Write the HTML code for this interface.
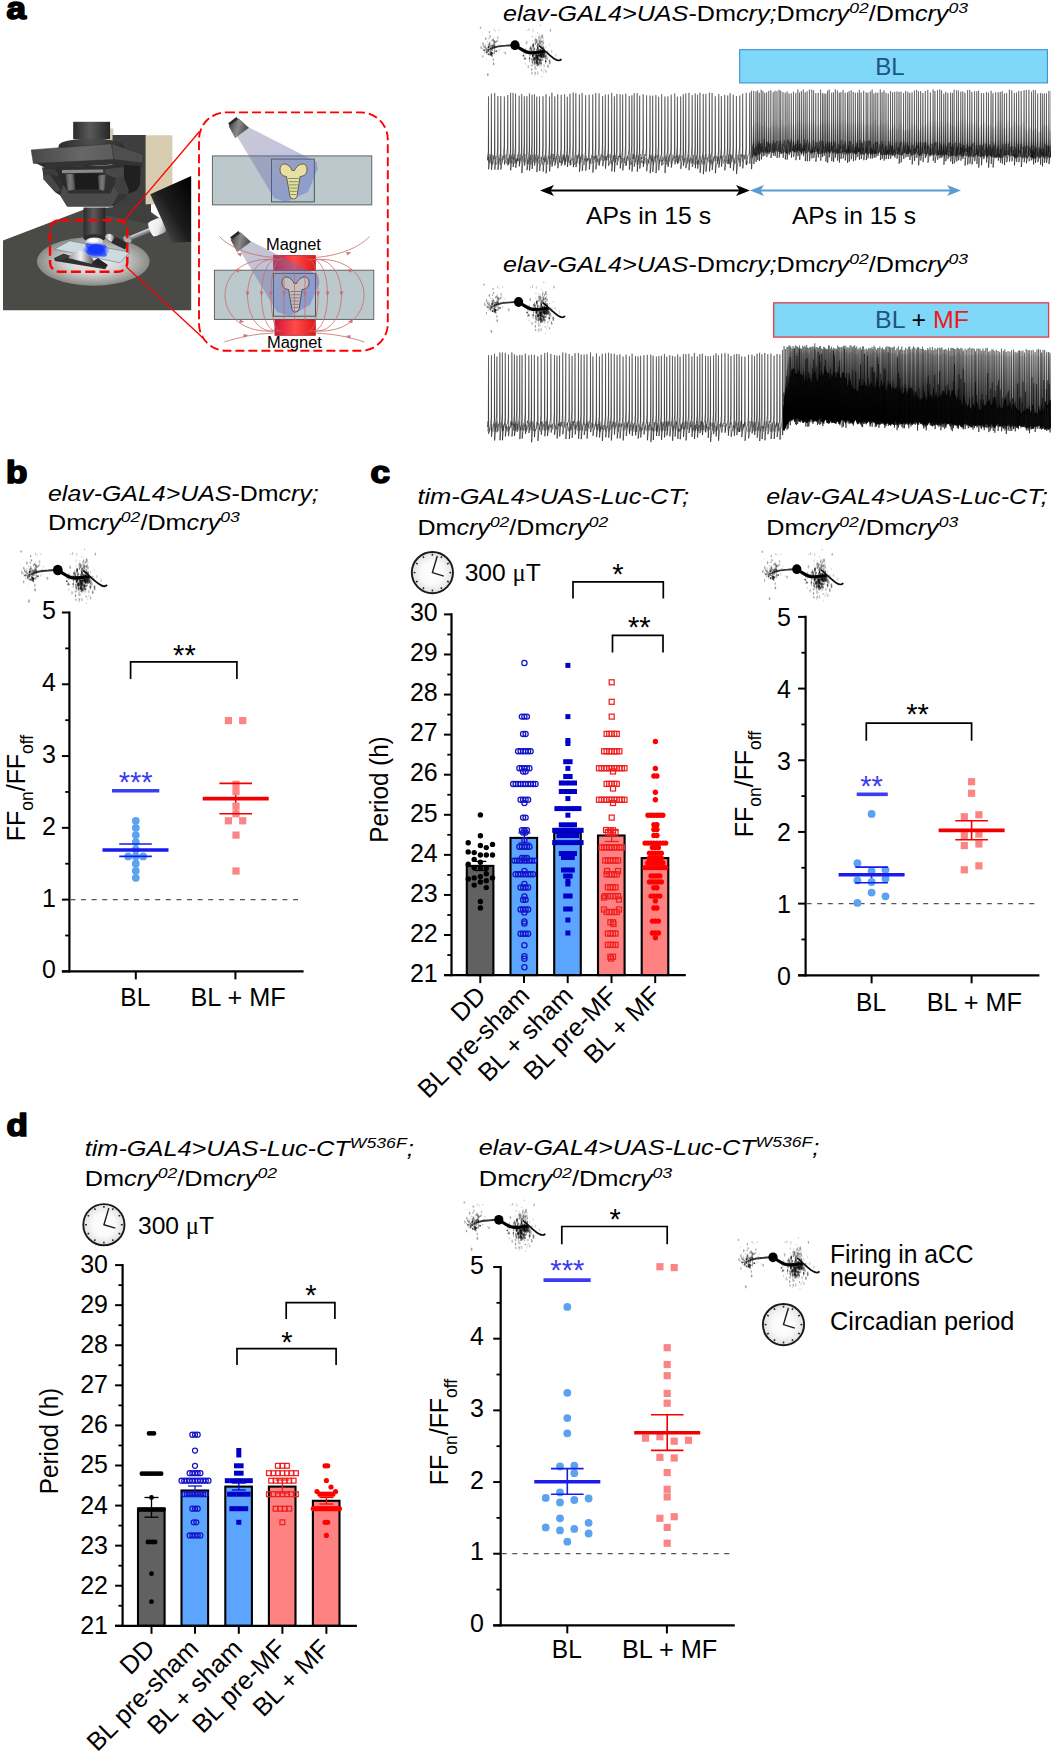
<!DOCTYPE html>
<html><head><meta charset="utf-8"><title>Figure</title>
<style>html,body{margin:0;padding:0;background:#fff}svg{display:block}text{font-family:"Liberation Sans",sans-serif}.i{font-style:italic}</style>
</head><body>
<svg width="1051" height="1752" viewBox="0 0 1051 1752">
<defs><filter id="nblur" x="-10%" y="-20%" width="120%" height="140%"><feGaussianBlur stdDeviation="0.45"/></filter><g id="neuron" filter="url(#nblur)"><ellipse cx="-30.4" cy="5.0" rx="0.81" ry="1.38" fill="#000" opacity="0.23"/><ellipse cx="-26.8" cy="-0.7" rx="0.58" ry="1.23" fill="#000" opacity="0.28"/><ellipse cx="-20.3" cy="5.8" rx="0.35" ry="0.69" fill="#000" opacity="0.34"/><ellipse cx="-9.7" cy="7.9" rx="0.83" ry="1.55" fill="#000" opacity="0.29"/><ellipse cx="-23.5" cy="3.2" rx="0.59" ry="0.75" fill="#000" opacity="0.10"/><ellipse cx="-23.9" cy="4.0" rx="0.56" ry="1.21" fill="#000" opacity="0.22"/><ellipse cx="-31.4" cy="0.6" rx="0.57" ry="0.94" fill="#000" opacity="0.29"/><ellipse cx="-27.2" cy="29.4" rx="0.85" ry="1.69" fill="#000" opacity="0.35"/><ellipse cx="-25.5" cy="7.3" rx="0.46" ry="0.95" fill="#000" opacity="0.10"/><ellipse cx="-32.2" cy="11.1" rx="0.51" ry="1.12" fill="#000" opacity="0.39"/><ellipse cx="-20.4" cy="2.0" rx="0.80" ry="1.90" fill="#000" opacity="0.23"/><ellipse cx="-25.6" cy="3.9" rx="0.65" ry="0.89" fill="#000" opacity="0.33"/><ellipse cx="-20.0" cy="5.7" rx="0.83" ry="0.97" fill="#000" opacity="0.32"/><ellipse cx="-23.9" cy="5.7" rx="0.33" ry="0.42" fill="#000" opacity="0.34"/><ellipse cx="-29.3" cy="-1.2" rx="0.40" ry="0.48" fill="#000" opacity="0.31"/><ellipse cx="-25.6" cy="-1.1" rx="0.53" ry="0.73" fill="#000" opacity="0.15"/><ellipse cx="-14.8" cy="-0.6" rx="0.47" ry="0.61" fill="#000" opacity="0.36"/><ellipse cx="-32.0" cy="11.7" rx="0.65" ry="1.56" fill="#000" opacity="0.11"/><ellipse cx="-23.1" cy="8.0" rx="0.72" ry="1.03" fill="#000" opacity="0.19"/><ellipse cx="-22.0" cy="3.5" rx="0.62" ry="1.14" fill="#000" opacity="0.16"/><ellipse cx="-28.0" cy="8.3" rx="0.83" ry="1.49" fill="#000" opacity="0.23"/><ellipse cx="-21.8" cy="-1.8" rx="0.38" ry="0.83" fill="#000" opacity="0.37"/><ellipse cx="-24.0" cy="7.2" rx="0.71" ry="0.90" fill="#000" opacity="0.38"/><ellipse cx="-13.8" cy="-3.1" rx="0.63" ry="0.72" fill="#000" opacity="0.21"/><ellipse cx="-11.1" cy="6.9" rx="0.43" ry="0.59" fill="#000" opacity="0.31"/><ellipse cx="-20.9" cy="-7.6" rx="0.46" ry="0.93" fill="#000" opacity="0.14"/><ellipse cx="-20.6" cy="4.4" rx="0.61" ry="1.13" fill="#000" opacity="0.35"/><ellipse cx="-26.2" cy="19.5" rx="0.41" ry="0.57" fill="#000" opacity="0.09"/><ellipse cx="-25.7" cy="2.9" rx="0.40" ry="0.71" fill="#000" opacity="0.20"/><ellipse cx="-20.7" cy="7.6" rx="0.79" ry="1.52" fill="#000" opacity="0.39"/><ellipse cx="-26.5" cy="-7.9" rx="0.38" ry="0.39" fill="#000" opacity="0.09"/><ellipse cx="-17.2" cy="-4.6" rx="0.83" ry="1.57" fill="#000" opacity="0.09"/><ellipse cx="-32.4" cy="3.4" rx="0.48" ry="0.53" fill="#000" opacity="0.40"/><ellipse cx="-32.1" cy="-1.7" rx="0.80" ry="1.58" fill="#000" opacity="0.32"/><ellipse cx="-20.9" cy="-15.1" rx="0.49" ry="1.12" fill="#000" opacity="0.30"/><ellipse cx="-20.3" cy="-4.0" rx="0.73" ry="1.32" fill="#000" opacity="0.36"/><ellipse cx="-27.6" cy="-3.6" rx="0.62" ry="0.69" fill="#000" opacity="0.27"/><ellipse cx="-34.5" cy="-17.4" rx="0.78" ry="1.21" fill="#000" opacity="0.31"/><ellipse cx="-24.6" cy="-8.5" rx="0.54" ry="0.61" fill="#000" opacity="0.35"/><ellipse cx="-24.0" cy="0.0" rx="0.63" ry="0.83" fill="#000" opacity="0.23"/><ellipse cx="-25.9" cy="-6.9" rx="0.64" ry="0.87" fill="#000" opacity="0.37"/><ellipse cx="-19.6" cy="2.5" rx="0.67" ry="0.83" fill="#000" opacity="0.14"/><ellipse cx="-17.7" cy="-4.6" rx="0.54" ry="0.79" fill="#000" opacity="0.37"/><ellipse cx="-25.7" cy="-2.6" rx="0.54" ry="1.22" fill="#000" opacity="0.34"/><ellipse cx="-20.3" cy="-3.4" rx="0.62" ry="0.74" fill="#000" opacity="0.18"/><ellipse cx="-33.9" cy="2.3" rx="0.77" ry="1.79" fill="#000" opacity="0.31"/><ellipse cx="-24.5" cy="6.8" rx="0.55" ry="0.71" fill="#000" opacity="0.17"/><ellipse cx="-30.3" cy="7.8" rx="0.57" ry="1.24" fill="#000" opacity="0.18"/><ellipse cx="-18.3" cy="1.0" rx="0.34" ry="0.76" fill="#000" opacity="0.09"/><ellipse cx="-16.1" cy="5.2" rx="0.61" ry="1.29" fill="#000" opacity="0.18"/><ellipse cx="-21.2" cy="2.5" rx="0.55" ry="1.19" fill="#000" opacity="0.09"/><ellipse cx="-23.8" cy="6.4" rx="0.33" ry="0.53" fill="#000" opacity="0.28"/><ellipse cx="-29.2" cy="-6.5" rx="0.74" ry="1.46" fill="#000" opacity="0.39"/><ellipse cx="-22.2" cy="10.6" rx="0.40" ry="0.66" fill="#000" opacity="0.08"/><ellipse cx="-24.7" cy="-2.9" rx="0.45" ry="0.89" fill="#000" opacity="0.19"/><ellipse cx="-31.1" cy="0.6" rx="0.72" ry="1.51" fill="#000" opacity="0.21"/><ellipse cx="-22.2" cy="0.1" rx="0.81" ry="0.96" fill="#000" opacity="0.31"/><ellipse cx="-31.0" cy="5.2" rx="0.80" ry="1.44" fill="#000" opacity="0.20"/><ellipse cx="-17.3" cy="-7.8" rx="0.82" ry="1.57" fill="#000" opacity="0.23"/><ellipse cx="-21.7" cy="14.3" rx="0.75" ry="1.50" fill="#000" opacity="0.29"/><ellipse cx="-21.4" cy="18.7" rx="0.84" ry="1.47" fill="#000" opacity="0.39"/><ellipse cx="-22.8" cy="-4.8" rx="0.80" ry="1.19" fill="#000" opacity="0.35"/><ellipse cx="-19.1" cy="6.3" rx="0.60" ry="1.01" fill="#000" opacity="0.33"/><ellipse cx="-14.7" cy="4.6" rx="0.34" ry="0.42" fill="#000" opacity="0.34"/><ellipse cx="-28.7" cy="14.1" rx="0.38" ry="0.65" fill="#000" opacity="0.13"/><ellipse cx="-25.6" cy="-13.1" rx="0.68" ry="1.15" fill="#000" opacity="0.38"/><ellipse cx="-21.9" cy="0.9" rx="0.42" ry="0.59" fill="#000" opacity="0.25"/><ellipse cx="-25.0" cy="-9.3" rx="0.59" ry="1.05" fill="#000" opacity="0.35"/><ellipse cx="-25.9" cy="9.3" rx="0.76" ry="0.99" fill="#000" opacity="0.37"/><ellipse cx="-15.9" cy="-15.0" rx="0.59" ry="0.75" fill="#000" opacity="0.26"/><ellipse cx="-30.0" cy="-0.1" rx="0.63" ry="1.49" fill="#000" opacity="0.09"/><ellipse cx="-29.2" cy="1.2" rx="0.74" ry="1.25" fill="#000" opacity="0.26"/><ellipse cx="-24.7" cy="-0.8" rx="0.60" ry="1.40" fill="#000" opacity="0.21"/><ellipse cx="-20.3" cy="-0.9" rx="0.56" ry="0.90" fill="#000" opacity="0.12"/><ellipse cx="-19.5" cy="-13.7" rx="0.56" ry="0.71" fill="#000" opacity="0.18"/><ellipse cx="-32.7" cy="-10.3" rx="0.37" ry="0.38" fill="#000" opacity="0.33"/><ellipse cx="-22.7" cy="7.4" rx="0.68" ry="1.02" fill="#000" opacity="0.18"/><ellipse cx="-25.8" cy="-0.6" rx="0.70" ry="1.20" fill="#000" opacity="0.12"/><ellipse cx="-24.0" cy="7.3" rx="0.59" ry="0.90" fill="#000" opacity="0.22"/><ellipse cx="-29.5" cy="7.1" rx="0.39" ry="0.73" fill="#000" opacity="0.15"/><ellipse cx="-25.9" cy="1.1" rx="0.93" ry="1.56" fill="#000" opacity="0.59"/><ellipse cx="-23.6" cy="7.7" rx="0.91" ry="1.13" fill="#000" opacity="0.71"/><ellipse cx="-26.2" cy="8.9" rx="0.61" ry="1.04" fill="#000" opacity="0.75"/><ellipse cx="-22.8" cy="4.9" rx="0.86" ry="0.93" fill="#000" opacity="0.45"/><ellipse cx="-22.8" cy="1.1" rx="0.89" ry="1.18" fill="#000" opacity="0.40"/><ellipse cx="-24.2" cy="3.0" rx="0.60" ry="1.04" fill="#000" opacity="0.62"/><ellipse cx="-22.8" cy="3.2" rx="0.75" ry="1.06" fill="#000" opacity="0.65"/><ellipse cx="-24.6" cy="2.0" rx="0.54" ry="0.55" fill="#000" opacity="0.39"/><ellipse cx="-26.7" cy="2.5" rx="0.78" ry="0.90" fill="#000" opacity="0.41"/><ellipse cx="-22.7" cy="8.3" rx="1.00" ry="1.07" fill="#000" opacity="0.72"/><ellipse cx="-18.5" cy="5.9" rx="0.73" ry="0.92" fill="#000" opacity="0.66"/><ellipse cx="-26.8" cy="4.1" rx="0.72" ry="0.72" fill="#000" opacity="0.59"/><ellipse cx="-25.4" cy="-1.3" rx="0.59" ry="0.94" fill="#000" opacity="0.53"/><ellipse cx="-25.3" cy="4.5" rx="0.58" ry="0.59" fill="#000" opacity="0.56"/><ellipse cx="-20.6" cy="0.6" rx="0.85" ry="1.28" fill="#000" opacity="0.69"/><ellipse cx="-26.7" cy="5.5" rx="0.75" ry="1.24" fill="#000" opacity="0.74"/><ellipse cx="-24.3" cy="9.2" rx="0.87" ry="1.44" fill="#000" opacity="0.66"/><ellipse cx="-28.2" cy="6.6" rx="0.94" ry="1.52" fill="#000" opacity="0.63"/><ellipse cx="-23.8" cy="0.9" rx="0.86" ry="1.10" fill="#000" opacity="0.38"/><ellipse cx="-24.3" cy="3.6" rx="0.68" ry="1.02" fill="#000" opacity="0.61"/><ellipse cx="-23.4" cy="9.7" rx="0.83" ry="1.27" fill="#000" opacity="0.49"/><ellipse cx="-26.7" cy="2.1" rx="0.69" ry="1.05" fill="#000" opacity="0.75"/><ellipse cx="20.6" cy="-7.3" rx="0.94" ry="2.16" fill="#000" opacity="0.09"/><ellipse cx="23.2" cy="0.7" rx="0.59" ry="0.92" fill="#000" opacity="0.10"/><ellipse cx="21.7" cy="11.0" rx="0.50" ry="1.10" fill="#000" opacity="0.39"/><ellipse cx="8.9" cy="6.8" rx="0.69" ry="1.62" fill="#000" opacity="0.42"/><ellipse cx="24.3" cy="4.5" rx="0.71" ry="0.91" fill="#000" opacity="0.34"/><ellipse cx="26.5" cy="5.6" rx="0.63" ry="1.32" fill="#000" opacity="0.14"/><ellipse cx="22.0" cy="5.9" rx="0.92" ry="1.97" fill="#000" opacity="0.22"/><ellipse cx="19.1" cy="2.8" rx="0.52" ry="1.15" fill="#000" opacity="0.30"/><ellipse cx="21.6" cy="22.8" rx="0.53" ry="0.87" fill="#000" opacity="0.08"/><ellipse cx="26.7" cy="9.5" rx="0.80" ry="2.26" fill="#000" opacity="0.21"/><ellipse cx="23.5" cy="5.0" rx="0.94" ry="1.26" fill="#000" opacity="0.40"/><ellipse cx="28.4" cy="2.4" rx="0.64" ry="1.04" fill="#000" opacity="0.41"/><ellipse cx="10.5" cy="4.7" rx="0.78" ry="2.32" fill="#000" opacity="0.24"/><ellipse cx="26.6" cy="-3.8" rx="0.42" ry="0.85" fill="#000" opacity="0.29"/><ellipse cx="24.0" cy="11.0" rx="0.67" ry="1.33" fill="#000" opacity="0.12"/><ellipse cx="20.5" cy="-1.1" rx="0.51" ry="0.99" fill="#000" opacity="0.28"/><ellipse cx="24.7" cy="-3.5" rx="0.95" ry="2.39" fill="#000" opacity="0.40"/><ellipse cx="23.7" cy="12.7" rx="0.89" ry="2.06" fill="#000" opacity="0.35"/><ellipse cx="20.7" cy="13.9" rx="0.76" ry="1.72" fill="#000" opacity="0.27"/><ellipse cx="17.2" cy="-3.8" rx="0.46" ry="1.37" fill="#000" opacity="0.16"/><ellipse cx="33.4" cy="-1.9" rx="0.37" ry="0.63" fill="#000" opacity="0.10"/><ellipse cx="16.5" cy="14.0" rx="0.41" ry="0.55" fill="#000" opacity="0.26"/><ellipse cx="30.7" cy="15.4" rx="0.68" ry="1.27" fill="#000" opacity="0.29"/><ellipse cx="19.7" cy="8.9" rx="0.56" ry="1.51" fill="#000" opacity="0.33"/><ellipse cx="26.0" cy="10.2" rx="0.84" ry="2.16" fill="#000" opacity="0.29"/><ellipse cx="24.9" cy="17.7" rx="0.50" ry="0.94" fill="#000" opacity="0.36"/><ellipse cx="13.9" cy="-15.5" rx="0.55" ry="1.39" fill="#000" opacity="0.27"/><ellipse cx="28.7" cy="3.2" rx="0.57" ry="1.59" fill="#000" opacity="0.11"/><ellipse cx="25.6" cy="9.9" rx="0.69" ry="1.68" fill="#000" opacity="0.24"/><ellipse cx="20.6" cy="23.7" rx="0.40" ry="0.95" fill="#000" opacity="0.15"/><ellipse cx="27.7" cy="12.0" rx="0.78" ry="1.34" fill="#000" opacity="0.32"/><ellipse cx="26.8" cy="15.0" rx="0.79" ry="1.11" fill="#000" opacity="0.20"/><ellipse cx="21.7" cy="-3.9" rx="0.90" ry="2.56" fill="#000" opacity="0.40"/><ellipse cx="14.2" cy="14.5" rx="0.53" ry="1.02" fill="#000" opacity="0.19"/><ellipse cx="34.4" cy="-0.0" rx="0.50" ry="0.93" fill="#000" opacity="0.20"/><ellipse cx="19.8" cy="15.2" rx="0.58" ry="1.29" fill="#000" opacity="0.15"/><ellipse cx="25.5" cy="-3.3" rx="0.85" ry="1.29" fill="#000" opacity="0.27"/><ellipse cx="24.1" cy="-11.6" rx="0.52" ry="1.10" fill="#000" opacity="0.09"/><ellipse cx="16.5" cy="4.6" rx="0.93" ry="2.46" fill="#000" opacity="0.30"/><ellipse cx="30.0" cy="12.7" rx="0.82" ry="1.11" fill="#000" opacity="0.11"/><ellipse cx="22.5" cy="-12.3" rx="0.40" ry="0.58" fill="#000" opacity="0.30"/><ellipse cx="23.3" cy="-5.7" rx="0.50" ry="1.28" fill="#000" opacity="0.15"/><ellipse cx="14.1" cy="5.8" rx="0.59" ry="1.73" fill="#000" opacity="0.19"/><ellipse cx="20.4" cy="-1.8" rx="0.67" ry="1.66" fill="#000" opacity="0.33"/><ellipse cx="28.5" cy="3.0" rx="0.85" ry="2.31" fill="#000" opacity="0.31"/><ellipse cx="27.2" cy="-8.9" rx="0.88" ry="2.08" fill="#000" opacity="0.41"/><ellipse cx="14.8" cy="5.8" rx="0.83" ry="1.63" fill="#000" opacity="0.22"/><ellipse cx="29.1" cy="20.4" rx="0.94" ry="1.42" fill="#000" opacity="0.21"/><ellipse cx="25.2" cy="17.6" rx="0.53" ry="0.69" fill="#000" opacity="0.41"/><ellipse cx="22.5" cy="12.4" rx="0.74" ry="1.13" fill="#000" opacity="0.34"/><ellipse cx="29.2" cy="12.0" rx="0.70" ry="0.89" fill="#000" opacity="0.39"/><ellipse cx="26.3" cy="11.8" rx="0.48" ry="1.20" fill="#000" opacity="0.16"/><ellipse cx="20.2" cy="4.2" rx="0.46" ry="0.70" fill="#000" opacity="0.18"/><ellipse cx="23.7" cy="-0.2" rx="0.68" ry="1.40" fill="#000" opacity="0.36"/><ellipse cx="22.7" cy="27.8" rx="0.90" ry="1.96" fill="#000" opacity="0.20"/><ellipse cx="29.7" cy="5.1" rx="0.48" ry="1.40" fill="#000" opacity="0.10"/><ellipse cx="25.3" cy="-0.9" rx="0.67" ry="1.13" fill="#000" opacity="0.26"/><ellipse cx="31.7" cy="7.1" rx="0.49" ry="1.01" fill="#000" opacity="0.08"/><ellipse cx="16.6" cy="20.2" rx="0.78" ry="1.15" fill="#000" opacity="0.29"/><ellipse cx="26.2" cy="15.0" rx="0.51" ry="1.08" fill="#000" opacity="0.38"/><ellipse cx="12.0" cy="-14.7" rx="0.51" ry="0.75" fill="#000" opacity="0.26"/><ellipse cx="23.5" cy="7.5" rx="0.84" ry="2.26" fill="#000" opacity="0.37"/><ellipse cx="27.4" cy="11.7" rx="0.78" ry="1.61" fill="#000" opacity="0.11"/><ellipse cx="9.8" cy="12.6" rx="0.70" ry="1.23" fill="#000" opacity="0.37"/><ellipse cx="24.9" cy="-1.6" rx="0.90" ry="2.42" fill="#000" opacity="0.11"/><ellipse cx="25.3" cy="19.5" rx="0.67" ry="1.80" fill="#000" opacity="0.13"/><ellipse cx="21.7" cy="15.6" rx="0.40" ry="0.81" fill="#000" opacity="0.18"/><ellipse cx="22.4" cy="-0.8" rx="0.76" ry="1.46" fill="#000" opacity="0.12"/><ellipse cx="9.3" cy="13.9" rx="0.85" ry="1.04" fill="#000" opacity="0.30"/><ellipse cx="17.2" cy="18.4" rx="0.49" ry="1.00" fill="#000" opacity="0.27"/><ellipse cx="40.8" cy="9.9" rx="0.83" ry="1.92" fill="#000" opacity="0.15"/><ellipse cx="22.1" cy="16.9" rx="0.67" ry="1.22" fill="#000" opacity="0.18"/><ellipse cx="17.0" cy="16.8" rx="0.50" ry="1.27" fill="#000" opacity="0.15"/><ellipse cx="17.0" cy="28.1" rx="0.69" ry="1.24" fill="#000" opacity="0.33"/><ellipse cx="24.6" cy="4.3" rx="0.43" ry="1.05" fill="#000" opacity="0.11"/><ellipse cx="22.6" cy="2.2" rx="0.59" ry="1.34" fill="#000" opacity="0.36"/><ellipse cx="26.9" cy="11.7" rx="0.44" ry="0.86" fill="#000" opacity="0.12"/><ellipse cx="34.8" cy="17.4" rx="0.61" ry="1.43" fill="#000" opacity="0.25"/><ellipse cx="24.6" cy="-9.5" rx="0.58" ry="1.13" fill="#000" opacity="0.19"/><ellipse cx="29.1" cy="8.9" rx="0.77" ry="2.02" fill="#000" opacity="0.41"/><ellipse cx="19.4" cy="-3.0" rx="0.36" ry="0.66" fill="#000" opacity="0.19"/><ellipse cx="21.9" cy="4.3" rx="0.58" ry="1.51" fill="#000" opacity="0.25"/><ellipse cx="27.0" cy="-3.6" rx="0.45" ry="1.26" fill="#000" opacity="0.34"/><ellipse cx="18.5" cy="5.4" rx="0.65" ry="1.62" fill="#000" opacity="0.13"/><ellipse cx="30.2" cy="7.1" rx="0.78" ry="1.21" fill="#000" opacity="0.36"/><ellipse cx="30.9" cy="3.5" rx="0.47" ry="0.77" fill="#000" opacity="0.11"/><ellipse cx="15.8" cy="1.2" rx="0.55" ry="1.01" fill="#000" opacity="0.40"/><ellipse cx="20.7" cy="9.1" rx="0.93" ry="2.64" fill="#000" opacity="0.13"/><ellipse cx="16.6" cy="4.7" rx="0.69" ry="1.95" fill="#000" opacity="0.17"/><ellipse cx="33.8" cy="7.1" rx="0.71" ry="1.91" fill="#000" opacity="0.12"/><ellipse cx="20.6" cy="27.7" rx="0.49" ry="1.33" fill="#000" opacity="0.28"/><ellipse cx="26.3" cy="19.0" rx="0.40" ry="0.60" fill="#000" opacity="0.09"/><ellipse cx="36.7" cy="6.2" rx="0.75" ry="1.79" fill="#000" opacity="0.18"/><ellipse cx="23.1" cy="-1.3" rx="0.71" ry="0.87" fill="#000" opacity="0.35"/><ellipse cx="25.5" cy="18.1" rx="0.44" ry="0.97" fill="#000" opacity="0.21"/><ellipse cx="26.6" cy="18.2" rx="0.51" ry="0.91" fill="#000" opacity="0.27"/><ellipse cx="22.5" cy="5.9" rx="0.75" ry="2.20" fill="#000" opacity="0.13"/><ellipse cx="18.4" cy="1.7" rx="0.60" ry="1.46" fill="#000" opacity="0.29"/><ellipse cx="24.0" cy="-7.8" rx="0.64" ry="1.74" fill="#000" opacity="0.42"/><ellipse cx="27.0" cy="0.3" rx="0.61" ry="1.73" fill="#000" opacity="0.27"/><ellipse cx="16.8" cy="6.1" rx="0.61" ry="1.08" fill="#000" opacity="0.39"/><ellipse cx="32.0" cy="13.1" rx="0.89" ry="2.03" fill="#000" opacity="0.33"/><ellipse cx="23.6" cy="-0.1" rx="0.71" ry="1.01" fill="#000" opacity="0.10"/><ellipse cx="17.2" cy="11.7" rx="0.59" ry="1.44" fill="#000" opacity="0.10"/><ellipse cx="19.4" cy="6.8" rx="0.53" ry="0.87" fill="#000" opacity="0.21"/><ellipse cx="34.7" cy="16.7" rx="0.93" ry="2.57" fill="#000" opacity="0.31"/><ellipse cx="14.6" cy="16.1" rx="0.48" ry="1.07" fill="#000" opacity="0.33"/><ellipse cx="25.6" cy="5.5" rx="0.83" ry="1.79" fill="#000" opacity="0.12"/><ellipse cx="23.7" cy="7.9" rx="0.50" ry="0.89" fill="#000" opacity="0.18"/><ellipse cx="34.5" cy="15.7" rx="0.84" ry="1.55" fill="#000" opacity="0.22"/><ellipse cx="22.0" cy="6.5" rx="0.37" ry="0.65" fill="#000" opacity="0.39"/><ellipse cx="10.4" cy="8.2" rx="0.94" ry="1.47" fill="#000" opacity="0.24"/><ellipse cx="19.9" cy="28.6" rx="0.89" ry="2.41" fill="#000" opacity="0.15"/><ellipse cx="19.6" cy="16.5" rx="0.45" ry="1.36" fill="#000" opacity="0.38"/><ellipse cx="25.9" cy="20.8" rx="0.46" ry="0.60" fill="#000" opacity="0.38"/><ellipse cx="30.6" cy="17.4" rx="0.54" ry="1.49" fill="#000" opacity="0.39"/><ellipse cx="22.8" cy="3.0" rx="0.77" ry="1.54" fill="#000" opacity="0.40"/><ellipse cx="27.0" cy="11.2" rx="0.53" ry="0.83" fill="#000" opacity="0.32"/><ellipse cx="25.2" cy="14.3" rx="0.75" ry="1.40" fill="#000" opacity="0.35"/><ellipse cx="17.4" cy="-8.8" rx="0.70" ry="1.23" fill="#000" opacity="0.16"/><ellipse cx="30.9" cy="1.7" rx="0.52" ry="0.70" fill="#000" opacity="0.30"/><ellipse cx="29.5" cy="6.9" rx="0.67" ry="0.85" fill="#000" opacity="0.26"/><ellipse cx="19.8" cy="3.4" rx="0.50" ry="0.68" fill="#000" opacity="0.35"/><ellipse cx="21.4" cy="23.6" rx="0.50" ry="1.09" fill="#000" opacity="0.17"/><ellipse cx="28.1" cy="26.7" rx="0.94" ry="1.91" fill="#000" opacity="0.09"/><ellipse cx="23.5" cy="-1.4" rx="0.91" ry="1.38" fill="#000" opacity="0.25"/><ellipse cx="15.9" cy="3.3" rx="0.57" ry="1.48" fill="#000" opacity="0.30"/><ellipse cx="16.9" cy="6.8" rx="0.86" ry="1.83" fill="#000" opacity="0.31"/><ellipse cx="26.8" cy="6.2" rx="0.82" ry="1.88" fill="#000" opacity="0.14"/><ellipse cx="24.1" cy="18.2" rx="0.81" ry="2.14" fill="#000" opacity="0.35"/><ellipse cx="24.1" cy="19.0" rx="0.48" ry="1.01" fill="#000" opacity="0.28"/><ellipse cx="30.9" cy="10.8" rx="0.78" ry="2.16" fill="#000" opacity="0.27"/><ellipse cx="24.9" cy="12.9" rx="0.36" ry="0.71" fill="#000" opacity="0.25"/><ellipse cx="19.4" cy="10.7" rx="0.83" ry="2.35" fill="#000" opacity="0.10"/><ellipse cx="17.1" cy="3.0" rx="0.82" ry="1.21" fill="#000" opacity="0.16"/><ellipse cx="22.9" cy="10.6" rx="0.54" ry="1.16" fill="#000" opacity="0.29"/><ellipse cx="22.8" cy="20.6" rx="0.40" ry="0.61" fill="#000" opacity="0.36"/><ellipse cx="23.4" cy="13.6" rx="0.76" ry="2.00" fill="#000" opacity="0.36"/><ellipse cx="28.8" cy="11.7" rx="0.57" ry="1.68" fill="#000" opacity="0.15"/><ellipse cx="29.8" cy="10.9" rx="0.81" ry="1.18" fill="#000" opacity="0.42"/><ellipse cx="14.6" cy="12.4" rx="0.37" ry="1.05" fill="#000" opacity="0.16"/><ellipse cx="27.0" cy="15.4" rx="0.53" ry="0.71" fill="#000" opacity="0.22"/><ellipse cx="41.7" cy="14.8" rx="0.81" ry="1.30" fill="#000" opacity="0.33"/><ellipse cx="23.4" cy="20.0" rx="0.50" ry="1.42" fill="#000" opacity="0.24"/><ellipse cx="20.2" cy="14.5" rx="0.94" ry="1.19" fill="#000" opacity="0.29"/><ellipse cx="16.8" cy="15.9" rx="0.39" ry="0.94" fill="#000" opacity="0.20"/><ellipse cx="28.4" cy="-1.6" rx="0.88" ry="1.68" fill="#000" opacity="0.24"/><ellipse cx="26.5" cy="0.2" rx="0.82" ry="1.49" fill="#000" opacity="0.15"/><ellipse cx="26.4" cy="19.0" rx="0.45" ry="0.71" fill="#000" opacity="0.15"/><ellipse cx="18.8" cy="9.6" rx="0.62" ry="1.50" fill="#000" opacity="0.42"/><ellipse cx="26.0" cy="3.1" rx="0.58" ry="1.42" fill="#000" opacity="0.10"/><ellipse cx="20.6" cy="13.8" rx="0.36" ry="0.60" fill="#000" opacity="0.14"/><ellipse cx="13.6" cy="21.4" rx="0.78" ry="1.44" fill="#000" opacity="0.17"/><ellipse cx="31.0" cy="26.3" rx="0.57" ry="1.42" fill="#000" opacity="0.34"/><ellipse cx="24.4" cy="6.9" rx="0.54" ry="0.73" fill="#000" opacity="0.21"/><ellipse cx="27.2" cy="2.3" rx="0.81" ry="1.06" fill="#000" opacity="0.26"/><ellipse cx="20.3" cy="12.3" rx="0.37" ry="0.85" fill="#000" opacity="0.13"/><ellipse cx="28.2" cy="9.6" rx="0.60" ry="0.87" fill="#000" opacity="0.26"/><ellipse cx="22.3" cy="0.9" rx="0.79" ry="1.15" fill="#000" opacity="0.31"/><ellipse cx="24.8" cy="15.4" rx="0.78" ry="1.47" fill="#000" opacity="0.22"/><ellipse cx="26.2" cy="2.9" rx="0.53" ry="0.83" fill="#000" opacity="0.20"/><ellipse cx="24.7" cy="8.5" rx="0.73" ry="1.93" fill="#000" opacity="0.27"/><ellipse cx="28.2" cy="6.8" rx="0.75" ry="1.20" fill="#000" opacity="0.39"/><ellipse cx="20.4" cy="-5.1" rx="0.92" ry="1.50" fill="#000" opacity="0.38"/><ellipse cx="21.9" cy="4.9" rx="0.61" ry="0.79" fill="#000" opacity="0.21"/><ellipse cx="19.8" cy="13.7" rx="0.65" ry="0.96" fill="#000" opacity="0.18"/><ellipse cx="18.3" cy="14.2" rx="0.45" ry="0.73" fill="#000" opacity="0.31"/><ellipse cx="27.8" cy="12.8" rx="0.60" ry="1.36" fill="#000" opacity="0.13"/><ellipse cx="21.4" cy="-3.5" rx="0.77" ry="1.47" fill="#000" opacity="0.09"/><ellipse cx="22.2" cy="10.6" rx="0.59" ry="1.24" fill="#000" opacity="0.10"/><ellipse cx="18.1" cy="2.5" rx="0.55" ry="0.68" fill="#000" opacity="0.17"/><ellipse cx="16.7" cy="24.4" rx="0.69" ry="1.66" fill="#000" opacity="0.17"/><ellipse cx="26.0" cy="17.8" rx="0.72" ry="1.33" fill="#000" opacity="0.40"/><ellipse cx="11.6" cy="-2.5" rx="0.81" ry="1.88" fill="#000" opacity="0.29"/><ellipse cx="18.6" cy="13.2" rx="0.52" ry="1.44" fill="#000" opacity="0.36"/><ellipse cx="14.5" cy="22.1" rx="0.37" ry="0.79" fill="#000" opacity="0.13"/><ellipse cx="21.6" cy="16.4" rx="0.94" ry="1.45" fill="#000" opacity="0.13"/><ellipse cx="24.6" cy="22.2" rx="0.49" ry="1.07" fill="#000" opacity="0.08"/><ellipse cx="20.2" cy="12.3" rx="0.65" ry="1.41" fill="#000" opacity="0.30"/><ellipse cx="18.4" cy="-0.6" rx="0.85" ry="1.53" fill="#000" opacity="0.41"/><ellipse cx="16.8" cy="24.3" rx="0.54" ry="1.32" fill="#000" opacity="0.32"/><ellipse cx="17.9" cy="-14.6" rx="0.84" ry="1.96" fill="#000" opacity="0.13"/><ellipse cx="16.3" cy="8.7" rx="0.57" ry="1.46" fill="#000" opacity="0.18"/><ellipse cx="19.5" cy="6.5" rx="0.50" ry="0.76" fill="#000" opacity="0.19"/><ellipse cx="20.6" cy="7.6" rx="0.39" ry="0.54" fill="#000" opacity="0.10"/><ellipse cx="22.7" cy="3.5" rx="0.62" ry="1.28" fill="#000" opacity="0.34"/><ellipse cx="29.4" cy="24.3" rx="0.87" ry="1.44" fill="#000" opacity="0.10"/><ellipse cx="13.5" cy="7.2" rx="0.59" ry="0.97" fill="#000" opacity="0.32"/><ellipse cx="22.4" cy="-0.3" rx="0.55" ry="1.50" fill="#000" opacity="0.34"/><ellipse cx="26.9" cy="-2.8" rx="0.60" ry="1.40" fill="#000" opacity="0.32"/><ellipse cx="28.4" cy="-6.9" rx="0.43" ry="1.02" fill="#000" opacity="0.21"/><ellipse cx="23.9" cy="14.0" rx="0.36" ry="1.04" fill="#000" opacity="0.28"/><ellipse cx="26.4" cy="7.1" rx="0.76" ry="1.78" fill="#000" opacity="0.22"/><ellipse cx="13.1" cy="21.4" rx="0.94" ry="2.34" fill="#000" opacity="0.10"/><ellipse cx="24.7" cy="9.9" rx="0.52" ry="1.56" fill="#000" opacity="0.33"/><ellipse cx="27.2" cy="13.8" rx="0.37" ry="0.76" fill="#000" opacity="0.26"/><ellipse cx="20.1" cy="13.8" rx="0.83" ry="1.42" fill="#000" opacity="0.37"/><ellipse cx="17.5" cy="16.3" rx="0.81" ry="1.54" fill="#000" opacity="0.41"/><ellipse cx="21.1" cy="-3.2" rx="0.83" ry="1.26" fill="#000" opacity="0.13"/><ellipse cx="33.7" cy="21.8" rx="0.50" ry="0.71" fill="#000" opacity="0.25"/><ellipse cx="23.0" cy="9.7" rx="0.69" ry="1.60" fill="#000" opacity="0.13"/><ellipse cx="22.9" cy="14.7" rx="0.64" ry="1.07" fill="#000" opacity="0.20"/><ellipse cx="25.4" cy="9.1" rx="0.89" ry="1.19" fill="#000" opacity="0.19"/><ellipse cx="26.1" cy="18.0" rx="0.95" ry="2.62" fill="#000" opacity="0.15"/><ellipse cx="17.7" cy="9.0" rx="0.83" ry="1.09" fill="#000" opacity="0.21"/><ellipse cx="15.7" cy="3.7" rx="0.72" ry="2.09" fill="#000" opacity="0.17"/><ellipse cx="35.4" cy="-15.0" rx="0.62" ry="1.54" fill="#000" opacity="0.36"/><ellipse cx="24.1" cy="10.0" rx="0.45" ry="0.60" fill="#000" opacity="0.12"/><ellipse cx="17.6" cy="20.3" rx="0.54" ry="0.65" fill="#000" opacity="0.25"/><ellipse cx="27.0" cy="31.3" rx="0.36" ry="0.95" fill="#000" opacity="0.26"/><ellipse cx="25.9" cy="-6.9" rx="0.59" ry="1.59" fill="#000" opacity="0.35"/><ellipse cx="25.3" cy="-19.6" rx="0.41" ry="0.79" fill="#000" opacity="0.40"/><ellipse cx="22.3" cy="1.1" rx="0.90" ry="2.00" fill="#000" opacity="0.09"/><ellipse cx="24.3" cy="17.3" rx="0.57" ry="1.52" fill="#000" opacity="0.30"/><ellipse cx="18.2" cy="18.2" rx="0.56" ry="1.59" fill="#000" opacity="0.17"/><ellipse cx="22.4" cy="11.8" rx="0.55" ry="0.87" fill="#000" opacity="0.33"/><ellipse cx="23.2" cy="-3.9" rx="0.76" ry="1.05" fill="#000" opacity="0.14"/><ellipse cx="26.7" cy="14.9" rx="0.61" ry="1.28" fill="#000" opacity="0.08"/><ellipse cx="19.4" cy="12.8" rx="0.67" ry="1.05" fill="#000" opacity="0.40"/><ellipse cx="27.1" cy="2.3" rx="0.80" ry="2.39" fill="#000" opacity="0.12"/><ellipse cx="10.5" cy="18.4" rx="0.48" ry="1.19" fill="#000" opacity="0.22"/><ellipse cx="25.5" cy="14.8" rx="0.76" ry="1.35" fill="#000" opacity="0.40"/><ellipse cx="25.6" cy="16.2" rx="0.94" ry="2.21" fill="#000" opacity="0.13"/><ellipse cx="17.7" cy="17.5" rx="0.48" ry="1.34" fill="#000" opacity="0.29"/><ellipse cx="28.4" cy="-2.5" rx="0.65" ry="0.92" fill="#000" opacity="0.27"/><ellipse cx="28.0" cy="-4.4" rx="0.62" ry="1.22" fill="#000" opacity="0.31"/><ellipse cx="20.5" cy="12.6" rx="0.71" ry="1.51" fill="#000" opacity="0.27"/><ellipse cx="31.2" cy="10.7" rx="0.62" ry="1.40" fill="#000" opacity="0.28"/><ellipse cx="26.4" cy="5.7" rx="0.63" ry="1.60" fill="#000" opacity="0.42"/><ellipse cx="20.0" cy="22.3" rx="0.94" ry="2.61" fill="#000" opacity="0.22"/><ellipse cx="32.9" cy="20.9" rx="0.72" ry="1.83" fill="#000" opacity="0.41"/><ellipse cx="18.1" cy="0.5" rx="0.91" ry="1.83" fill="#000" opacity="0.66"/><ellipse cx="25.5" cy="9.9" rx="0.93" ry="1.49" fill="#000" opacity="0.62"/><ellipse cx="25.6" cy="4.8" rx="0.74" ry="1.13" fill="#000" opacity="0.69"/><ellipse cx="22.9" cy="17.1" rx="0.49" ry="1.21" fill="#000" opacity="0.55"/><ellipse cx="20.9" cy="10.2" rx="0.89" ry="2.17" fill="#000" opacity="0.68"/><ellipse cx="15.3" cy="6.7" rx="0.89" ry="1.59" fill="#000" opacity="0.37"/><ellipse cx="24.9" cy="10.8" rx="0.64" ry="1.62" fill="#000" opacity="0.69"/><ellipse cx="26.0" cy="12.1" rx="0.66" ry="1.45" fill="#000" opacity="0.68"/><ellipse cx="25.3" cy="8.9" rx="0.99" ry="2.19" fill="#000" opacity="0.39"/><ellipse cx="28.8" cy="4.4" rx="0.56" ry="1.05" fill="#000" opacity="0.60"/><ellipse cx="27.8" cy="10.4" rx="0.62" ry="1.03" fill="#000" opacity="0.58"/><ellipse cx="18.8" cy="5.4" rx="0.55" ry="1.27" fill="#000" opacity="0.36"/><ellipse cx="21.8" cy="10.5" rx="0.51" ry="1.12" fill="#000" opacity="0.72"/><ellipse cx="22.3" cy="12.6" rx="1.00" ry="2.37" fill="#000" opacity="0.61"/><ellipse cx="21.7" cy="13.3" rx="0.67" ry="1.49" fill="#000" opacity="0.37"/><ellipse cx="17.1" cy="14.2" rx="0.67" ry="1.36" fill="#000" opacity="0.51"/><ellipse cx="27.6" cy="8.3" rx="0.84" ry="1.78" fill="#000" opacity="0.41"/><ellipse cx="22.1" cy="19.9" rx="0.61" ry="1.39" fill="#000" opacity="0.68"/><ellipse cx="14.6" cy="13.3" rx="0.66" ry="1.43" fill="#000" opacity="0.63"/><ellipse cx="22.5" cy="10.6" rx="0.68" ry="1.30" fill="#000" opacity="0.43"/><ellipse cx="27.4" cy="8.8" rx="0.83" ry="1.32" fill="#000" opacity="0.60"/><ellipse cx="22.1" cy="11.4" rx="0.94" ry="1.77" fill="#000" opacity="0.41"/><ellipse cx="19.8" cy="17.8" rx="0.92" ry="1.90" fill="#000" opacity="0.57"/><ellipse cx="31.3" cy="16.2" rx="0.50" ry="0.90" fill="#000" opacity="0.46"/><ellipse cx="22.9" cy="2.7" rx="0.64" ry="1.74" fill="#000" opacity="0.70"/><ellipse cx="29.9" cy="11.0" rx="0.71" ry="1.38" fill="#000" opacity="0.46"/><ellipse cx="21.5" cy="16.8" rx="0.78" ry="2.16" fill="#000" opacity="0.74"/><ellipse cx="28.2" cy="9.8" rx="0.91" ry="2.10" fill="#000" opacity="0.59"/><ellipse cx="25.6" cy="10.0" rx="0.70" ry="1.58" fill="#000" opacity="0.48"/><ellipse cx="26.5" cy="24.8" rx="0.57" ry="0.81" fill="#000" opacity="0.47"/><ellipse cx="18.5" cy="15.1" rx="0.50" ry="1.11" fill="#000" opacity="0.38"/><ellipse cx="19.1" cy="4.3" rx="0.59" ry="1.40" fill="#000" opacity="0.67"/><ellipse cx="24.3" cy="7.5" rx="0.71" ry="1.82" fill="#000" opacity="0.31"/><ellipse cx="32.4" cy="6.4" rx="0.46" ry="0.95" fill="#000" opacity="0.46"/><ellipse cx="22.0" cy="9.5" rx="0.88" ry="1.78" fill="#000" opacity="0.44"/><ellipse cx="27.9" cy="14.6" rx="0.52" ry="1.05" fill="#000" opacity="0.34"/><ellipse cx="22.0" cy="18.3" rx="0.59" ry="0.75" fill="#000" opacity="0.49"/><ellipse cx="24.9" cy="15.4" rx="0.76" ry="1.94" fill="#000" opacity="0.51"/><ellipse cx="30.5" cy="15.9" rx="0.54" ry="1.09" fill="#000" opacity="0.74"/><ellipse cx="19.2" cy="13.8" rx="0.93" ry="1.72" fill="#000" opacity="0.73"/><ellipse cx="26.4" cy="10.2" rx="0.90" ry="2.11" fill="#000" opacity="0.63"/><ellipse cx="26.9" cy="15.1" rx="0.47" ry="0.78" fill="#000" opacity="0.35"/><ellipse cx="29.9" cy="8.5" rx="0.92" ry="1.71" fill="#000" opacity="0.32"/><ellipse cx="26.9" cy="11.8" rx="0.51" ry="0.88" fill="#000" opacity="0.71"/><ellipse cx="17.9" cy="10.5" rx="0.94" ry="1.98" fill="#000" opacity="0.73"/><ellipse cx="14.9" cy="9.9" rx="0.67" ry="1.59" fill="#000" opacity="0.43"/><ellipse cx="23.8" cy="14.8" rx="0.69" ry="1.22" fill="#000" opacity="0.51"/><ellipse cx="19.8" cy="12.3" rx="0.48" ry="0.62" fill="#000" opacity="0.68"/><ellipse cx="18.8" cy="8.9" rx="0.67" ry="0.91" fill="#000" opacity="0.40"/><ellipse cx="21.5" cy="13.1" rx="0.72" ry="1.72" fill="#000" opacity="0.40"/><ellipse cx="23.4" cy="10.1" rx="0.67" ry="0.82" fill="#000" opacity="0.73"/><ellipse cx="15.1" cy="3.0" rx="0.65" ry="1.17" fill="#000" opacity="0.57"/><ellipse cx="22.2" cy="16.5" rx="0.77" ry="1.55" fill="#000" opacity="0.44"/><ellipse cx="17.0" cy="9.1" rx="0.48" ry="0.77" fill="#000" opacity="0.34"/><ellipse cx="23.1" cy="18.8" rx="0.68" ry="1.26" fill="#000" opacity="0.69"/><ellipse cx="22.6" cy="17.4" rx="0.50" ry="1.26" fill="#000" opacity="0.74"/><ellipse cx="22.3" cy="13.9" rx="0.90" ry="2.01" fill="#000" opacity="0.65"/><ellipse cx="30.7" cy="13.0" rx="0.48" ry="0.99" fill="#000" opacity="0.58"/><ellipse cx="29.4" cy="6.9" rx="0.46" ry="1.11" fill="#000" opacity="0.72"/><ellipse cx="23.6" cy="9.7" rx="0.86" ry="1.96" fill="#000" opacity="0.49"/><ellipse cx="33.3" cy="8.9" rx="0.49" ry="0.94" fill="#000" opacity="0.65"/><ellipse cx="24.0" cy="5.1" rx="0.70" ry="0.97" fill="#000" opacity="0.50"/><ellipse cx="21.1" cy="17.4" rx="0.49" ry="1.24" fill="#000" opacity="0.35"/><ellipse cx="21.3" cy="4.6" rx="0.51" ry="0.87" fill="#000" opacity="0.35"/><ellipse cx="29.2" cy="8.2" rx="0.96" ry="1.78" fill="#000" opacity="0.40"/><ellipse cx="16.2" cy="7.8" rx="0.52" ry="1.01" fill="#000" opacity="0.69"/><ellipse cx="28.4" cy="11.0" rx="0.66" ry="1.77" fill="#000" opacity="0.60"/><ellipse cx="17.6" cy="10.3" rx="0.66" ry="0.91" fill="#000" opacity="0.65"/><ellipse cx="23.9" cy="7.0" rx="0.77" ry="1.35" fill="#000" opacity="0.39"/><path d="M-23,2.8 C-19,1.4 -14,0.6 -9,0.4 L-3,0" stroke="#111" stroke-width="1.9" fill="none" opacity="0.85"/><path d="M-32,5 L-27,4.8 L-23,2.8 L-20.5,-2 L-22,-6.5 M-23,2.8 L-25,6.5 L-22.5,11.5 M-27,4.8 L-31,1.5 M-20.5,-2 L-18,-4" stroke="#222" stroke-width="1.2" fill="none" opacity="0.55"/><ellipse cx="0" cy="0" rx="4.6" ry="4.9" fill="#000"/><path d="M3,2 C7,4.5 10,6.8 14,7.4 C19,8 24,7 29.5,6.2" stroke="#000" stroke-width="3.1" fill="none"/><path d="M24,0.5 C30,5.5 35,11 40,14 C42.5,15.6 45,15.6 46.5,14" stroke="#111" stroke-width="1.7" fill="none"/><circle cx="8.5" cy="10.5" r="0.9" fill="#000" opacity="0.7"/><circle cx="10.5" cy="13.5" r="0.8" fill="#000" opacity="0.6"/></g><radialGradient id="clkg"><stop offset="0" stop-color="#fff"/><stop offset="0.55" stop-color="#fafafa"/><stop offset="1" stop-color="#e0e0e0"/></radialGradient><g id="clock"><circle cx="0" cy="0" r="20.6" fill="url(#clkg)" stroke="#1a1a1a" stroke-width="1.9"/><line x1="0.00" y1="-17.00" x2="0.00" y2="-18.80" stroke="#222" stroke-width="1.5"/><line x1="8.50" y1="-14.72" x2="9.40" y2="-16.28" stroke="#222" stroke-width="1.5"/><line x1="14.72" y1="-8.50" x2="16.28" y2="-9.40" stroke="#222" stroke-width="1.5"/><line x1="17.00" y1="-0.00" x2="18.80" y2="-0.00" stroke="#222" stroke-width="1.5"/><line x1="14.72" y1="8.50" x2="16.28" y2="9.40" stroke="#222" stroke-width="1.5"/><line x1="8.50" y1="14.72" x2="9.40" y2="16.28" stroke="#222" stroke-width="1.5"/><line x1="0.00" y1="17.00" x2="0.00" y2="18.80" stroke="#222" stroke-width="1.5"/><line x1="-8.50" y1="14.72" x2="-9.40" y2="16.28" stroke="#222" stroke-width="1.5"/><line x1="-14.72" y1="8.50" x2="-16.28" y2="9.40" stroke="#222" stroke-width="1.5"/><line x1="-17.00" y1="0.00" x2="-18.80" y2="0.00" stroke="#222" stroke-width="1.5"/><line x1="-14.72" y1="-8.50" x2="-16.28" y2="-9.40" stroke="#222" stroke-width="1.5"/><line x1="-8.50" y1="-14.72" x2="-9.40" y2="-16.28" stroke="#222" stroke-width="1.5"/><path d="M4.9,-16.6 L0,0 L11.4,3.5" stroke="#1a1a1a" stroke-width="1.4" fill="none"/></g><linearGradient id="cyl" x1="0" x2="1" y1="0" y2="0"><stop offset="0" stop-color="#2b2b2b"/><stop offset="0.45" stop-color="#5a5a5a"/><stop offset="1" stop-color="#262626"/></linearGradient><radialGradient id="spot"><stop offset="0" stop-color="#f4f4f4"/><stop offset="0.5" stop-color="#d4d4d4"/><stop offset="1" stop-color="#8a8a87"/></radialGradient><linearGradient id="illum" x1="1" y1="0" x2="0" y2="1"><stop offset="0" stop-color="#000"/><stop offset="0.5" stop-color="#1c1c1c"/><stop offset="1" stop-color="#6a6a6a"/></linearGradient><radialGradient id="blueglow"><stop offset="0" stop-color="#1030ff"/><stop offset="0.6" stop-color="#2040ff" stop-opacity="0.9"/><stop offset="1" stop-color="#4060ff" stop-opacity="0"/></radialGradient><linearGradient id="rod" x1="0" y1="0" x2="0" y2="1"><stop offset="0" stop-color="#dfe6ea"/><stop offset="0.5" stop-color="#8f9aa0"/><stop offset="1" stop-color="#5a6368"/></linearGradient><linearGradient id="whitecyl" x1="0" y1="0" x2="1" y2="1"><stop offset="0" stop-color="#fff"/><stop offset="0.6" stop-color="#e8e8e8"/><stop offset="1" stop-color="#888"/></linearGradient><linearGradient id="plateL" x1="0" x2="1" y1="0" y2="0"><stop offset="0" stop-color="#474747"/><stop offset="0.6" stop-color="#676767"/><stop offset="1" stop-color="#5c5c5c"/></linearGradient><linearGradient id="collar" x1="0" x2="1" y1="0" y2="0"><stop offset="0" stop-color="#2c2c2c"/><stop offset="0.5" stop-color="#4e4e4e"/><stop offset="1" stop-color="#2e2e2e"/></linearGradient><linearGradient id="arm" x1="0" x2="1" y1="0" y2="0"><stop offset="0" stop-color="#4a4a4a"/><stop offset="0.5" stop-color="#7c7c7c"/><stop offset="1" stop-color="#505050"/></linearGradient><linearGradient id="hump" x1="0" x2="1" y1="0" y2="0"><stop offset="0" stop-color="#9a9a9a"/><stop offset="0.5" stop-color="#f0f0f0"/><stop offset="1" stop-color="#555"/></linearGradient><linearGradient id="lamp" x1="0" y1="0" x2="1" y2="1"><stop offset="0" stop-color="#3a3a3a"/><stop offset="0.5" stop-color="#8a8a8a"/><stop offset="1" stop-color="#444"/></linearGradient><linearGradient id="mag" x1="0" x2="1" y1="0" y2="0"><stop offset="0" stop-color="#d01838"/><stop offset="0.5" stop-color="#ff4a4a"/><stop offset="1" stop-color="#e01818"/></linearGradient><linearGradient id="coneg" x1="0" y1="0" x2="0.9" y2="1"><stop offset="0" stop-color="#77778f"/><stop offset="0.45" stop-color="#6c6ca8"/><stop offset="1" stop-color="#4e60e0"/></linearGradient><linearGradient id="tg1" gradientUnits="userSpaceOnUse" x1="0" y1="90" x2="0" y2="150"><stop offset="0" stop-color="#fff" stop-opacity="0.72"/><stop offset="1" stop-color="#fff" stop-opacity="1"/></linearGradient><mask id="tm1" maskUnits="userSpaceOnUse" x="480" y="80" width="580" height="100"><rect x="480" y="80" width="580" height="100" fill="url(#tg1)"/></mask><linearGradient id="tg2" gradientUnits="userSpaceOnUse" x1="0" y1="346" x2="0" y2="415"><stop offset="0" stop-color="#fff" stop-opacity="0.72"/><stop offset="1" stop-color="#fff" stop-opacity="1"/></linearGradient><mask id="tm2" maskUnits="userSpaceOnUse" x="480" y="335" width="580" height="115"><rect x="480" y="335" width="580" height="115" fill="url(#tg2)"/></mask><linearGradient id="massg" gradientUnits="userSpaceOnUse" x1="0" y1="350" x2="0" y2="412"><stop offset="0" stop-color="#000" stop-opacity="0.12"/><stop offset="0.5" stop-color="#000" stop-opacity="0.55"/><stop offset="1" stop-color="#000" stop-opacity="1"/></linearGradient><linearGradient id="massx" gradientUnits="userSpaceOnUse" x1="781" y1="0" x2="1051" y2="0"><stop offset="0" stop-color="#fff" stop-opacity="1"/><stop offset="0.25" stop-color="#fff" stop-opacity="0.9"/><stop offset="1" stop-color="#fff" stop-opacity="0.45"/></linearGradient><mask id="massm" maskUnits="userSpaceOnUse" x="780" y="340" width="275" height="100"><rect x="780" y="340" width="275" height="100" fill="url(#massx)"/></mask><linearGradient id="bandg" gradientUnits="userSpaceOnUse" x1="0" y1="118" x2="0" y2="158"><stop offset="0" stop-color="#000" stop-opacity="0"/><stop offset="0.55" stop-color="#000" stop-opacity="0.22"/><stop offset="0.8" stop-color="#000" stop-opacity="0.5"/><stop offset="1" stop-color="#000" stop-opacity="0.6"/></linearGradient></defs>
<rect width="1051" height="1752" fill="#fff"/>
<text transform="translate(6.5,18.5) scale(1.13,1)" x="0" y="0" font-size="31" font-weight="bold" fill="#000" stroke="#000" stroke-width="1.7" stroke-linejoin="round">a</text>
<text transform="translate(6,482.5) scale(1.13,1)" x="0" y="0" font-size="31" font-weight="bold" fill="#000" stroke="#000" stroke-width="1.7" stroke-linejoin="round">b</text>
<text transform="translate(370.5,482.5) scale(1.13,1)" x="0" y="0" font-size="31" font-weight="bold" fill="#000" stroke="#000" stroke-width="1.7" stroke-linejoin="round">c</text>
<text transform="translate(6.5,1135.5) scale(1.13,1)" x="0" y="0" font-size="31" font-weight="bold" fill="#000" stroke="#000" stroke-width="1.7" stroke-linejoin="round">d</text>
<polygon points="110.0,128.5 113.5,128.5 113.5,140.0 110.0,140.0" fill="#d9cdb0" />
<polygon points="112.5,135.0 146.0,135.0 146.0,213.0 112.5,213.0" fill="#3e3e3e" />
<polygon points="145.6,135.2 172.4,135.2 172.4,203.0 145.6,205.0" fill="#d8ccb0" />
<polygon points="3.0,240.4 84.0,209.5 151.0,205.0 151.0,212.0 191.2,241.0 191.2,310.3 3.0,310.3" fill="#4a4a46" />
<polygon points="84.0,209.5 151.0,204.0 151.0,214.0 170.0,228.0 100.0,214.0" fill="#3f3f3d" />
<ellipse cx="93.3" cy="261.3" rx="56.3" ry="24.4" fill="url(#spot)"/>
<polygon points="150.3,194.2 191.2,176.1 191.2,241.8 172.2,242.7" fill="url(#illum)" />
<g transform="translate(125.5,240.3) rotate(-22.6)"><rect x="0" y="-2.3" width="29" height="4.6" fill="url(#rod)"/><rect x="-1.5" y="-4" width="7" height="8" rx="1.5" fill="#9fb0b8" stroke="#5a666c" stroke-width="0.5"/><rect x="27.5" y="-8" width="14" height="16" rx="3.5" fill="url(#whitecyl)"/><ellipse cx="28.2" cy="0" rx="2" ry="7.6" fill="#f4f4f4"/></g>
<polygon points="42.3,167.6 140.6,163.9 140.0,184.3 136.3,190.4 127.7,194.2 111.6,206.5 67.1,206.5 60.3,195.4 55.3,192.3 43.6,179.3" fill="#303030" />
<polygon points="123.9,164.5 140.6,163.9 140.0,184.3 136.3,190.4 128.9,193.2 123.9,177.5" fill="#202020" />
<polygon points="43.6,174.4 49.7,174.4 60.9,190.4 55.3,192.3 43.6,179.3" fill="#474747" />
<polygon points="42.3,167.6 55.9,169.4 60.9,176.8 49.7,174.4 43.6,174.4" fill="#3c3c3c" />
<polygon points="115.9,178.1 123.9,177.5 128.9,190.7 127.7,194.2 119.0,194.2 114.1,186.1" fill="#404040" />
<polygon points="104.2,169.4 123.9,166.9 123.9,177.5 115.9,178.1 106.0,174.4" fill="#484848" />
<polygon points="75.1,173.4 99.2,173.4 99.2,189.5 75.1,189.5" fill="#1c1c1c" />
<polygon points="65.2,174.1 73.0,174.1 75.1,189.5 67.7,190.7" fill="url(#arm)" />
<polygon points="98.0,175.4 106.0,174.4 104.2,190.7 99.0,189.5" fill="url(#arm)" />
<polygon points="61.9,170.0 103.2,169.4 103.2,172.6 61.9,173.3" fill="#8a8a8a" />
<polygon points="55.9,169.4 61.9,170.0 61.9,173.3 65.2,174.1 67.7,190.7 63.3,184.9" fill="#2a2a2a" />
<polygon points="63.3,184.9 67.7,190.7 67.7,193.4 110.3,193.4 114.1,186.1 118.6,194.2 111.6,206.5 67.1,206.5 60.3,195.4" fill="#4b4b4b" />
<polygon points="118.6,194.2 127.7,194.2 125.4,198.1 114.1,205.3 111.6,206.5" fill="#353535" />
<polygon points="33.4,162.0 113.8,158.3 142.5,162.0 141.9,166.0 113.8,164.5 46.6,168.4" fill="#2e2e2e" />
<polygon points="45.4,163.2 113.8,159.5 142.5,163.0 141.9,166.0 123.9,164.7 113.8,163.5 46.6,168.4" fill="#333" />
<path d="M58.6,145.9 C58.6,141.6 72.0,138.7 91.8,138.7 C111.6,138.7 123.9,142.2 123.9,145.9 L123.9,148.4 L58.6,148.4 Z" fill="url(#collar)"/>
<rect x="73.2" y="121.8" width="36.9" height="17.4" fill="url(#cyl)"/>
<polygon points="31.2,149.9 111.6,143.7 113.8,159.5 33.4,163.5" fill="url(#plateL)" stroke="#2e2e2e" stroke-width="0.5"/>
<polygon points="111.6,143.7 143.5,154.6 142.5,163.0 113.8,159.5" fill="#4e4e4e" stroke="#2e2e2e" stroke-width="0.5"/>
<rect x="83.5" y="207.5" width="22" height="30.5" fill="url(#cyl)"/>
<polygon points="104.7,237.7 108.5,233.2 114.6,236.2 127.5,243.1 125.2,249.5 111.5,243.1" fill="#2b2b2b" />
<path d="M104.7,237.7 C105.5,232.4 111.5,232.4 114.9,237.3 L111.5,242.3 Z" fill="url(#hump)"/>
<polygon points="54.5,249.1 69.7,240.8 129.8,252.2 119.9,262.8" fill="#cddbe1" stroke="#56646a" stroke-width="0.5"/>
<ellipse cx="94.5" cy="238" rx="11" ry="3.8" fill="#2c2c2c"/>
<ellipse cx="94.5" cy="241" rx="8.6" ry="3.6" fill="#d8d8d8"/>
<ellipse cx="93.5" cy="240.3" rx="5" ry="2" fill="#fff"/>
<ellipse cx="96" cy="250.5" rx="14" ry="8" fill="url(#blueglow)"/>
<ellipse cx="96" cy="250" rx="12" ry="4" fill="#2444ff" opacity="0.7" transform="rotate(28 96 250)"/>
<ellipse cx="96" cy="250" rx="11" ry="3.6" fill="#2444ff" opacity="0.7" transform="rotate(-22 96 250)"/>
<ellipse cx="96" cy="249" rx="8" ry="5" fill="#1636ff" opacity="0.85"/>
<polygon points="54.0,258.3 63.6,253.7 70.4,256.0 92.5,261.6 97.8,258.3 107.7,265.1 105.2,269.2 55.2,260.9" fill="#303030" />
<polygon points="54.0,258.3 63.6,253.7 70.4,256.0 61.3,260.4" fill="#3c3c3c" />
<polygon points="92.5,263.6 97.8,258.3 107.7,265.1 103.9,267.7" fill="#262626" />
<path d="M69.7,256.0 C74.3,248.4 85.7,248.4 93.6,260.1 L91.8,264.1 L68.2,258.0 Z" fill="url(#hump)"/>
<rect x="50" y="220.3" width="77.3" height="51.5" rx="9.5" fill="none" stroke="#f00" stroke-width="2.4" stroke-dasharray="10 4.3"/>
<line x1="123.70" y1="220.80" x2="199.50" y2="131.50" stroke="#f00" stroke-width="1.3" />
<line x1="126.50" y1="267.00" x2="203.00" y2="338.00" stroke="#f00" stroke-width="1.3" />
<rect x="199" y="112.4" width="188.8" height="238.3" rx="27" fill="none" stroke="#f00" stroke-width="1.9" stroke-dasharray="9 4"/>
<rect x="212.4" y="155.9" width="159.4" height="49" fill="#bcc9cc" stroke="#55595b" stroke-width="0.9"/>
<rect x="271.5" y="159.1" width="42.8" height="42.8" fill="#b4c4cc" stroke="#44484a" stroke-width="0.9"/>
<polygon points="234.5,132.0 248.0,127.0 316.8,162.0 317.8,169.0 308.0,192.0 286.0,202.0 274.0,198.0" fill="url(#coneg)" opacity="0.40"/>
<path d="M292,170.5 C289,162.5 280,161.5 280,169.5 C280,175.5 285,176.5 286.5,176.5 L289.8,195.5 C290,200.0 297,200.0 297.2,195.5 L300,176.5 C302,176.5 307,175.5 307,169.5 C307,161.5 298,162.5 294.5,170.5 Z" fill="#e8dea6" stroke="#5a5530" stroke-width="0.9"/>
<line x1="288.3" y1="178.5" x2="298.7" y2="178.5" stroke="#4c7a3c" stroke-width="0.7"/>
<line x1="288.8" y1="181.7" x2="298.2" y2="181.7" stroke="#4c7a3c" stroke-width="0.7"/>
<line x1="289.2" y1="184.9" x2="297.8" y2="184.9" stroke="#4c7a3c" stroke-width="0.7"/>
<line x1="289.6" y1="188.1" x2="297.4" y2="188.1" stroke="#4c7a3c" stroke-width="0.7"/>
<line x1="290.1" y1="191.3" x2="296.9" y2="191.3" stroke="#4c7a3c" stroke-width="0.7"/>
<line x1="290.6" y1="194.5" x2="296.4" y2="194.5" stroke="#4c7a3c" stroke-width="0.7"/>
<g transform="translate(239.2,129.3) rotate(-37) scale(1.15)"><path d="M-5.5,-8 L5.5,-8 L7.5,4 L-7.5,4 Z" fill="url(#lamp)"/><rect x="-4.5" y="-10" width="9" height="2.5" fill="#2a2a2a"/></g>
<rect x="214.4" y="270.2" width="159.4" height="49.2" fill="#bcc9cc" stroke="#55595b" stroke-width="0.9"/>
<rect x="273.5" y="255.4" width="42" height="14.8" fill="url(#mag)" stroke="#a01020" stroke-width="0.6"/>
<rect x="274.9" y="319.8" width="40.6" height="15.6" fill="url(#mag)" stroke="#a01020" stroke-width="0.6"/>
<rect x="273.5" y="273.4" width="42" height="42.8" fill="#b4c4cc" stroke="#44484a" stroke-width="0.9"/>
<polygon points="236.5,245.0 250.5,241.0 318.0,275.0 319.5,283.0 310.0,305.0 290.0,316.0 277.0,312.0" fill="url(#coneg)" opacity="0.42"/>
<path d="M294,283.5 C291,275.5 282,274.5 282,282.5 C282,288.5 287,289.5 288.5,289.5 L291.8,308.5 C292,313.0 299,313.0 299.2,308.5 L302,289.5 C304,289.5 309,288.5 309,282.5 C309,274.5 300,275.5 296.5,283.5 Z" fill="#c6bec2" stroke="#4a464e" stroke-width="0.9"/>
<line x1="290.3" y1="291.5" x2="300.7" y2="291.5" stroke="#666" stroke-width="0.7"/>
<line x1="290.8" y1="294.7" x2="300.2" y2="294.7" stroke="#666" stroke-width="0.7"/>
<line x1="291.2" y1="297.9" x2="299.8" y2="297.9" stroke="#666" stroke-width="0.7"/>
<line x1="291.6" y1="301.1" x2="299.4" y2="301.1" stroke="#666" stroke-width="0.7"/>
<line x1="292.1" y1="304.3" x2="298.9" y2="304.3" stroke="#666" stroke-width="0.7"/>
<line x1="292.6" y1="307.5" x2="298.4" y2="307.5" stroke="#666" stroke-width="0.7"/>
<g transform="translate(241.2,243.3) rotate(-37) scale(1.15)"><path d="M-5.5,-8 L5.5,-8 L7.5,4 L-7.5,4 Z" fill="url(#lamp)"/><rect x="-4.5" y="-10" width="9" height="2.5" fill="#2a2a2a"/></g>
<path d="M294.5,270.5 L294.5,320 M284.0,270.5 L284.0,320 M305.0,270.5 L305.0,320 M281.5,259.5 C267.5,255.5 267.5,335 281.5,331 M307.5,259.5 C321.5,255.5 321.5,335 307.5,331 M278.5,259.5 C255.8,255.5 255.8,335 278.5,331 M310.5,259.5 C333.2,255.5 333.2,335 310.5,331 M275.5,259.5 C238.2,255.5 238.2,335 275.5,331 M313.5,259.5 C350.8,255.5 350.8,335 313.5,331 M273.5,259.5 C208.8,255.5 208.8,335 273.5,331 M315.5,259.5 C380.2,255.5 380.2,335 315.5,331 M273.5,257.5 C249.5,255.5 229.5,247.5 219.5,236.5 M273.5,333 C254.5,334 239.5,337 224.5,342 M315.5,257.5 C339.5,255.5 359.5,247.5 369.5,236.5 M315.5,333 C334.5,334 349.5,337 364.5,342" fill="none" stroke="#c96a6a" stroke-width="1" opacity="0.8"/>
<polygon points="-2.4,-1.92 2.4,0 -2.4,1.92" fill="#c96a6a" opacity="0.9" transform="translate(284.0,294.0) rotate(90)"/>
<polygon points="-2.4,-1.92 2.4,0 -2.4,1.92" fill="#c96a6a" opacity="0.9" transform="translate(305.0,294.0) rotate(90)"/>
<polygon points="-2.4,-1.92 2.4,0 -2.4,1.92" fill="#c96a6a" opacity="0.9" transform="translate(271.0,294.0) rotate(90)"/>
<polygon points="-2.4,-1.92 2.4,0 -2.4,1.92" fill="#c96a6a" opacity="0.9" transform="translate(318.0,294.0) rotate(90)"/>
<polygon points="-2.4,-1.92 2.4,0 -2.4,1.92" fill="#c96a6a" opacity="0.9" transform="translate(261.5,294.0) rotate(90)"/>
<polygon points="-2.4,-1.92 2.4,0 -2.4,1.92" fill="#c96a6a" opacity="0.9" transform="translate(327.5,294.0) rotate(90)"/>
<polygon points="-2.4,-1.92 2.4,0 -2.4,1.92" fill="#c96a6a" opacity="0.9" transform="translate(247.5,294.0) rotate(90)"/>
<polygon points="-2.4,-1.92 2.4,0 -2.4,1.92" fill="#c96a6a" opacity="0.9" transform="translate(341.5,294.0) rotate(90)"/>
<polygon points="-2.4,-1.92 2.4,0 -2.4,1.92" fill="#c96a6a" opacity="0.9" transform="translate(349.0,253.0) rotate(-18)"/>
<polygon points="-2.4,-1.92 2.4,0 -2.4,1.92" fill="#c96a6a" opacity="0.9" transform="translate(349.0,270.5) rotate(-170)"/>
<polygon points="-2.4,-1.92 2.4,0 -2.4,1.92" fill="#c96a6a" opacity="0.9" transform="translate(239.0,270.5) rotate(-10)"/>
<polygon points="-2.4,-1.92 2.4,0 -2.4,1.92" fill="#c96a6a" opacity="0.9" transform="translate(350.0,321.5) rotate(170)"/>
<polygon points="-2.4,-1.92 2.4,0 -2.4,1.92" fill="#c96a6a" opacity="0.9" transform="translate(242.0,321.5) rotate(10)"/>
<polygon points="-2.4,-1.92 2.4,0 -2.4,1.92" fill="#c96a6a" opacity="0.9" transform="translate(246.0,335.5) rotate(-10)"/>
<polygon points="-2.4,-1.92 2.4,0 -2.4,1.92" fill="#c96a6a" opacity="0.9" transform="translate(348.0,336.5) rotate(190)"/>
<polygon points="-2.4,-1.92 2.4,0 -2.4,1.92" fill="#c96a6a" opacity="0.9" transform="translate(239.0,254.0) rotate(200)"/>
<text x="265.9" y="249.5" font-size="15.6" textLength="55" lengthAdjust="spacingAndGlyphs">Magnet</text>
<text x="266.9" y="347.8" font-size="15.6" textLength="55" lengthAdjust="spacingAndGlyphs">Magnet</text>
<text x="503.0" y="20.7" font-size="21.8" textLength="465.0" lengthAdjust="spacingAndGlyphs"><tspan class="i">elav-GAL4&gt;UAS</tspan><tspan>-Dm</tspan><tspan class="i">cry;</tspan><tspan>Dm</tspan><tspan class="i">cry</tspan><tspan class="i" font-size="15.2" dy="-7.9">02</tspan><tspan dy="7.9">/Dm</tspan><tspan class="i">cry</tspan><tspan class="i" font-size="15.2" dy="-7.9">03</tspan></text>
<text x="503.0" y="272.0" font-size="21.8" textLength="465.0" lengthAdjust="spacingAndGlyphs"><tspan class="i">elav-GAL4&gt;UAS</tspan><tspan>-Dm</tspan><tspan class="i">cry;</tspan><tspan>Dm</tspan><tspan class="i">cry</tspan><tspan class="i" font-size="15.2" dy="-7.9">02</tspan><tspan dy="7.9">/Dm</tspan><tspan class="i">cry</tspan><tspan class="i" font-size="15.2" dy="-7.9">03</tspan></text>
<use href="#neuron" x="515" y="45.2"/>
<use href="#neuron" x="518.6" y="302"/>
<rect x="739.7" y="49.7" width="307.7" height="33.2" fill="#80d8f8" stroke="#3a8fd4" stroke-width="1.1"/>
<text x="890.0" y="75.0" font-size="24.5" text-anchor="middle" fill="#1d5486" textLength="29.5" lengthAdjust="spacingAndGlyphs" >BL</text>
<rect x="773.7" y="302.8" width="274.9" height="34.3" fill="#80d8f8" stroke="#e63946" stroke-width="1.3"/>
<text x="875" y="328.4" font-size="24.5" textLength="94" lengthAdjust="spacingAndGlyphs"><tspan fill="#1d5486">BL</tspan><tspan fill="#000"> + </tspan><tspan fill="#f01818">MF</tspan></text>
<line x1="546.00" y1="190.50" x2="744.00" y2="190.50" stroke="#000" stroke-width="2" />
<polygon points="540,190.5 554,184.9 550.5,190.5 554,196.1" fill="#000"/>
<polygon points="750,190.5 736,184.9 739.5,190.5 736,196.1" fill="#000"/>
<line x1="756.00" y1="190.50" x2="955.00" y2="190.50" stroke="#5b9bd5" stroke-width="2" />
<polygon points="750,190.5 764,184.9 760.5,190.5 764,196.1" fill="#5b9bd5"/>
<polygon points="961,190.5 947,184.9 950.5,190.5 947,196.1" fill="#5b9bd5"/>
<text x="648.5" y="224.0" font-size="24.5" text-anchor="middle" fill="#000" textLength="125.0" lengthAdjust="spacingAndGlyphs" >APs in 15 s</text>
<text x="854.0" y="224.0" font-size="24.5" text-anchor="middle" fill="#000" textLength="124.0" lengthAdjust="spacingAndGlyphs" >APs in 15 s</text>
<path d="M487.50,160.00 L487.70,156.61 L488.35,151.54 L488.50,96.37 L488.63,169.30 L489.30,163.91 L489.94,159.81 L490.59,156.27 L491.24,152.79 L491.39,93.63 L491.52,169.85 L492.19,164.90 L493.05,160.64 L493.92,156.69 L494.57,154.62 L494.72,92.99 L494.85,169.69 L495.52,163.12 L496.29,157.41 L497.07,155.70 L497.72,148.33 L497.87,96.01 L498.00,169.88 L498.67,163.64 L499.32,157.37 L499.97,156.51 L500.62,151.21 L500.77,96.00 L500.90,169.50 L501.57,163.27 L502.24,163.09 L502.90,158.61 L503.57,153.56 L504.22,144.77 L504.37,96.52 L504.50,164.55 L505.17,161.43 L506.07,160.12 L506.98,152.16 L507.62,146.85 L507.77,95.07 L507.90,165.45 L508.56,163.01 L509.18,157.92 L509.90,155.43 L510.43,151.01 L510.58,92.74 L510.71,170.36 L511.27,163.33 L512.32,156.23 L512.89,150.94 L513.04,92.88 L513.17,166.86 L513.75,162.38 L514.79,155.66 L515.44,146.48 L515.59,93.64 L515.72,167.90 L516.39,164.46 L517.04,158.27 L517.69,160.73 L518.43,154.30 L519.00,151.68 L519.15,95.70 L519.28,166.40 L519.87,162.31 L520.99,156.51 L521.58,149.83 L521.73,93.94 L521.86,173.08 L522.46,166.94 L523.63,152.67 L524.19,144.89 L524.34,96.30 L524.47,165.61 L525.05,163.18 L526.16,156.28 L526.73,152.94 L526.88,96.18 L527.01,170.17 L527.60,167.00 L528.71,155.16 L529.29,149.87 L529.44,93.43 L529.57,170.59 L530.17,165.61 L531.38,153.13 L531.90,144.07 L532.05,94.76 L532.18,168.83 L532.72,161.70 L533.79,156.09 L534.29,151.03 L534.44,94.26 L534.57,165.49 L535.09,160.17 L535.98,157.31 L536.61,151.86 L536.76,96.61 L536.89,172.09 L537.54,163.92 L538.15,157.53 L538.73,158.28 L539.38,152.22 L539.53,96.54 L539.66,170.89 L540.33,164.12 L540.96,164.35 L541.59,157.17 L542.21,157.07 L542.86,146.86 L543.01,96.26 L543.14,171.58 L543.81,164.61 L544.52,160.54 L545.22,156.77 L545.87,148.50 L546.02,94.14 L546.15,173.39 L546.82,165.78 L547.45,162.16 L548.07,159.27 L548.82,155.01 L549.34,146.45 L549.49,96.67 L549.62,171.38 L550.17,165.21 L551.10,156.86 L551.75,149.35 L551.90,92.67 L552.03,166.59 L552.70,162.37 L553.34,160.52 L553.97,156.64 L554.62,150.63 L554.77,96.35 L554.90,165.55 L555.57,161.30 L556.24,157.44 L556.92,155.88 L557.57,149.14 L557.72,94.24 L557.85,168.26 L558.52,163.41 L559.14,161.79 L559.77,159.75 L560.39,156.11 L561.04,148.53 L561.19,94.87 L561.32,165.63 L561.99,163.37 L562.61,160.53 L563.22,160.02 L563.89,155.14 L564.49,148.99 L564.64,94.28 L564.77,165.39 L565.38,161.34 L566.54,156.10 L567.15,149.30 L567.30,96.62 L567.43,166.95 L568.06,161.76 L569.21,154.26 L569.86,148.14 L570.01,93.66 L570.14,165.44 L570.81,160.44 L571.62,160.11 L572.50,154.54 L573.08,146.46 L573.23,92.51 L573.36,167.14 L573.96,163.22 L575.04,155.35 L575.69,150.54 L575.84,93.18 L575.97,167.17 L576.64,164.17 L577.29,158.63 L577.94,157.10 L578.61,156.10 L579.23,148.10 L579.38,94.59 L579.51,171.84 L580.15,166.83 L580.76,157.26 L581.33,158.27 L581.98,151.30 L582.13,92.87 L582.26,170.89 L582.93,165.17 L583.57,163.29 L584.21,160.37 L584.85,157.75 L585.50,150.54 L585.65,95.17 L585.78,170.63 L586.45,165.04 L587.09,158.91 L587.73,160.48 L588.37,158.21 L589.02,147.77 L589.17,94.66 L589.30,169.47 L589.97,164.33 L590.63,159.11 L591.29,158.59 L591.95,157.27 L592.60,152.09 L592.75,94.44 L592.88,172.55 L593.55,164.35 L594.25,159.91 L594.96,155.53 L595.61,147.01 L595.76,92.95 L595.89,169.35 L596.56,164.66 L597.42,157.44 L598.28,154.95 L598.93,146.98 L599.08,93.27 L599.21,165.67 L599.88,161.36 L600.53,160.05 L601.17,156.24 L601.86,155.30 L602.47,144.12 L602.62,96.02 L602.75,166.19 L603.38,162.29 L604.52,153.38 L605.17,145.94 L605.32,94.66 L605.45,168.65 L606.12,162.80 L606.85,157.10 L607.57,155.76 L608.22,148.96 L608.37,94.46 L608.50,165.78 L609.17,164.29 L610.04,160.80 L610.97,157.31 L611.56,149.93 L611.71,92.86 L611.84,171.42 L612.45,163.77 L613.65,156.23 L614.21,153.87 L614.36,96.37 L614.49,171.71 L615.07,163.87 L616.11,155.60 L616.76,149.91 L616.91,93.86 L617.04,165.13 L617.71,161.67 L618.50,156.21 L619.39,156.61 L619.95,152.12 L620.10,94.22 L620.23,168.43 L620.82,162.26 L621.86,156.50 L622.51,149.14 L622.66,94.63 L622.79,170.45 L623.46,165.47 L624.22,160.60 L624.98,155.41 L625.63,144.12 L625.78,93.69 L625.91,166.01 L626.58,160.50 L627.20,157.07 L627.83,157.23 L628.51,153.52 L629.10,148.88 L629.25,95.96 L629.38,169.71 L629.99,163.66 L631.24,152.33 L631.74,145.64 L631.89,95.30 L632.02,171.55 L632.54,164.94 L633.41,156.73 L634.06,152.73 L634.21,93.13 L634.34,166.59 L635.01,163.14 L635.69,160.33 L636.47,154.93 L637.02,148.08 L637.17,93.20 L637.30,171.66 L637.87,162.15 L638.86,156.45 L639.51,150.81 L639.66,95.66 L639.79,168.58 L640.46,163.75 L641.10,157.33 L641.75,159.02 L642.39,153.04 L643.04,148.37 L643.19,94.30 L643.32,166.97 L643.99,162.07 L644.89,154.35 L645.79,155.77 L646.44,147.90 L646.59,95.40 L646.72,171.24 L647.39,165.24 L648.01,163.75 L648.63,159.87 L649.31,156.47 L649.90,147.38 L650.05,95.58 L650.18,173.16 L650.79,167.77 L651.89,156.08 L652.54,151.96 L652.69,95.67 L652.82,171.85 L653.49,165.26 L654.29,157.42 L655.12,157.91 L655.74,152.58 L655.89,95.05 L656.02,173.11 L656.66,166.22 L657.27,160.47 L657.85,155.89 L658.50,145.75 L658.65,96.70 L658.78,170.17 L659.45,161.89 L660.15,158.91 L660.85,156.09 L661.50,153.41 L661.65,94.07 L661.78,165.59 L662.45,160.66 L663.28,160.59 L664.11,156.23 L664.76,147.55 L664.91,96.56 L665.04,172.99 L665.71,163.52 L666.41,159.60 L667.12,154.28 L667.77,149.88 L667.92,96.39 L668.05,166.95 L668.72,162.13 L669.56,155.02 L670.41,154.73 L671.06,147.78 L671.21,94.62 L671.34,167.61 L672.01,163.10 L672.65,158.27 L673.29,158.33 L673.98,156.28 L674.59,151.03 L674.74,93.38 L674.87,164.31 L675.49,162.15 L676.62,154.00 L677.27,145.21 L677.42,96.65 L677.55,163.79 L678.22,160.35 L679.06,158.63 L679.96,156.82 L680.54,146.58 L680.69,96.42 L680.82,168.84 L681.43,164.01 L682.62,157.53 L683.16,153.77 L683.31,94.31 L683.44,165.91 L684.00,162.44 L684.96,156.39 L685.61,148.64 L685.76,93.45 L685.89,168.18 L686.56,165.16 L687.35,160.96 L688.13,154.07 L688.78,146.64 L688.93,92.80 L689.06,170.23 L689.73,162.55 L690.56,158.35 L691.38,154.80 L692.03,145.85 L692.18,95.09 L692.31,166.89 L692.98,164.64 L693.70,160.65 L694.56,153.29 L695.07,148.01 L695.22,93.49 L695.35,168.23 L695.88,160.53 L696.89,156.22 L697.42,150.81 L697.57,94.72 L697.70,168.69 L698.25,163.27 L699.18,158.94 L699.83,151.94 L699.98,92.63 L700.11,172.83 L700.78,164.80 L701.62,160.54 L702.51,156.22 L703.10,149.51 L703.25,93.92 L703.38,174.15 L703.99,167.39 L705.09,155.74 L705.74,153.87 L705.89,93.92 L706.02,171.71 L706.69,164.77 L707.32,160.59 L707.95,159.41 L708.63,156.76 L709.23,153.42 L709.38,92.63 L709.51,171.40 L710.14,166.12 L711.27,155.19 L711.92,151.45 L712.07,92.93 L712.20,169.94 L712.87,164.29 L713.67,158.69 L714.47,157.37 L715.12,152.57 L715.27,96.32 L715.40,173.18 L716.07,165.93 L716.70,164.70 L717.34,161.88 L718.03,155.55 L718.62,151.35 L718.77,93.91 L718.90,167.61 L719.50,162.97 L720.59,156.74 L721.24,147.36 L721.39,95.98 L721.52,166.57 L722.19,161.85 L723.06,155.95 L723.93,155.60 L724.58,148.87 L724.73,94.80 L724.86,170.39 L725.53,164.45 L726.21,159.94 L727.02,153.45 L727.55,147.05 L727.70,95.54 L727.83,164.00 L728.37,161.58 L729.31,154.93 L729.96,147.31 L730.11,93.27 L730.24,168.15 L730.91,162.00 L731.68,159.98 L732.45,156.51 L733.10,148.51 L733.25,94.66 L733.38,170.64 L734.05,165.55 L734.84,159.49 L735.62,156.40 L736.27,148.12 L736.42,95.97 L736.55,173.89 L737.22,167.13 L737.83,163.14 L738.43,157.78 L739.04,152.02 L739.68,146.42 L739.83,95.56 L739.96,166.59 L740.63,161.49 L741.26,155.33 L741.88,156.30 L742.53,151.80 L742.68,93.66 L742.81,168.42 L743.48,160.56 L744.13,158.67 L744.79,157.26 L745.44,154.36 L746.09,148.58 L746.24,92.78 L746.37,164.88 L747.04,161.22 L747.67,156.65 L748.29,154.65 L749.24,153.81 L749.57,147.49 L749.72,92.63 L749.85,163.72 L750.20,158.03 L750.82,154.25 L751.29,149.57 L751.44,90.81 L751.57,169.09 L752.06,160.60 L753.03,152.12 L753.52,144.26 L753.67,90.99 L753.80,164.00 L754.31,160.05 L755.48,149.57 L755.81,142.75 L755.96,91.38 L756.09,161.94 L756.43,154.64 L757.19,148.34 L757.50,138.43 L757.65,90.44 L757.78,160.09 L758.10,154.58 L758.73,149.90 L759.13,142.65 L759.28,92.69 L759.41,161.04 L759.82,153.32 L760.74,150.18 L761.07,142.43 L761.22,89.73 L761.35,159.50 L761.71,156.58 L762.46,148.47 L762.80,141.78 L762.95,91.13 L763.08,156.38 L763.44,154.02 L764.16,145.39 L764.56,142.16 L764.71,92.96 L764.84,155.62 L765.25,151.89 L766.07,147.93 L766.51,140.81 L766.66,92.32 L766.79,157.09 L767.25,154.42 L768.19,145.15 L768.62,138.58 L768.77,90.96 L768.90,154.45 L769.35,149.25 L770.18,148.00 L770.69,141.85 L770.84,90.21 L770.97,158.02 L771.50,153.72 L772.69,148.45 L773.05,143.29 L773.20,92.23 L773.33,155.67 L773.70,154.39 L774.44,146.40 L774.85,142.59 L775.00,90.76 L775.13,156.13 L775.56,154.30 L776.40,144.05 L776.85,139.70 L777.00,91.07 L777.13,157.96 L777.59,151.64 L778.67,145.98 L778.97,138.04 L779.12,89.62 L779.25,157.54 L779.58,154.46 L780.13,146.99 L780.60,140.54 L780.75,90.76 L780.88,154.17 L781.38,153.92 L782.37,149.02 L782.83,144.08 L782.98,91.98 L783.11,157.79 L783.60,152.53 L784.67,145.60 L785.04,138.38 L785.19,92.77 L785.32,159.43 L785.71,156.01 L786.49,149.37 L786.90,142.84 L787.05,91.50 L787.18,159.62 L787.61,154.95 L788.42,144.68 L788.91,140.85 L789.06,93.46 L789.19,154.87 L789.69,152.13 L790.71,146.08 L791.16,139.23 L791.31,93.39 L791.44,157.52 L791.91,151.74 L792.81,148.73 L793.31,138.88 L793.46,91.77 L793.59,156.79 L794.11,154.69 L795.21,145.81 L795.63,140.81 L795.78,92.93 L795.91,160.17 L796.36,155.08 L797.37,150.46 L797.70,142.11 L797.85,89.64 L797.98,156.13 L798.33,153.80 L799.05,149.43 L799.41,145.27 L799.56,92.55 L799.69,159.92 L800.07,153.78 L800.83,145.94 L801.23,140.86 L801.38,91.00 L801.51,154.46 L801.93,151.80 L802.82,148.97 L803.19,140.61 L803.34,89.47 L803.47,156.22 L803.86,153.31 L804.65,147.23 L805.04,138.08 L805.19,92.33 L805.32,161.01 L805.72,156.65 L806.46,147.03 L806.95,140.64 L807.10,91.21 L807.23,161.38 L807.75,154.66 L808.75,146.88 L809.26,139.07 L809.41,89.54 L809.54,161.02 L810.07,155.61 L811.26,149.03 L811.62,144.59 L811.77,89.61 L811.90,158.54 L812.29,152.51 L812.99,147.49 L813.46,144.99 L813.61,90.35 L813.74,157.91 L814.22,155.56 L815.11,147.74 L815.64,141.56 L815.79,93.11 L815.92,161.80 L816.47,156.10 L817.55,148.56 L818.06,144.75 L818.21,92.79 L818.34,157.45 L818.88,151.75 L820.07,145.70 L820.44,139.62 L820.59,89.58 L820.72,160.64 L821.10,154.97 L821.98,147.83 L822.28,138.67 L822.43,93.25 L822.56,156.97 L822.88,152.37 L823.56,146.99 L823.90,139.59 L824.05,93.36 L824.18,155.65 L824.54,152.50 L825.33,149.37 L825.67,143.23 L825.82,93.68 L825.95,161.52 L826.30,154.59 L827.08,148.41 L827.40,142.48 L827.55,90.68 L827.68,162.85 L828.02,157.36 L828.55,149.22 L829.08,144.88 L829.23,89.65 L829.36,157.27 L829.91,152.42 L831.16,150.26 L831.51,143.01 L831.66,92.78 L831.79,161.05 L832.16,154.68 L832.94,149.24 L833.31,142.68 L833.46,92.23 L833.59,161.96 L833.98,156.55 L834.75,147.28 L835.18,140.23 L835.33,89.50 L835.46,157.58 L835.91,152.47 L836.88,148.94 L837.25,142.51 L837.40,90.38 L837.53,160.64 L837.92,157.86 L838.80,148.45 L839.10,144.37 L839.25,92.60 L839.38,162.56 L839.71,156.23 L840.27,146.99 L840.73,138.45 L840.88,92.20 L841.01,158.89 L841.50,155.05 L842.49,149.72 L842.92,143.94 L843.07,90.07 L843.20,158.50 L843.65,155.37 L844.50,149.48 L845.00,144.65 L845.15,92.78 L845.28,160.49 L845.79,156.04 L847.00,147.71 L847.31,144.21 L847.46,92.44 L847.59,162.86 L847.92,154.64 L848.52,147.65 L848.95,141.56 L849.10,91.24 L849.23,161.65 L849.68,156.00 L850.57,149.36 L851.01,146.65 L851.16,90.35 L851.29,159.23 L851.76,156.13 L852.69,147.86 L853.13,145.22 L853.28,91.89 L853.41,161.26 L853.86,153.86 L854.74,150.83 L855.22,147.88 L855.37,92.76 L855.50,160.29 L856.00,158.10 L857.16,147.20 L857.48,138.75 L857.63,92.65 L857.76,156.86 L858.09,152.22 L858.77,150.42 L859.14,147.06 L859.29,89.92 L859.42,159.73 L859.81,154.33 L860.43,150.79 L860.99,146.69 L861.14,92.53 L861.27,158.91 L861.85,155.44 L862.98,145.62 L863.53,140.14 L863.68,90.78 L863.81,160.24 L864.38,155.80 L865.70,148.47 L866.02,140.47 L866.17,92.36 L866.30,160.05 L866.65,154.69 L867.19,148.37 L867.71,143.87 L867.86,92.74 L867.99,158.30 L868.54,153.19 L869.77,149.93 L870.13,142.09 L870.28,91.36 L870.41,158.49 L870.79,155.70 L871.60,147.42 L871.96,143.97 L872.11,89.62 L872.24,158.54 L872.62,153.42 L873.41,147.70 L873.79,143.25 L873.94,93.36 L874.07,157.87 L874.47,156.23 L875.28,148.58 L875.68,142.56 L875.83,92.48 L875.96,157.42 L876.39,153.56 L877.12,148.17 L877.66,143.75 L877.81,92.69 L877.94,155.99 L878.51,151.79 L879.78,150.35 L880.14,146.56 L880.29,89.44 L880.42,160.08 L880.79,156.77 L881.55,150.58 L881.93,145.17 L882.08,92.23 L882.21,158.89 L882.61,155.43 L883.42,150.59 L883.83,148.32 L883.98,90.29 L884.11,160.62 L884.55,154.97 L885.37,148.89 L885.85,138.96 L886.00,92.86 L886.13,159.10 L886.63,154.43 L887.61,149.54 L888.10,144.16 L888.25,93.50 L888.38,159.05 L888.90,155.53 L889.99,147.63 L890.41,144.47 L890.56,90.99 L890.69,158.78 L891.14,153.91 L892.01,148.54 L892.45,144.13 L892.60,92.23 L892.73,156.03 L893.19,152.08 L894.10,149.59 L894.57,144.03 L894.72,91.73 L894.85,157.66 L895.34,153.70 L896.37,147.18 L896.79,142.69 L896.94,91.48 L897.07,158.69 L897.52,152.44 L898.44,151.07 L898.85,146.83 L899.00,91.79 L899.13,163.69 L899.56,158.84 L900.28,148.42 L900.86,140.19 L901.01,91.84 L901.14,162.45 L901.73,156.29 L903.01,149.16 L903.44,143.18 L903.59,92.95 L903.72,159.05 L904.17,153.66 L905.06,146.92 L905.52,141.86 L905.67,90.89 L905.80,157.38 L906.28,155.28 L907.31,148.28 L907.69,141.84 L907.84,91.69 L907.97,156.91 L908.38,153.86 L909.11,148.51 L909.60,139.73 L909.75,92.96 L909.88,159.96 L910.40,155.51 L911.38,148.56 L911.89,141.68 L912.04,92.32 L912.17,164.48 L912.71,158.38 L913.80,148.15 L914.27,143.50 L914.42,90.56 L914.55,160.91 L915.05,155.55 L916.14,150.30 L916.51,145.69 L916.66,89.85 L916.79,157.82 L917.19,153.84 L917.93,153.41 L918.38,149.47 L918.53,91.42 L918.66,165.28 L919.13,158.04 L920.06,151.55 L920.52,145.16 L920.67,91.03 L920.80,160.52 L921.29,156.54 L922.18,152.17 L922.72,144.75 L922.87,92.95 L923.00,162.11 L923.55,159.31 L924.61,147.51 L925.16,144.42 L925.31,90.96 L925.44,157.78 L926.00,154.91 L927.06,152.25 L927.64,145.84 L927.79,89.89 L927.92,162.73 L928.53,160.35 L929.67,149.18 L930.27,143.74 L930.42,92.44 L930.55,156.09 L931.17,155.77 L932.58,149.45 L932.95,144.66 L933.10,89.42 L933.23,160.81 L933.61,157.60 L934.23,150.92 L934.79,143.70 L934.94,91.02 L935.07,162.93 L935.65,157.93 L936.85,154.15 L937.33,149.00 L937.48,89.95 L937.61,159.79 L938.11,157.13 L939.22,150.28 L939.59,144.85 L939.74,89.38 L939.87,158.24 L940.26,154.36 L940.97,152.74 L941.44,147.77 L941.59,90.44 L941.72,157.82 L942.21,153.72 L943.26,151.62 L943.64,146.92 L943.79,93.69 L943.92,164.77 L944.33,159.73 L945.11,148.07 L945.56,140.10 L945.71,91.72 L945.84,161.16 L946.30,157.53 L947.07,148.72 L947.69,145.16 L947.84,92.97 L947.97,159.18 L948.60,154.71 L950.05,149.56 L950.40,147.01 L950.55,92.62 L950.68,161.61 L951.06,158.88 L951.88,150.10 L952.22,142.07 L952.37,92.86 L952.50,164.10 L952.87,159.78 L953.43,152.45 L953.98,145.82 L954.13,89.74 L954.26,163.32 L954.83,160.92 L956.14,152.31 L956.49,144.59 L956.64,90.30 L956.77,161.48 L957.14,157.06 L957.75,148.32 L958.27,143.23 L958.42,90.53 L958.55,160.25 L959.08,157.57 L960.25,150.61 L960.65,147.07 L960.80,91.70 L960.93,160.71 L961.35,157.16 L962.16,149.79 L962.62,141.69 L962.77,91.51 L962.90,158.98 L963.39,154.15 L964.22,151.59 L964.81,144.59 L964.96,92.62 L965.09,165.61 L965.70,157.65 L966.99,154.29 L967.45,148.47 L967.60,90.08 L967.73,164.73 L968.21,158.12 L969.18,153.56 L969.63,148.19 L969.78,89.95 L969.91,163.53 L970.37,160.08 L971.16,151.85 L971.75,145.31 L971.90,92.07 L972.03,164.56 L972.65,160.50 L973.94,152.95 L974.41,146.61 L974.56,91.15 L974.69,161.17 L975.19,158.02 L976.29,153.26 L976.64,147.45 L976.79,91.27 L976.92,163.99 L977.30,158.91 L977.83,151.76 L978.46,143.55 L978.61,90.68 L978.74,167.63 L979.38,159.29 L980.00,157.88 L980.75,151.34 L981.24,142.45 L981.39,93.00 L981.52,165.27 L982.02,158.72 L982.88,150.48 L983.52,143.20 L983.67,93.13 L983.80,159.16 L984.45,156.00 L985.06,154.13 L985.90,153.14 L986.31,147.51 L986.46,92.13 L986.59,162.52 L987.01,156.72 L987.72,154.18 L988.30,148.90 L988.45,92.69 L988.58,167.68 L989.18,160.69 L990.52,148.05 L990.90,143.77 L991.05,90.82 L991.18,163.89 L991.58,157.35 L992.21,152.91 L992.80,148.34 L992.95,93.27 L993.08,167.49 L993.70,162.16 L994.90,150.69 L995.46,146.29 L995.61,92.24 L995.74,158.10 L996.33,156.45 L997.57,154.14 L998.01,148.62 L998.16,92.36 L998.29,160.69 L998.74,156.49 L999.71,155.95 L1000.10,147.91 L1000.25,91.98 L1000.38,162.64 L1000.79,160.54 L1001.57,152.36 L1002.03,145.98 L1002.18,91.10 L1002.31,163.65 L1002.79,158.15 L1003.72,152.07 L1004.21,146.90 L1004.36,93.44 L1004.49,165.06 L1005.00,158.73 L1005.88,152.42 L1006.49,145.18 L1006.64,93.06 L1006.77,162.25 L1007.40,158.94 L1008.67,152.38 L1009.21,144.51 L1009.36,89.58 L1009.49,161.58 L1010.04,157.30 L1011.08,154.72 L1011.64,149.02 L1011.79,90.38 L1011.92,161.34 L1012.51,158.29 L1013.72,152.48 L1014.19,145.45 L1014.34,93.04 L1014.47,165.31 L1014.95,158.94 L1015.90,152.93 L1016.37,143.02 L1016.52,92.48 L1016.65,161.96 L1017.13,156.30 L1018.03,153.26 L1018.57,146.31 L1018.72,90.89 L1018.85,162.17 L1019.42,160.44 L1020.41,154.48 L1021.06,144.47 L1021.21,91.04 L1021.34,167.00 L1022.01,160.05 L1022.64,156.64 L1023.43,151.76 L1023.91,146.57 L1024.06,90.26 L1024.19,162.20 L1024.69,158.67 L1025.59,151.60 L1026.17,145.69 L1026.32,90.03 L1026.45,163.28 L1027.05,159.43 L1028.20,155.29 L1028.78,146.08 L1028.93,89.83 L1029.06,161.25 L1029.66,160.66 L1031.02,153.27 L1031.39,147.30 L1031.54,91.66 L1031.67,160.38 L1032.07,157.78 L1032.86,153.94 L1033.27,148.32 L1033.42,89.87 L1033.55,164.50 L1033.97,158.93 L1034.76,151.42 L1035.25,143.92 L1035.40,90.26 L1035.53,162.87 L1036.04,156.51 L1036.92,152.13 L1037.54,143.90 L1037.69,93.57 L1037.82,162.11 L1038.46,159.92 L1039.06,153.68 L1039.92,150.24 L1040.29,144.46 L1040.44,92.90 L1040.57,164.63 L1040.96,157.22 L1041.76,150.80 L1042.16,146.18 L1042.31,93.55 L1042.44,166.34 L1042.87,158.49 L1043.69,152.80 L1044.14,144.88 L1044.29,93.34 L1044.42,162.77 L1044.89,160.10 L1045.74,154.48 L1046.29,149.26 L1046.44,93.28 L1046.57,162.86 L1047.13,158.79 L1048.25,152.25 L1048.75,146.12 L1048.90,90.88 L1049.03,164.01 L1049.56,158.00 L1050.55,154.08 L1051.08,150.17 L1051.23,91.06 L1051.36,161.48 L1051.91,158.84" fill="none" stroke="#000" stroke-width="0.56" stroke-linejoin="bevel" mask="url(#tm1)"/>
<path d="M487.50,155.81 L488.00,160.98 L488.45,156.38 L488.97,162.89 L489.43,159.56 L489.81,154.03 L490.22,160.44 L490.56,162.73 L490.93,156.56 L491.26,164.97 L491.77,163.63 L492.26,154.37 L492.66,159.47 L493.01,164.47 L493.42,155.70 L493.96,155.37 L494.52,158.98 L494.99,157.77 L495.43,156.06 L495.76,163.52 L496.13,162.58 L496.51,164.66 L497.06,162.30 L497.58,160.39 L498.10,155.35 L498.54,163.10 L498.91,164.15 L499.46,158.51 L499.88,158.96 L500.30,164.94 L500.72,154.30 L501.06,161.90 L501.64,159.46 L502.09,160.05 L502.60,156.44 L503.08,160.12 L503.57,155.99 L503.93,157.83 L504.49,157.81 L504.97,157.37 L505.31,154.72 L505.85,162.55 L506.26,161.52 L506.76,163.89 L507.33,158.48 L507.92,164.58 L508.39,163.71 L508.84,158.13 L509.22,163.64 L509.58,154.76 L510.11,162.51 L510.56,163.21 L510.88,156.84 L511.28,158.62 L511.64,154.76 L512.05,163.89 L512.63,162.20 L513.07,156.77 L513.64,159.78 L514.16,154.31 L514.53,163.22 L515.06,163.70 L515.54,158.69 L516.01,163.34 L516.41,159.88 L516.79,162.45 L517.11,161.54 L517.68,154.26 L518.16,161.08 L518.71,160.43 L519.09,158.46 L519.66,163.96 L520.01,155.04 L520.35,154.28 L520.79,155.55 L521.34,161.21 L521.69,159.93 L522.09,159.43 L522.47,155.83 L522.83,158.16 L523.34,160.05 L523.66,161.82 L524.22,162.52 L524.74,154.09 L525.18,154.70 L525.71,155.93 L526.21,156.78 L526.72,157.45 L527.04,158.28 L527.44,163.91 L527.84,159.53 L528.30,164.43 L528.64,160.61 L529.09,162.08 L529.67,157.41 L530.17,159.78 L530.64,154.70 L531.17,164.75 L531.58,157.50 L532.17,155.18 L532.50,154.81 L533.04,162.36 L533.47,160.84 L533.79,161.09 L534.23,159.69 L534.65,158.42 L535.03,154.54 L535.46,156.72 L535.96,162.99 L536.47,159.02 L536.85,158.24 L537.30,160.95 L537.87,154.94 L538.32,159.41 L538.83,163.80 L539.35,160.89 L539.87,161.35 L540.42,161.69 L540.92,156.70 L541.48,158.25 L541.96,163.07 L542.54,164.88 L542.85,157.44 L543.25,158.30 L543.61,160.09 L543.94,157.33 L544.51,162.17 L544.95,155.19 L545.53,161.74 L545.90,157.69 L546.38,161.50 L546.77,164.46 L547.17,156.80 L547.72,155.69 L548.21,156.20 L548.69,157.05 L549.11,164.35 L549.55,158.81 L550.03,157.09 L550.39,158.23 L550.78,156.07 L551.36,154.38 L551.89,164.28 L552.39,154.21 L552.85,154.43 L553.32,161.70 L553.70,154.08 L554.17,155.04 L554.56,159.00 L555.12,158.07 L555.47,162.71 L556.01,159.82 L556.34,156.06 L556.76,160.07 L557.14,162.83 L557.68,164.18 L558.23,154.19 L558.71,154.88 L559.26,162.22 L559.78,156.07 L560.11,162.97 L560.59,160.82 L561.04,162.80 L561.44,156.97 L561.85,157.28 L562.34,163.79 L562.67,154.74 L563.12,161.46 L563.49,156.97 L563.82,154.41 L564.27,161.49 L564.76,155.74 L565.10,164.24 L565.56,158.49 L566.07,162.01 L566.52,154.86 L567.06,156.35 L567.39,157.88 L567.85,160.91 L568.21,161.81 L568.66,155.78 L569.20,162.87 L569.76,161.47 L570.13,162.55 L570.69,159.87 L571.25,164.67 L571.67,164.36 L572.24,162.73 L572.56,157.87 L573.04,160.68 L573.56,161.12 L573.92,164.24 L574.38,163.70 L574.75,164.98 L575.21,162.53 L575.73,163.71 L576.14,154.91 L576.57,155.96 L577.03,162.96 L577.44,155.44 L577.76,158.65 L578.23,154.29 L578.73,156.32 L579.07,164.20 L579.53,163.85 L579.98,155.35 L580.36,158.67 L580.85,162.48 L581.37,161.16 L581.75,158.73 L582.17,159.39 L582.55,159.92 L582.99,154.39 L583.53,160.45 L584.06,162.10 L584.57,164.93 L584.99,158.33 L585.31,161.31 L585.78,160.34 L586.36,156.17 L586.74,162.08 L587.27,159.31 L587.60,158.07 L588.14,159.50 L588.58,158.28 L589.07,160.58 L589.57,163.52 L590.09,158.12 L590.47,162.60 L591.00,164.21 L591.37,163.32 L591.92,154.85 L592.32,160.97 L592.68,163.14 L593.06,161.51 L593.46,156.40 L593.83,159.47 L594.33,156.40 L594.84,157.69 L595.33,158.05 L595.69,155.55 L596.02,161.66 L596.45,155.36 L597.00,161.20 L597.32,161.97 L597.80,158.88 L598.25,164.58 L598.67,161.00 L599.15,158.02 L599.56,162.30 L600.05,159.03 L600.50,156.46 L601.03,154.22 L601.52,159.00 L601.89,160.45 L602.36,154.95 L602.81,155.82 L603.34,157.60 L603.75,156.37 L604.07,156.05 L604.43,160.87 L604.97,156.43 L605.32,159.88 L605.67,158.46 L606.19,156.23 L606.69,159.93 L607.03,156.67 L607.50,155.06 L607.87,160.34 L608.41,159.72 L608.90,154.10 L609.30,157.50 L609.86,157.93 L610.39,154.38 L610.84,163.81 L611.36,160.38 L611.73,164.19 L612.06,164.61 L612.59,161.92 L613.05,155.80 L613.45,161.30 L613.95,158.28 L614.48,154.59 L614.87,154.99 L615.27,162.72 L615.79,155.64 L616.19,155.23 L616.68,158.87 L617.06,158.12 L617.61,158.68 L618.11,160.90 L618.55,160.12 L618.97,156.18 L619.41,157.35 L619.82,156.05 L620.38,158.68 L620.75,154.35 L621.12,163.55 L621.53,161.34 L621.91,161.16 L622.34,162.10 L622.80,158.13 L623.19,160.54 L623.73,161.61 L624.17,157.61 L624.73,163.31 L625.08,161.47 L625.61,161.43 L626.18,163.67 L626.56,164.96 L626.97,158.18 L627.55,155.84 L627.97,160.89 L628.36,156.94 L628.89,160.74 L629.40,162.69 L629.95,163.83 L630.49,164.76 L630.94,161.72 L631.39,164.66 L631.89,158.74 L632.38,157.24 L632.73,158.25 L633.08,154.04 L633.42,159.00 L633.94,154.53 L634.43,155.22 L634.88,157.25 L635.32,161.83 L635.75,158.31 L636.26,155.27 L636.67,161.72 L637.21,164.77 L637.59,160.88 L637.99,161.72 L638.53,155.49 L638.94,164.30 L639.35,160.95 L639.89,157.07 L640.41,154.04 L640.82,155.84 L641.23,156.34 L641.55,162.83 L641.91,160.31 L642.38,163.34 L642.92,160.84 L643.28,162.37 L643.62,164.21 L644.02,156.78 L644.40,158.36 L644.92,163.40 L645.44,162.02 L645.82,157.53 L646.22,158.77 L646.77,164.96 L647.11,164.61 L647.67,159.07 L648.17,162.63 L648.54,160.77 L649.12,163.68 L649.68,154.93 L650.19,159.35 L650.75,155.84 L651.21,155.33 L651.74,161.95 L652.07,157.41 L652.42,160.99 L652.90,154.69 L653.48,164.62 L653.91,160.32 L654.32,160.67 L654.75,158.85 L655.26,156.05 L655.66,162.40 L656.03,154.76 L656.60,155.75 L657.02,157.45 L657.41,157.88 L657.87,155.28 L658.33,154.56 L658.66,156.22 L659.04,157.76 L659.44,163.21 L659.93,159.20 L660.45,161.54 L660.85,160.77 L661.37,159.88 L661.89,160.96 L662.45,156.91 L662.95,164.75 L663.41,163.96 L663.75,161.96 L664.13,162.25 L664.56,159.89 L664.94,156.83 L665.49,161.08 L665.98,155.27 L666.37,164.65 L666.74,159.92 L667.25,159.62 L667.71,164.67 L668.24,156.61 L668.67,158.62 L669.17,161.42 L669.55,161.62 L669.98,154.17 L670.38,158.15 L670.75,161.38 L671.33,164.25 L671.81,163.43 L672.26,160.45 L672.82,154.66 L673.23,158.12 L673.64,158.71 L673.97,161.47 L674.54,156.58 L674.91,157.68 L675.44,156.49 L675.96,155.90 L676.44,161.93 L676.93,154.93 L677.51,163.33 L677.95,163.45 L678.43,155.85 L678.85,163.03 L679.29,154.46 L679.65,156.05 L680.12,161.08 L680.56,158.44 L681.13,157.77 L681.63,156.25 L682.08,155.98 L682.43,157.70 L682.78,158.19 L683.27,160.04 L683.80,159.25 L684.13,162.00 L684.56,162.27 L685.14,159.77 L685.52,157.94 L685.97,157.51 L686.31,158.38 L686.80,162.98 L687.32,163.72 L687.86,158.53 L688.34,154.60 L688.87,161.79 L689.26,159.19 L689.65,162.75 L690.08,162.59 L690.64,162.55 L691.06,157.77 L691.63,163.95 L692.00,157.98 L692.53,162.32 L692.92,158.91 L693.49,154.99 L693.88,161.31 L694.44,164.42 L694.88,162.69 L695.46,157.62 L695.84,156.86 L696.36,155.54 L696.83,164.23 L697.19,160.92 L697.65,164.63 L698.11,159.40 L698.67,162.28 L699.02,162.84 L699.44,164.66 L700.02,159.43 L700.44,156.50 L700.83,156.27 L701.19,162.03 L701.52,160.59 L702.00,162.09 L702.47,164.20 L702.86,155.02 L703.33,156.96 L703.91,164.14 L704.41,163.17 L704.79,159.33 L705.21,157.80 L705.63,159.26 L706.12,154.28 L706.58,155.41 L707.16,160.07 L707.63,157.47 L708.14,161.81 L708.70,160.39 L709.09,160.91 L709.41,162.18 L709.81,161.91 L710.16,160.57 L710.52,154.40 L710.91,163.33 L711.33,159.75 L711.86,164.76 L712.24,161.63 L712.77,162.73 L713.18,159.22 L713.70,156.76 L714.15,160.97 L714.70,156.68 L715.19,156.39 L715.55,159.25 L716.04,161.04 L716.61,155.81 L717.07,159.28 L717.45,164.09 L717.81,156.87 L718.13,161.08 L718.62,156.46 L719.19,160.98 L719.56,164.36 L720.10,157.45 L720.65,155.43 L721.06,158.61 L721.63,157.29 L722.05,156.28 L722.59,156.02 L723.13,157.75 L723.60,163.64 L723.98,159.82 L724.47,160.35 L724.89,161.11 L725.29,155.71 L725.61,160.66 L726.08,162.80 L726.44,161.40 L726.88,159.78 L727.42,159.71 L727.85,161.10 L728.20,163.60 L728.66,154.47 L729.10,164.40 L729.68,158.69 L730.07,164.30 L730.46,154.20 L730.84,159.18 L731.34,154.74 L731.74,162.00 L732.15,155.93 L732.66,158.80 L733.16,159.33 L733.70,159.63 L734.27,162.94 L734.78,159.39 L735.26,158.14 L735.60,163.73 L736.13,162.44 L736.68,160.06 L737.26,159.21 L737.84,154.89 L738.26,160.28 L738.80,159.73 L739.32,158.11 L739.82,162.76 L740.30,154.23 L740.79,154.00 L741.19,155.26 L741.71,155.85 L742.22,154.80 L742.59,161.65 L743.15,154.79 L743.64,158.37 L744.12,154.85 L744.44,154.87 L744.99,159.40 L745.47,155.47 L745.97,163.91 L746.34,162.59 L746.89,164.91 L747.35,161.09 L747.76,162.59" fill="none" stroke="#000" stroke-width="0.5" opacity="0.55"/>
<path d="M487.50,427.00 L487.70,424.40 L488.35,420.55 L488.50,355.23 L488.63,433.72 L489.30,431.31 L489.96,427.80 L490.62,423.35 L491.27,416.97 L491.42,355.21 L491.55,436.75 L492.22,429.28 L492.96,428.42 L493.83,422.61 L494.35,420.05 L494.50,353.78 L494.63,440.49 L495.17,434.50 L496.10,419.70 L496.75,413.83 L496.90,356.64 L497.03,432.26 L497.70,427.37 L498.38,423.93 L499.15,424.54 L499.71,419.80 L499.86,352.53 L499.99,440.31 L500.56,433.18 L501.57,423.24 L502.22,413.77 L502.37,352.43 L502.50,440.28 L503.17,431.46 L503.83,424.61 L504.49,424.58 L505.14,417.34 L505.29,352.80 L505.42,436.60 L506.09,431.26 L506.89,424.26 L507.69,423.27 L508.34,416.64 L508.49,354.58 L508.62,436.14 L509.29,428.90 L510.17,426.27 L511.15,424.91 L511.71,420.95 L511.86,352.46 L511.99,436.54 L512.57,431.12 L513.67,422.03 L514.24,414.35 L514.39,354.40 L514.52,435.98 L515.11,431.76 L516.18,419.74 L516.81,411.27 L516.96,355.59 L517.09,431.81 L517.74,427.55 L518.35,422.18 L519.09,419.62 L519.58,413.94 L519.73,355.02 L519.86,439.15 L520.38,430.05 L521.25,425.13 L521.90,418.92 L522.05,355.11 L522.18,438.55 L522.85,431.47 L523.71,430.16 L524.57,421.79 L525.22,412.68 L525.37,353.58 L525.50,433.88 L526.17,429.72 L526.79,426.34 L527.41,420.90 L528.08,422.56 L528.68,414.68 L528.83,355.31 L528.96,433.07 L529.58,427.81 L530.70,425.90 L531.35,416.32 L531.50,354.76 L531.63,442.28 L532.30,433.93 L532.94,428.38 L533.57,425.35 L534.22,418.32 L534.37,354.85 L534.50,437.10 L535.17,429.80 L535.79,429.55 L536.42,428.42 L537.04,424.12 L537.69,419.87 L537.84,356.31 L537.97,440.90 L538.64,432.93 L539.51,426.56 L540.38,423.47 L541.03,415.47 L541.18,354.68 L541.31,434.75 L541.98,430.13 L542.61,425.96 L543.25,424.58 L543.93,425.64 L544.54,418.56 L544.69,352.92 L544.82,436.24 L545.45,431.78 L546.61,421.54 L547.26,415.20 L547.41,352.43 L547.54,436.01 L548.21,429.65 L548.85,425.16 L549.49,423.23 L550.12,421.53 L550.77,417.34 L550.92,353.89 L551.05,432.64 L551.72,429.75 L552.37,425.12 L553.01,424.24 L553.75,421.64 L554.30,412.39 L554.45,354.97 L554.58,434.86 L555.15,431.38 L556.23,423.98 L556.81,414.96 L556.96,355.65 L557.09,438.54 L557.69,431.92 L558.76,422.55 L559.41,418.00 L559.56,355.52 L559.69,436.40 L560.36,428.94 L561.15,424.02 L561.94,422.34 L562.59,413.07 L562.74,352.50 L562.87,434.29 L563.54,428.88 L564.25,426.34 L564.95,422.16 L565.60,413.46 L565.75,352.85 L565.88,439.03 L566.55,431.03 L567.17,427.44 L567.79,422.49 L568.42,421.85 L569.07,418.14 L569.22,353.99 L569.35,438.98 L570.01,430.52 L570.63,428.41 L571.25,419.59 L571.90,411.15 L572.05,355.98 L572.18,437.78 L572.85,429.46 L573.53,421.68 L574.22,422.54 L574.87,417.84 L575.02,353.23 L575.15,434.53 L575.82,429.50 L576.43,425.67 L577.04,426.30 L577.70,422.68 L578.30,418.45 L578.45,353.11 L578.58,438.66 L579.20,431.66 L580.33,422.32 L580.98,414.65 L581.13,354.62 L581.26,439.20 L581.93,431.63 L582.63,426.39 L583.35,423.25 L583.98,414.83 L584.13,354.57 L584.26,434.89 L584.92,431.37 L585.53,426.10 L586.14,424.79 L586.79,416.14 L586.94,354.18 L587.07,438.59 L587.74,430.59 L588.38,425.74 L589.03,423.49 L589.80,422.58 L590.33,415.75 L590.48,352.34 L590.61,432.13 L591.15,429.85 L592.09,426.78 L592.74,420.63 L592.89,356.48 L593.02,435.81 L593.69,429.94 L594.34,429.81 L594.99,426.20 L595.64,424.94 L596.29,415.97 L596.44,353.36 L596.57,437.12 L597.24,431.67 L597.94,428.30 L598.67,420.41 L599.29,416.41 L599.44,356.36 L599.57,437.55 L600.22,430.66 L600.83,426.32 L601.41,425.88 L602.06,418.36 L602.21,353.79 L602.34,440.93 L603.01,431.97 L603.90,428.04 L604.79,421.69 L605.44,416.48 L605.59,353.31 L605.72,437.35 L606.39,432.62 L607.09,426.96 L607.85,420.93 L608.43,414.42 L608.58,352.75 L608.71,437.73 L609.32,431.48 L610.41,422.47 L611.06,416.93 L611.21,353.66 L611.34,440.49 L612.01,431.95 L612.74,424.14 L613.47,423.56 L614.11,417.19 L614.26,353.72 L614.39,434.62 L615.05,428.67 L615.67,425.68 L616.29,423.23 L616.93,420.54 L617.08,355.15 L617.21,438.44 L617.87,432.85 L618.49,429.48 L619.10,421.58 L619.75,418.10 L619.90,354.23 L620.03,438.42 L620.70,431.33 L621.49,425.92 L622.27,422.72 L622.92,416.85 L623.07,356.52 L623.20,440.41 L623.87,431.75 L624.61,427.37 L625.34,421.72 L625.99,413.43 L626.14,354.61 L626.27,435.97 L626.94,430.82 L627.78,423.66 L628.66,421.57 L629.27,410.73 L629.42,356.22 L629.55,434.22 L630.17,427.35 L631.32,422.11 L631.97,419.97 L632.12,353.68 L632.25,435.99 L632.92,428.88 L633.81,424.80 L634.80,422.18 L635.35,413.59 L635.50,355.96 L635.63,435.41 L636.21,428.04 L637.28,422.66 L637.86,416.73 L638.01,356.30 L638.14,438.67 L638.74,434.17 L639.81,425.19 L640.46,420.20 L640.61,355.78 L640.74,437.48 L641.41,431.78 L642.25,424.73 L643.10,424.54 L643.75,418.97 L643.90,355.13 L644.03,434.53 L644.70,430.43 L645.60,424.63 L646.49,422.14 L647.14,414.18 L647.29,354.77 L647.42,440.26 L648.09,433.74 L648.72,426.72 L649.35,426.45 L650.13,422.95 L650.64,417.36 L650.79,354.62 L650.92,442.11 L651.44,434.95 L652.32,422.98 L652.97,416.15 L653.12,355.72 L653.25,440.05 L653.92,431.43 L654.75,423.61 L655.70,421.22 L656.24,414.64 L656.39,356.59 L656.52,435.99 L657.08,429.63 L658.14,422.48 L658.70,413.94 L658.85,356.08 L658.98,436.09 L659.56,430.55 L660.58,422.12 L661.23,413.95 L661.38,355.61 L661.51,439.81 L662.18,432.34 L662.90,424.49 L663.77,424.53 L664.27,420.46 L664.42,353.87 L664.55,437.41 L665.07,431.72 L665.95,422.94 L666.60,414.95 L666.75,356.64 L666.88,435.51 L667.55,432.22 L668.25,422.73 L668.99,422.93 L669.60,414.61 L669.75,355.21 L669.88,436.36 L670.51,430.05 L671.75,422.99 L672.31,415.39 L672.46,355.90 L672.59,440.71 L673.17,433.96 L674.23,419.93 L674.84,413.75 L674.99,356.52 L675.12,436.49 L675.75,428.60 L677.03,420.15 L677.55,411.47 L677.70,354.41 L677.83,438.83 L678.37,430.63 L679.29,422.99 L679.94,416.77 L680.09,356.63 L680.22,439.25 L680.89,432.28 L681.75,425.98 L682.70,422.33 L683.25,414.94 L683.40,354.11 L683.53,436.80 L684.10,430.94 L685.10,424.94 L685.75,417.40 L685.90,354.02 L686.03,440.44 L686.70,432.82 L687.39,424.42 L688.07,420.59 L688.72,413.46 L688.87,353.73 L689.00,433.03 L689.67,428.55 L690.37,426.35 L691.17,421.17 L691.73,415.91 L691.88,356.43 L692.01,436.90 L692.58,431.88 L693.58,424.60 L694.23,417.78 L694.38,352.94 L694.51,439.03 L695.18,431.84 L695.86,425.55 L696.63,420.66 L697.18,415.46 L697.33,356.47 L697.46,437.44 L698.03,431.96 L699.15,419.33 L699.69,410.94 L699.84,354.21 L699.97,433.26 L700.53,426.82 L701.51,423.76 L702.16,415.23 L702.31,353.62 L702.44,435.07 L703.11,429.51 L703.93,422.55 L704.85,420.35 L705.41,410.72 L705.56,355.79 L705.69,432.39 L706.27,427.27 L707.42,421.68 L707.94,416.29 L708.09,356.21 L708.22,437.83 L708.76,429.45 L709.69,423.89 L710.34,415.63 L710.49,356.17 L710.62,441.85 L711.29,435.18 L712.03,430.08 L712.88,421.67 L713.42,413.24 L713.57,355.36 L713.70,434.15 L714.25,427.33 L715.33,420.73 L715.86,409.68 L716.01,353.31 L716.14,436.46 L716.68,429.17 L717.62,423.89 L718.27,420.00 L718.42,355.34 L718.55,440.73 L719.22,433.61 L720.02,428.79 L720.82,422.64 L721.47,415.22 L721.62,353.61 L721.75,432.63 L722.42,428.37 L723.31,423.40 L724.19,423.45 L724.84,415.53 L724.99,352.90 L725.12,432.74 L725.79,426.54 L726.61,424.80 L727.45,422.79 L728.07,420.45 L728.22,353.81 L728.35,435.63 L729.00,428.54 L729.60,428.09 L730.18,423.00 L730.83,414.49 L730.98,355.88 L731.11,436.75 L731.78,432.80 L732.60,428.48 L733.52,426.89 L734.07,419.69 L734.22,354.66 L734.35,435.85 L734.91,429.60 L736.03,423.11 L736.56,417.66 L736.71,353.85 L736.84,435.10 L737.38,430.55 L738.40,422.76 L738.96,419.82 L739.11,354.26 L739.24,432.10 L739.82,429.14 L740.85,424.64 L741.50,421.60 L741.65,356.49 L741.78,437.20 L742.45,433.01 L743.30,424.60 L744.15,426.50 L744.80,418.63 L744.95,356.63 L745.08,440.85 L745.75,433.28 L746.41,429.71 L747.07,426.38 L747.73,423.88 L748.38,415.22 L748.53,354.71 L748.66,438.34 L749.33,432.82 L749.93,426.84 L750.53,426.51 L751.21,421.14 L751.79,416.56 L751.94,354.61 L752.07,433.51 L752.67,430.04 L753.83,423.76 L754.39,417.65 L754.54,356.18 L754.67,435.03 L755.25,430.10 L756.35,422.72 L756.91,412.00 L757.06,353.82 L757.19,437.70 L757.77,433.65 L758.94,422.54 L759.45,414.26 L759.60,352.76 L759.73,441.02 L760.25,433.89 L761.12,421.52 L761.77,415.30 L761.92,354.31 L762.05,439.07 L762.72,432.95 L763.37,428.32 L764.01,422.83 L764.66,416.61 L764.81,352.94 L764.94,440.33 L765.61,430.93 L766.31,426.15 L767.01,419.19 L767.66,414.91 L767.81,354.27 L767.94,434.19 L768.61,430.54 L769.36,421.22 L770.12,422.49 L770.77,417.96 L770.92,353.53 L771.05,439.04 L771.72,433.84 L772.50,424.83 L773.29,422.06 L773.94,413.83 L774.09,355.72 L774.22,438.93 L774.89,430.03 L775.56,425.72 L776.22,426.23 L776.87,419.96 L777.02,353.95 L777.15,437.09 L777.82,432.32 L778.45,424.94 L779.16,422.78 L779.74,420.50 L779.89,354.43 L780.02,439.63 L780.61,430.45 L782.03,421.90 L782.32,416.25 L782.47,350.02 L782.60,435.11 L782.92,428.34 L783.69,414.95 L783.92,407.99 L784.07,346.08 L784.20,430.84 L784.45,423.77 L785.01,415.67 L785.28,408.84 L785.43,349.01 L785.56,426.75 L785.85,421.67 L786.63,417.01 L786.79,411.91 L786.94,346.96 L787.07,429.63 L787.25,422.91 L787.73,413.42 L787.89,405.86 L788.04,346.79 L788.17,428.49 L788.35,422.70 L788.88,409.83 L789.00,403.04 L789.15,345.40 L789.28,421.89 L789.41,419.24 L789.84,411.88 L789.94,404.46 L790.09,345.81 L790.22,425.24 L790.34,417.45 L790.66,407.30 L790.83,399.88 L790.98,347.35 L791.11,418.11 L791.31,414.70 L791.88,409.69 L791.99,401.37 L792.14,348.74 L792.27,418.56 L792.40,415.43 L792.73,407.06 L792.91,403.56 L793.06,346.07 L793.19,418.61 L793.39,416.21 L793.92,408.05 L794.09,404.36 L794.24,348.06 L794.37,421.26 L794.55,416.58 L795.10,410.23 L795.23,404.00 L795.38,345.32 L795.51,424.28 L795.66,418.21 L796.06,409.97 L796.23,402.83 L796.38,346.14 L796.51,424.99 L796.70,418.03 L797.23,410.10 L797.36,404.15 L797.51,346.83 L797.64,423.95 L797.80,417.05 L798.27,408.87 L798.40,405.30 L798.55,347.65 L798.68,418.95 L798.82,415.19 L799.22,407.80 L799.38,403.77 L799.53,345.51 L799.66,421.92 L799.85,416.54 L800.41,410.89 L800.51,408.54 L800.66,347.95 L800.79,422.35 L800.90,417.93 L801.21,411.33 L801.38,406.01 L801.53,349.04 L801.66,418.05 L801.86,413.98 L802.43,411.92 L802.55,406.59 L802.70,345.77 L802.83,422.78 L802.97,415.85 L803.35,408.87 L803.53,402.84 L803.68,347.18 L803.81,418.38 L804.00,415.59 L804.59,410.23 L804.69,401.46 L804.84,345.80 L804.97,418.99 L805.08,415.76 L805.45,409.64 L805.57,403.29 L805.72,347.33 L805.85,426.59 L805.98,420.93 L806.41,407.13 L806.52,404.21 L806.67,344.94 L806.80,418.71 L806.94,415.08 L807.33,413.91 L807.48,406.72 L807.63,347.72 L807.76,426.78 L807.93,421.22 L808.39,410.65 L808.56,408.15 L808.71,348.18 L808.84,426.41 L809.03,419.24 L809.58,408.68 L809.71,405.81 L809.86,347.04 L809.99,422.45 L810.14,417.17 L810.59,408.07 L810.71,401.44 L810.86,346.82 L810.99,420.09 L811.14,416.80 L811.56,412.14 L811.70,402.16 L811.85,347.55 L811.98,422.24 L812.13,419.25 L812.53,409.18 L812.71,402.17 L812.86,346.29 L812.99,423.96 L813.19,415.34 L813.76,408.31 L813.90,405.36 L814.05,347.12 L814.18,421.03 L814.34,416.49 L814.79,410.79 L814.93,405.39 L815.08,349.13 L815.21,419.80 L815.37,415.73 L815.79,409.38 L815.98,403.93 L816.13,347.04 L816.26,421.18 L816.46,416.81 L817.04,410.70 L817.17,406.34 L817.32,347.25 L817.45,425.04 L817.61,419.32 L818.01,413.33 L818.19,406.31 L818.34,347.92 L818.47,423.51 L818.67,416.78 L819.22,411.66 L819.36,405.25 L819.51,346.38 L819.64,424.72 L819.81,419.11 L820.27,410.33 L820.42,407.26 L820.57,346.11 L820.70,424.20 L820.86,416.51 L821.33,412.68 L821.47,405.71 L821.62,348.61 L821.75,420.91 L821.92,414.82 L822.40,412.62 L822.53,410.24 L822.68,349.11 L822.81,426.15 L822.96,421.46 L823.45,413.08 L823.54,404.30 L823.69,346.79 L823.82,424.04 L823.93,417.74 L824.32,410.05 L824.40,408.07 L824.55,347.47 L824.68,417.55 L824.78,413.73 L825.07,410.01 L825.23,403.62 L825.38,348.28 L825.51,420.14 L825.68,413.88 L826.15,409.14 L826.33,402.61 L826.48,349.07 L826.61,422.73 L826.81,417.17 L827.42,408.99 L827.52,404.44 L827.67,348.80 L827.80,419.11 L827.91,416.39 L828.32,411.63 L828.40,407.77 L828.55,345.30 L828.68,423.98 L828.79,418.78 L829.06,407.63 L829.24,400.02 L829.39,345.82 L829.52,419.58 L829.72,417.32 L830.31,410.04 L830.42,408.31 L830.57,348.65 L830.70,421.33 L830.83,417.42 L831.20,411.93 L831.35,408.16 L831.50,346.79 L831.63,423.11 L831.79,419.29 L832.30,411.35 L832.41,406.89 L832.56,349.24 L832.69,421.43 L832.81,415.64 L833.13,412.78 L833.32,406.04 L833.47,347.61 L833.60,422.22 L833.81,419.13 L834.35,411.85 L834.53,403.42 L834.68,348.47 L834.81,422.89 L835.01,417.72 L835.60,410.50 L835.71,405.64 L835.86,348.56 L835.99,418.47 L836.12,416.03 L836.53,411.71 L836.64,409.16 L836.79,349.13 L836.92,421.85 L837.05,415.86 L837.44,410.50 L837.57,403.52 L837.72,345.54 L837.85,421.91 L837.99,418.39 L838.41,410.43 L838.56,406.58 L838.71,347.20 L838.84,423.88 L839.00,416.16 L839.39,413.38 L839.61,408.78 L839.76,347.24 L839.89,425.27 L840.13,417.88 L840.83,409.48 L840.93,406.64 L841.08,347.26 L841.21,418.13 L841.33,416.71 L841.60,413.91 L841.81,407.24 L841.96,347.19 L842.09,427.48 L842.33,421.28 L842.91,410.13 L843.13,405.47 L843.28,346.17 L843.41,426.46 L843.64,420.34 L844.23,408.92 L844.43,405.59 L844.58,348.61 L844.71,418.17 L844.93,414.68 L845.56,410.82 L845.68,407.18 L845.83,345.90 L845.96,427.83 L846.09,418.62 L846.46,410.15 L846.62,403.42 L846.77,348.53 L846.90,420.50 L847.09,417.62 L847.56,409.17 L847.75,404.47 L847.90,347.08 L848.03,423.12 L848.23,418.56 L848.84,413.42 L848.94,407.49 L849.09,348.25 L849.22,424.11 L849.34,419.77 L849.64,411.01 L849.83,404.12 L849.98,345.46 L850.11,423.09 L850.33,417.65 L850.90,411.82 L851.06,405.17 L851.21,345.68 L851.34,423.30 L851.52,416.27 L852.03,412.22 L852.16,408.72 L852.31,347.51 L852.44,424.23 L852.59,420.68 L852.95,411.64 L853.17,407.10 L853.32,346.17 L853.45,425.55 L853.69,421.14 L854.36,412.79 L854.49,406.88 L854.64,345.45 L854.77,420.08 L854.92,417.48 L855.34,410.80 L855.50,407.90 L855.65,347.72 L855.78,418.45 L855.96,416.55 L856.45,412.04 L856.62,404.97 L856.77,346.51 L856.90,420.83 L857.10,418.26 L857.64,410.64 L857.79,407.66 L857.94,349.32 L858.07,424.12 L858.23,417.18 L858.63,412.76 L858.84,408.94 L858.99,348.41 L859.12,421.68 L859.36,416.43 L859.96,409.91 L860.14,406.69 L860.29,347.17 L860.42,424.46 L860.63,418.31 L861.23,411.80 L861.35,407.57 L861.50,349.43 L861.63,426.38 L861.77,421.57 L862.16,412.06 L862.32,405.37 L862.47,346.31 L862.60,427.21 L862.78,418.98 L863.24,411.37 L863.44,405.25 L863.59,346.48 L863.72,419.33 L863.94,416.94 L864.44,411.96 L864.68,407.11 L864.83,349.56 L864.96,423.95 L865.21,417.17 L865.88,409.31 L866.04,402.79 L866.19,348.66 L866.32,424.33 L866.51,419.53 L866.93,410.32 L867.17,407.20 L867.32,349.58 L867.45,422.90 L867.72,417.23 L868.40,411.90 L868.59,407.04 L868.74,347.94 L868.87,420.53 L869.07,414.93 L869.65,411.75 L869.79,406.32 L869.94,348.24 L870.07,426.59 L870.23,417.74 L870.67,413.63 L870.82,406.05 L870.97,348.51 L871.10,420.83 L871.28,415.36 L871.78,411.71 L871.90,406.21 L872.05,347.16 L872.18,426.77 L872.32,418.43 L872.75,408.96 L872.87,401.61 L873.02,349.38 L873.15,421.13 L873.29,415.58 L873.66,414.18 L873.82,407.01 L873.97,345.71 L874.10,423.08 L874.29,421.26 L874.74,414.50 L874.96,407.89 L875.11,347.28 L875.24,427.20 L875.48,422.39 L876.14,411.31 L876.28,406.82 L876.43,349.81 L876.56,426.41 L876.72,420.32 L877.08,410.18 L877.31,406.83 L877.46,348.04 L877.59,424.51 L877.84,417.94 L878.52,415.17 L878.66,411.04 L878.81,348.00 L878.94,427.83 L879.10,419.73 L879.44,409.75 L879.70,405.76 L879.85,346.41 L879.98,425.00 L880.25,419.28 L880.93,411.24 L881.14,405.27 L881.29,348.60 L881.42,423.82 L881.65,420.01 L882.28,412.81 L882.41,407.80 L882.56,347.60 L882.69,423.41 L882.84,419.38 L883.23,414.73 L883.41,410.56 L883.56,349.42 L883.69,421.99 L883.89,419.55 L884.45,413.53 L884.58,411.80 L884.73,349.54 L884.86,428.04 L885.01,421.66 L885.43,412.93 L885.58,406.95 L885.73,347.44 L885.86,426.10 L886.04,418.72 L886.42,412.86 L886.66,407.43 L886.81,346.34 L886.94,421.88 L887.20,416.68 L887.83,414.15 L888.06,408.04 L888.21,346.53 L888.34,425.97 L888.59,420.62 L889.29,413.49 L889.42,407.97 L889.57,346.84 L889.70,424.12 L889.85,418.70 L890.16,411.82 L890.42,404.11 L890.57,347.57 L890.70,425.89 L890.99,418.92 L891.77,409.84 L891.90,406.72 L892.05,347.39 L892.18,421.50 L892.34,418.78 L892.72,416.48 L892.92,411.07 L893.07,347.42 L893.20,423.83 L893.42,421.63 L893.89,412.44 L894.16,405.72 L894.31,346.37 L894.44,427.62 L894.73,421.81 L895.47,412.47 L895.65,403.87 L895.80,350.21 L895.93,421.45 L896.13,416.88 L896.58,414.08 L896.82,408.65 L896.97,348.29 L897.10,430.21 L897.36,421.82 L898.03,414.66 L898.20,405.14 L898.35,346.38 L898.48,427.62 L898.68,421.85 L899.17,410.37 L899.36,402.50 L899.51,350.08 L899.64,421.73 L899.85,416.81 L900.41,412.04 L900.56,404.76 L900.71,349.20 L900.84,421.89 L901.02,418.57 L901.49,416.64 L901.64,409.93 L901.79,346.56 L901.92,426.80 L902.09,422.63 L902.46,411.88 L902.72,407.37 L902.87,350.19 L903.00,428.27 L903.28,421.35 L903.97,414.43 L904.19,409.41 L904.34,350.07 L904.47,428.19 L904.70,420.21 L905.20,412.56 L905.48,406.13 L905.63,347.85 L905.76,424.72 L906.07,420.69 L906.76,411.41 L907.03,402.46 L907.18,349.02 L907.31,423.66 L907.60,419.22 L908.40,415.70 L908.53,411.04 L908.68,346.80 L908.81,428.35 L908.96,423.18 L909.37,412.34 L909.54,404.03 L909.69,346.50 L909.82,421.38 L910.00,417.35 L910.40,412.95 L910.67,408.71 L910.82,349.45 L910.95,426.47 L911.23,419.22 L911.98,415.10 L912.15,411.93 L912.30,348.43 L912.43,424.33 L912.62,418.94 L913.07,414.15 L913.29,406.66 L913.44,346.33 L913.57,423.69 L913.81,419.21 L914.35,413.92 L914.62,406.91 L914.77,347.69 L914.90,420.89 L915.18,418.53 L915.94,415.89 L916.11,407.69 L916.26,349.15 L916.39,422.28 L916.58,418.63 L917.11,415.25 L917.26,413.03 L917.41,347.24 L917.54,430.49 L917.71,423.66 L918.09,412.66 L918.34,405.65 L918.49,347.14 L918.62,424.94 L918.89,419.39 L919.58,413.89 L919.78,406.26 L919.93,348.52 L920.06,421.52 L920.29,419.61 L920.84,413.39 L921.06,411.68 L921.21,348.94 L921.34,422.60 L921.57,418.00 L922.18,416.58 L922.35,409.47 L922.50,346.69 L922.63,423.75 L922.82,420.94 L923.28,413.98 L923.48,410.83 L923.63,349.13 L923.76,428.51 L923.99,421.54 L924.57,416.26 L924.75,411.96 L924.90,350.24 L925.03,427.22 L925.22,420.71 L925.60,415.75 L925.91,406.90 L926.06,349.93 L926.19,430.27 L926.51,423.80 L927.39,413.53 L927.53,407.07 L927.68,348.04 L927.81,421.26 L927.98,416.82 L928.39,414.86 L928.60,409.52 L928.75,349.55 L928.88,422.80 L929.10,420.02 L929.70,415.52 L929.87,409.49 L930.02,347.39 L930.15,425.34 L930.33,421.71 L930.80,413.64 L931.00,405.61 L931.15,350.32 L931.28,422.44 L931.50,418.47 L932.02,413.78 L932.25,410.34 L932.40,346.95 L932.53,422.51 L932.78,417.81 L933.42,413.56 L933.61,406.62 L933.76,350.19 L933.89,425.69 L934.11,419.67 L934.66,416.61 L934.84,408.77 L934.99,348.19 L935.12,429.06 L935.32,423.99 L935.77,413.95 L936.02,410.48 L936.17,349.49 L936.30,424.92 L936.57,420.85 L937.13,414.80 L937.45,407.51 L937.60,348.01 L937.73,424.89 L938.06,421.52 L938.86,414.80 L939.11,408.99 L939.26,347.57 L939.39,422.55 L939.66,420.84 L940.35,416.13 L940.54,410.40 L940.69,348.44 L940.82,430.28 L941.02,424.92 L941.53,413.07 L941.73,409.37 L941.88,347.33 L942.01,427.08 L942.23,419.59 L942.74,412.22 L942.98,409.33 L943.13,349.75 L943.26,427.35 L943.52,420.82 L944.17,416.31 L944.37,410.61 L944.52,349.73 L944.65,428.91 L944.88,423.39 L945.46,415.16 L945.65,409.93 L945.80,348.87 L945.93,427.76 L946.14,424.13 L946.58,412.79 L946.87,409.55 L947.02,349.94 L947.15,424.10 L947.45,418.28 L948.21,412.77 L948.43,408.65 L948.58,347.85 L948.71,423.15 L948.94,419.12 L949.57,413.61 L949.73,407.31 L949.88,350.75 L950.01,426.26 L950.20,419.18 L950.71,416.75 L950.87,410.78 L951.02,348.00 L951.15,429.59 L951.34,421.95 L951.80,417.11 L951.99,410.19 L952.14,347.84 L952.27,431.20 L952.49,425.24 L953.04,411.37 L953.22,405.91 L953.37,348.15 L953.50,428.21 L953.69,419.42 L954.14,417.81 L954.39,411.96 L954.54,349.03 L954.67,425.40 L954.93,419.91 L955.59,413.31 L955.79,407.23 L955.94,349.08 L956.07,424.23 L956.28,420.56 L956.86,416.13 L957.03,409.42 L957.18,347.58 L957.31,428.10 L957.50,423.60 L957.94,418.06 L958.17,411.55 L958.32,348.32 L958.45,428.89 L958.70,421.80 L959.32,414.71 L959.52,409.46 L959.67,349.13 L959.80,424.13 L960.02,418.76 L960.59,415.22 L960.77,410.65 L960.92,347.83 L961.05,424.25 L961.25,422.43 L961.75,418.76 L961.95,412.42 L962.10,348.61 L962.23,428.35 L962.44,422.00 L962.83,414.97 L963.17,406.77 L963.32,350.76 L963.45,429.30 L963.80,422.73 L964.58,416.61 L964.89,410.66 L965.04,348.67 L965.17,429.08 L965.50,424.06 L966.30,416.15 L966.54,409.19 L966.69,349.98 L966.82,425.55 L967.09,419.07 L967.61,414.47 L967.96,412.80 L968.11,348.30 L968.24,428.29 L968.60,420.83 L969.42,416.06 L969.71,407.96 L969.86,347.44 L969.99,427.51 L970.29,423.49 L970.99,413.93 L971.26,405.84 L971.41,348.85 L971.54,427.21 L971.83,421.03 L972.51,414.68 L972.75,408.23 L972.90,348.09 L973.03,429.64 L973.30,422.68 L973.96,414.49 L974.16,406.97 L974.31,348.84 L974.44,428.01 L974.66,422.26 L975.19,415.26 L975.42,410.32 L975.57,351.29 L975.70,424.40 L975.94,422.79 L976.42,415.80 L976.75,410.62 L976.90,348.65 L977.03,427.62 L977.39,424.90 L978.25,416.47 L978.48,409.53 L978.63,348.58 L978.76,432.07 L979.02,426.22 L979.64,417.67 L979.86,415.01 L980.01,348.85 L980.14,424.63 L980.38,421.25 L980.88,416.81 L981.18,412.91 L981.33,350.90 L981.46,429.17 L981.77,422.58 L982.59,415.89 L982.77,409.41 L982.92,348.47 L983.05,424.54 L983.25,421.25 L983.62,415.71 L983.95,406.20 L984.10,350.66 L984.23,430.21 L984.58,425.04 L985.40,415.60 L985.66,410.92 L985.81,348.16 L985.94,427.51 L986.22,420.24 L986.88,414.84 L987.14,410.20 L987.29,347.92 L987.42,424.43 L987.69,420.37 L988.36,418.17 L988.58,413.58 L988.73,351.89 L988.86,432.13 L989.11,425.86 L989.55,415.25 L989.91,407.69 L990.06,350.92 L990.19,430.69 L990.58,423.14 L991.57,416.57 L991.76,411.03 L991.91,349.45 L992.04,426.39 L992.25,423.80 L992.70,419.07 L992.99,410.79 L993.14,349.53 L993.27,430.99 L993.58,424.14 L994.26,418.35 L994.55,411.78 L994.70,351.25 L994.83,432.74 L995.13,427.29 L995.76,414.93 L996.10,412.84 L996.25,349.81 L996.38,424.40 L996.75,419.06 L997.54,417.55 L997.87,411.51 L998.02,351.02 L998.15,430.97 L998.49,423.37 L999.23,416.11 L999.56,411.06 L999.71,351.80 L999.84,426.41 L1000.20,421.21 L1000.91,416.90 L1001.29,413.57 L1001.44,348.62 L1001.57,431.33 L1001.97,425.25 L1002.92,418.49 L1003.18,411.45 L1003.33,350.84 L1003.46,428.64 L1003.75,423.99 L1004.44,415.06 L1004.66,409.58 L1004.81,349.42 L1004.94,430.37 L1005.19,424.38 L1005.63,419.91 L1006.01,412.91 L1006.16,351.99 L1006.29,434.06 L1006.68,425.24 L1007.49,417.59 L1007.87,410.58 L1008.02,351.03 L1008.15,430.53 L1008.54,426.01 L1009.41,418.07 L1009.75,410.00 L1009.90,351.65 L1010.03,430.98 L1010.38,424.25 L1011.08,416.37 L1011.47,411.26 L1011.62,350.38 L1011.75,430.98 L1012.15,422.40 L1013.07,417.42 L1013.37,413.63 L1013.52,349.60 L1013.65,429.06 L1013.96,421.82 L1014.60,418.41 L1014.95,412.40 L1015.10,351.76 L1015.23,431.39 L1015.59,426.26 L1016.48,419.11 L1016.71,414.98 L1016.86,352.55 L1016.99,427.04 L1017.24,424.11 L1017.87,416.65 L1018.08,410.85 L1018.23,350.94 L1018.36,429.17 L1018.58,421.05 L1019.05,415.51 L1019.33,408.92 L1019.48,350.16 L1019.61,424.88 L1019.91,420.18 L1020.51,414.98 L1020.87,409.74 L1021.02,351.11 L1021.15,426.49 L1021.54,421.02 L1022.44,418.34 L1022.72,411.97 L1022.87,350.58 L1023.00,425.63 L1023.30,423.21 L1023.92,416.83 L1024.27,409.56 L1024.42,352.52 L1024.55,424.12 L1024.92,419.59 L1025.71,417.99 L1026.05,409.40 L1026.20,349.17 L1026.33,430.41 L1026.70,424.00 L1027.58,418.05 L1027.81,411.67 L1027.96,350.16 L1028.09,430.41 L1028.34,425.84 L1028.77,417.17 L1029.17,414.36 L1029.32,350.08 L1029.45,433.22 L1029.87,424.09 L1030.75,420.37 L1031.13,414.51 L1031.28,350.46 L1031.41,429.20 L1031.80,425.63 L1032.62,421.45 L1033.00,412.74 L1033.15,349.90 L1033.28,427.73 L1033.68,424.26 L1034.49,418.56 L1034.90,413.54 L1035.05,351.90 L1035.18,432.02 L1035.60,425.66 L1036.59,416.33 L1036.87,411.30 L1037.02,349.66 L1037.15,428.85 L1037.45,426.29 L1038.06,419.43 L1038.40,413.42 L1038.55,348.89 L1038.68,425.67 L1039.05,422.90 L1039.95,416.16 L1040.16,408.31 L1040.31,349.74 L1040.44,428.30 L1040.68,421.85 L1041.25,418.15 L1041.49,414.25 L1041.64,352.58 L1041.77,428.67 L1042.02,425.10 L1042.55,416.27 L1042.86,407.56 L1043.01,350.04 L1043.14,425.92 L1043.47,421.53 L1044.07,416.71 L1044.49,413.71 L1044.64,349.88 L1044.77,430.04 L1045.21,422.33 L1046.16,417.39 L1046.53,412.67 L1046.68,351.83 L1046.81,430.98 L1047.20,421.97 L1048.17,416.51 L1048.40,410.01 L1048.55,351.99 L1048.68,429.52 L1048.92,424.70 L1049.34,421.10 L1049.73,414.75 L1049.88,352.76 L1050.01,432.49 L1050.41,426.38 L1051.30,415.14 L1051.63,407.37 L1051.78,351.82 L1051.91,430.77 L1052.27,423.59" fill="none" stroke="#000" stroke-width="0.56" stroke-linejoin="bevel" mask="url(#tm2)"/>
<path d="M487.50,431.54 L487.85,421.26 L488.44,423.03 L488.79,428.17 L489.19,430.79 L489.57,431.55 L489.97,427.61 L490.54,428.54 L491.10,428.79 L491.43,430.70 L491.91,424.42 L492.27,430.35 L492.74,431.32 L493.27,431.57 L493.74,428.68 L494.22,423.84 L494.79,424.44 L495.32,431.50 L495.81,422.56 L496.34,428.34 L496.71,421.54 L497.17,421.35 L497.73,426.57 L498.19,425.50 L498.68,431.08 L499.08,425.11 L499.55,424.27 L500.03,426.97 L500.46,428.41 L500.92,421.97 L501.50,424.91 L501.93,425.43 L502.50,431.47 L502.95,425.41 L503.29,430.85 L503.65,427.01 L504.06,424.61 L504.47,423.10 L504.80,426.89 L505.33,428.12 L505.70,428.63 L506.03,425.52 L506.57,431.13 L507.01,430.31 L507.46,426.76 L507.93,431.90 L508.44,426.20 L508.96,428.08 L509.37,429.63 L509.90,427.69 L510.47,421.20 L510.92,427.98 L511.33,422.89 L511.83,425.78 L512.22,421.46 L512.79,424.88 L513.14,423.38 L513.52,430.53 L513.89,424.04 L514.23,426.17 L514.60,424.79 L515.11,431.18 L515.65,421.42 L516.07,430.34 L516.40,423.24 L516.84,425.21 L517.36,428.90 L517.80,423.74 L518.18,423.93 L518.51,428.32 L518.87,430.78 L519.36,421.62 L519.81,427.64 L520.13,426.35 L520.46,429.43 L520.77,427.95 L521.35,430.31 L521.73,426.88 L522.08,424.77 L522.63,430.00 L522.95,425.18 L523.44,422.93 L523.97,430.82 L524.43,424.98 L524.98,426.64 L525.34,424.06 L525.70,430.23 L526.15,428.66 L526.69,431.71 L527.06,425.46 L527.61,429.38 L528.03,428.21 L528.39,422.78 L528.72,425.18 L529.10,426.69 L529.68,422.68 L530.14,430.51 L530.62,426.80 L531.14,421.24 L531.71,428.55 L532.25,430.08 L532.59,421.73 L532.95,426.55 L533.52,431.00 L533.95,427.85 L534.46,424.66 L535.04,431.36 L535.55,430.92 L536.08,428.17 L536.48,424.10 L536.86,421.63 L537.43,424.28 L537.75,424.48 L538.09,425.90 L538.50,422.93 L538.94,425.56 L539.35,429.95 L539.75,426.95 L540.30,431.55 L540.72,421.45 L541.29,426.66 L541.66,422.41 L542.04,424.42 L542.39,421.54 L542.98,430.02 L543.32,426.29 L543.85,426.55 L544.19,424.74 L544.61,431.06 L545.08,426.05 L545.56,421.53 L546.06,429.89 L546.56,424.97 L546.95,421.11 L547.29,422.70 L547.73,429.56 L548.10,426.20 L548.59,427.92 L548.91,431.13 L549.38,424.34 L549.76,428.58 L550.33,424.71 L550.75,427.13 L551.11,425.46 L551.67,427.12 L552.21,423.88 L552.76,429.61 L553.14,426.83 L553.64,427.30 L554.11,423.64 L554.58,424.90 L555.11,425.10 L555.69,427.39 L556.06,425.57 L556.41,429.10 L556.74,427.65 L557.14,429.55 L557.49,428.48 L558.00,423.56 L558.35,425.10 L558.84,423.87 L559.15,425.86 L559.69,422.74 L560.26,426.59 L560.62,422.10 L561.03,426.24 L561.39,421.93 L561.84,423.79 L562.28,425.96 L562.78,427.35 L563.16,422.98 L563.70,421.56 L564.05,421.77 L564.59,426.95 L565.16,427.89 L565.56,425.74 L566.07,423.54 L566.61,425.48 L566.93,424.78 L567.40,422.61 L567.96,431.19 L568.41,430.95 L568.91,426.92 L569.27,431.48 L569.83,425.97 L570.25,421.81 L570.73,430.40 L571.15,424.18 L571.63,429.73 L572.00,424.11 L572.48,421.45 L573.02,424.47 L573.56,426.00 L573.92,421.21 L574.26,423.86 L574.78,429.73 L575.27,424.38 L575.76,429.06 L576.18,421.90 L576.62,423.44 L576.99,425.30 L577.32,430.88 L577.71,430.88 L578.23,421.12 L578.78,429.90 L579.24,430.73 L579.68,421.28 L580.04,424.42 L580.59,430.12 L580.93,424.85 L581.28,423.51 L581.69,425.56 L582.04,428.23 L582.42,430.79 L582.87,425.73 L583.39,424.79 L583.78,422.35 L584.17,423.58 L584.68,424.90 L585.19,424.03 L585.52,424.35 L585.94,431.01 L586.31,423.33 L586.67,423.79 L587.24,431.25 L587.62,421.55 L588.07,427.43 L588.41,425.60 L588.94,421.01 L589.44,428.53 L589.97,426.36 L590.41,426.70 L590.76,426.65 L591.14,424.53 L591.47,422.74 L591.80,426.95 L592.18,427.11 L592.63,423.56 L592.98,427.56 L593.48,428.59 L593.93,427.38 L594.25,424.37 L594.78,425.15 L595.12,425.63 L595.66,422.08 L596.01,426.48 L596.56,425.29 L596.94,429.45 L597.28,424.25 L597.76,430.34 L598.31,424.58 L598.69,425.00 L599.04,424.00 L599.56,431.77 L599.95,421.80 L600.47,431.63 L601.00,425.54 L601.51,429.37 L602.03,426.42 L602.61,429.59 L602.99,425.74 L603.33,425.12 L603.87,426.35 L604.32,429.57 L604.66,424.89 L605.11,426.43 L605.61,431.31 L606.14,427.00 L606.64,426.92 L607.22,427.56 L607.69,425.36 L608.12,429.40 L608.54,430.94 L609.05,431.51 L609.56,427.27 L609.97,421.20 L610.46,429.26 L610.97,429.35 L611.30,428.52 L611.69,425.27 L612.24,425.45 L612.68,421.56 L613.04,423.31 L613.42,426.75 L613.74,421.98 L614.08,429.07 L614.66,429.25 L615.11,422.44 L615.64,422.42 L615.98,426.63 L616.52,424.42 L617.07,424.65 L617.65,429.13 L618.20,431.83 L618.73,423.16 L619.19,426.99 L619.70,423.53 L620.17,424.13 L620.53,425.95 L621.06,427.09 L621.47,423.48 L621.89,425.39 L622.27,424.42 L622.65,424.23 L623.15,427.88 L623.63,431.16 L624.13,422.43 L624.55,426.77 L625.07,426.83 L625.41,426.24 L625.90,429.64 L626.33,423.35 L626.66,426.53 L627.18,422.21 L627.63,427.57 L628.10,423.55 L628.44,421.24 L628.84,430.86 L629.26,431.86 L629.80,427.42 L630.23,427.19 L630.78,424.68 L631.13,430.89 L631.62,425.16 L632.04,422.11 L632.51,429.65 L632.96,428.67 L633.47,424.64 L633.96,431.69 L634.47,423.01 L634.96,428.09 L635.49,428.72 L636.05,431.74 L636.42,426.27 L636.75,431.85 L637.09,425.69 L637.57,425.72 L637.93,426.53 L638.31,426.39 L638.82,424.29 L639.25,427.95 L639.71,429.81 L640.27,431.64 L640.63,426.31 L640.97,428.68 L641.40,430.34 L641.84,429.78 L642.17,427.74 L642.59,430.16 L642.93,421.98 L643.44,424.59 L643.87,425.45 L644.45,427.86 L644.99,430.23 L645.54,425.92 L645.93,426.67 L646.49,430.72 L646.93,430.97 L647.45,421.44 L647.94,429.73 L648.26,425.15 L648.75,426.58 L649.21,421.99 L649.60,430.56 L650.01,426.27 L650.48,424.11 L650.91,426.56 L651.46,430.27 L651.82,426.54 L652.34,430.86 L652.80,427.95 L653.28,428.34 L653.84,431.84 L654.42,422.37 L654.93,425.27 L655.32,422.10 L655.88,430.83 L656.34,426.47 L656.71,431.20 L657.23,422.84 L657.70,431.95 L658.09,425.10 L658.50,425.09 L658.85,427.91 L659.23,428.48 L659.67,430.27 L660.19,430.44 L660.54,429.74 L661.07,424.21 L661.38,422.09 L661.91,431.65 L662.24,423.68 L662.66,421.75 L663.15,430.44 L663.69,422.97 L664.25,429.64 L664.61,430.39 L665.18,430.67 L665.69,429.98 L666.15,421.10 L666.65,426.50 L667.01,422.47 L667.56,430.95 L667.89,421.21 L668.39,424.21 L668.94,426.08 L669.45,421.51 L669.98,423.19 L670.41,426.35 L670.81,423.68 L671.25,421.57 L671.60,422.43 L672.15,424.43 L672.73,430.90 L673.09,430.42 L673.67,425.87 L674.12,428.42 L674.56,423.89 L675.08,423.42 L675.49,421.25 L675.90,429.87 L676.25,423.09 L676.67,424.27 L676.99,421.60 L677.36,429.72 L677.88,429.87 L678.38,431.98 L678.77,428.79 L679.21,431.57 L679.64,428.96 L680.16,431.60 L680.69,424.60 L681.18,429.76 L681.74,423.72 L682.26,428.94 L682.61,422.31 L683.08,427.58 L683.48,427.80 L683.84,427.30 L684.30,430.14 L684.81,421.87 L685.27,422.40 L685.73,428.46 L686.24,421.10 L686.69,422.92 L687.15,426.42 L687.59,429.40 L687.99,426.24 L688.37,423.18 L688.86,422.74 L689.39,425.12 L689.73,429.66 L690.05,424.25 L690.55,421.17 L691.05,427.19 L691.63,424.44 L692.17,431.79 L692.62,421.84 L693.02,429.95 L693.34,427.97 L693.79,429.14 L694.21,431.29 L694.56,425.58 L694.95,427.15 L695.33,425.26 L695.76,431.15 L696.09,424.12 L696.44,428.87 L696.96,421.18 L697.49,430.69 L697.93,427.55 L698.46,431.20 L698.83,428.79 L699.17,425.01 L699.73,427.91 L700.19,425.90 L700.63,421.34 L701.10,431.35 L701.44,421.38 L701.93,430.05 L702.36,421.92 L702.85,428.22 L703.22,429.95 L703.69,429.65 L704.06,424.98 L704.56,428.35 L705.10,431.38 L705.61,421.11 L706.05,428.33 L706.58,424.46 L706.91,427.39 L707.28,426.68 L707.65,430.66 L707.98,427.14 L708.53,428.07 L708.88,427.02 L709.42,427.94 L709.98,429.97 L710.40,422.36 L710.90,426.29 L711.44,425.89 L711.95,422.58 L712.46,430.52 L713.00,429.53 L713.49,422.88 L713.90,424.09 L714.29,427.43 L714.71,428.24 L715.26,431.93 L715.58,427.71 L716.05,425.75 L716.56,430.68 L716.94,427.99 L717.30,425.84 L717.71,430.02 L718.27,430.57 L718.73,428.81 L719.22,426.95 L719.57,423.96 L720.14,427.55 L720.49,424.91 L720.84,422.38 L721.26,424.21 L721.58,426.45 L722.14,426.09 L722.57,425.20 L722.95,424.60 L723.32,425.72 L723.88,425.02 L724.44,426.49 L724.92,426.30 L725.34,430.74 L725.82,423.09 L726.22,425.32 L726.68,425.15 L727.07,424.34 L727.65,429.13 L728.20,430.85 L728.56,426.90 L729.07,426.36 L729.52,427.96 L730.01,422.93 L730.34,424.00 L730.66,424.40 L730.99,422.15 L731.48,423.15 L731.99,425.61 L732.53,427.14 L733.08,425.67 L733.51,431.21 L734.01,425.71 L734.56,429.02 L735.05,421.30 L735.60,422.18 L735.92,424.73 L736.29,423.65 L736.74,426.54 L737.24,430.52 L737.74,430.53 L738.17,422.63 L738.68,431.95 L739.04,427.75 L739.46,431.82 L739.78,426.26 L740.19,425.06 L740.71,421.01 L741.10,431.64 L741.54,421.15 L742.02,428.23 L742.58,430.73 L743.15,423.91 L743.56,428.66 L743.96,425.13 L744.29,423.18 L744.64,425.10 L745.15,423.13 L745.54,421.91 L745.96,427.47 L746.44,428.11 L746.90,428.65 L747.43,430.24 L747.75,431.23 L748.19,431.92 L748.71,426.08 L749.04,422.07 L749.56,421.07 L749.89,428.68 L750.37,428.44 L750.70,431.54 L751.22,421.13 L751.69,424.59 L752.07,427.75 L752.65,421.35 L753.18,431.25 L753.52,430.87 L753.84,424.54 L754.16,422.95 L754.52,427.18 L754.95,431.64 L755.47,421.82 L755.81,424.07 L756.34,429.82 L756.88,430.53 L757.40,427.15 L757.94,430.06 L758.47,430.67 L758.93,421.95 L759.42,428.71 L759.99,429.22 L760.54,431.04 L760.95,431.19 L761.42,425.77 L761.85,426.46 L762.28,428.94 L762.66,425.80 L763.15,431.67 L763.66,427.11 L764.08,428.26 L764.65,421.19 L765.06,424.12 L765.59,428.34 L765.90,430.87 L766.33,422.53 L766.67,421.78 L767.05,421.90 L767.56,422.51 L767.99,428.23 L768.42,424.21 L768.86,426.06 L769.33,427.49 L769.73,428.49 L770.28,431.64 L770.76,424.24 L771.08,425.73 L771.66,431.89 L772.17,423.13 L772.54,422.70 L772.97,431.47 L773.34,429.98 L773.80,423.94 L774.24,421.59 L774.73,430.95 L775.13,431.67 L775.52,424.89 L776.02,423.35 L776.35,426.50 L776.80,422.78 L777.16,422.24 L777.52,422.65 L778.01,430.80 L778.49,423.51 L778.96,431.50 L779.37,429.02 L779.68,429.42 L780.23,426.98 L780.79,427.56" fill="none" stroke="#000" stroke-width="0.5" opacity="0.55"/>
<path d="M783.0,407.2 L784.3,395.8 L785.6,383.9 L786.9,369.4 L788.2,361.0 L789.5,353.5 L790.8,351.3 L792.1,351.7 L793.4,349.1 L794.7,350.4 L796.0,352.8 L797.3,353.0 L798.6,352.1 L799.9,349.0 L801.2,350.0 L802.5,353.9 L803.8,350.4 L805.1,351.7 L806.4,350.0 L807.7,352.5 L809.0,353.5 L810.3,350.8 L811.6,349.7 L812.9,350.5 L814.2,349.0 L815.5,350.7 L816.8,353.1 L818.1,350.6 L819.4,352.5 L820.7,353.9 L822.0,352.7 L823.3,349.1 L824.6,350.8 L825.9,349.0 L827.2,349.9 L828.5,350.0 L829.8,353.6 L831.1,350.7 L832.4,351.7 L833.7,349.6 L835.0,353.1 L836.3,349.3 L837.6,349.6 L838.9,352.2 L840.2,350.9 L841.5,351.9 L842.8,350.8 L844.1,349.6 L845.4,352.7 L846.7,350.1 L848.0,354.3 L849.3,351.4 L850.6,352.3 L851.9,351.7 L853.2,349.7 L854.5,349.6 L855.8,353.7 L857.1,353.2 L858.4,352.7 L859.7,350.1 L861.0,350.3 L862.3,351.1 L863.6,354.6 L864.9,354.5 L866.2,352.1 L867.5,352.1 L868.8,351.7 L870.1,351.6 L871.4,354.6 L872.7,352.3 L874.0,350.2 L875.3,353.7 L876.6,351.7 L877.9,353.7 L879.2,353.2 L880.5,351.7 L881.8,351.3 L883.1,353.8 L884.4,351.5 L885.7,353.3 L887.0,350.1 L888.3,351.3 L889.6,352.4 L890.9,353.3 L892.2,351.9 L893.5,353.8 L894.8,351.9 L896.1,354.6 L897.4,355.1 L898.7,352.8 L900.0,351.1 L901.3,355.0 L902.6,353.8 L903.9,354.0 L905.2,354.3 L906.5,353.7 L907.8,353.5 L909.1,353.6 L910.4,350.6 L911.7,352.7 L913.0,351.6 L914.3,353.7 L915.6,352.9 L916.9,350.9 L918.2,352.2 L919.5,351.6 L920.8,353.0 L922.1,353.7 L923.4,351.9 L924.7,350.7 L926.0,352.1 L927.3,351.3 L928.6,352.7 L929.9,353.9 L931.2,353.6 L932.5,353.8 L933.8,355.0 L935.1,355.0 L936.4,352.8 L937.7,353.9 L939.0,355.8 L940.3,354.0 L941.6,355.5 L942.9,351.6 L944.2,354.2 L945.5,354.2 L946.8,353.0 L948.1,352.3 L949.4,356.0 L950.7,356.0 L952.0,354.2 L953.3,356.1 L954.6,353.3 L955.9,356.2 L957.2,352.7 L958.5,351.9 L959.8,353.6 L961.1,355.3 L962.4,351.5 L963.7,352.8 L965.0,355.4 L966.3,352.8 L967.6,356.4 L968.9,354.6 L970.2,354.8 L971.5,355.3 L972.8,355.4 L974.1,354.3 L975.4,353.1 L976.7,354.0 L978.0,355.4 L979.3,351.9 L980.6,354.0 L981.9,356.2 L983.2,351.9 L984.5,353.9 L985.8,355.4 L987.1,354.3 L988.4,353.8 L989.7,356.2 L991.0,353.4 L992.3,352.3 L993.6,355.4 L994.9,353.4 L996.2,356.6 L997.5,354.4 L998.8,354.6 L1000.1,352.9 L1001.4,356.2 L1002.7,353.3 L1004.0,356.1 L1005.3,352.3 L1006.6,357.1 L1007.9,355.7 L1009.2,356.5 L1010.5,355.5 L1011.8,355.9 L1013.1,353.8 L1014.4,353.1 L1015.7,354.4 L1017.0,355.5 L1018.3,353.0 L1019.6,352.8 L1020.9,355.3 L1022.2,356.9 L1023.5,354.7 L1024.8,355.5 L1026.1,357.3 L1027.4,352.9 L1028.7,353.4 L1030.0,355.2 L1031.3,355.4 L1032.6,354.0 L1033.9,354.0 L1035.2,355.3 L1036.5,353.9 L1037.8,356.5 L1039.1,356.4 L1040.4,353.3 L1041.7,353.3 L1043.0,355.8 L1044.3,357.3 L1045.6,354.5 L1046.9,353.1 L1048.2,353.2 L1049.5,357.8 L1050.8,354.1 L1050.8,426.1 L1049.5,429.2 L1048.2,426.3 L1046.9,429.5 L1045.6,429.9 L1044.3,428.1 L1043.0,426.8 L1041.7,426.2 L1040.4,429.2 L1039.1,429.0 L1037.8,426.4 L1036.5,427.4 L1035.2,426.0 L1033.9,429.4 L1032.6,428.3 L1031.3,428.6 L1030.0,430.1 L1028.7,428.6 L1027.4,428.9 L1026.1,427.1 L1024.8,427.7 L1023.5,426.6 L1022.2,425.6 L1020.9,428.9 L1019.6,425.1 L1018.3,426.8 L1017.0,424.9 L1015.7,425.5 L1014.4,428.0 L1013.1,429.6 L1011.8,425.3 L1010.5,429.7 L1009.2,425.6 L1007.9,424.7 L1006.6,429.8 L1005.3,428.3 L1004.0,427.9 L1002.7,428.7 L1001.4,424.6 L1000.1,427.4 L998.8,425.9 L997.5,427.1 L996.2,424.8 L994.9,428.3 L993.6,426.3 L992.3,428.5 L991.0,428.4 L989.7,424.9 L988.4,425.9 L987.1,428.7 L985.8,427.1 L984.5,426.8 L983.2,427.9 L981.9,426.5 L980.6,428.5 L979.3,424.8 L978.0,426.6 L976.7,425.3 L975.4,426.2 L974.1,425.1 L972.8,424.9 L971.5,423.8 L970.2,426.5 L968.9,425.7 L967.6,424.7 L966.3,423.9 L965.0,424.3 L963.7,428.1 L962.4,425.8 L961.1,427.4 L959.8,424.4 L958.5,426.2 L957.2,425.3 L955.9,425.4 L954.6,424.4 L953.3,425.3 L952.0,424.0 L950.7,427.5 L949.4,424.5 L948.1,424.0 L946.8,424.7 L945.5,427.2 L944.2,423.0 L942.9,425.3 L941.6,422.2 L940.3,424.1 L939.0,427.4 L937.7,425.2 L936.4,422.8 L935.1,425.5 L933.8,424.2 L932.5,427.2 L931.2,423.7 L929.9,422.3 L928.6,422.0 L927.3,426.3 L926.0,423.9 L924.7,423.9 L923.4,426.5 L922.1,424.8 L920.8,423.6 L919.5,421.6 L918.2,422.4 L916.9,422.1 L915.6,422.6 L914.3,421.5 L913.0,425.0 L911.7,424.8 L910.4,422.0 L909.1,425.1 L907.8,425.3 L906.5,423.3 L905.2,424.2 L903.9,421.9 L902.6,424.8 L901.3,423.5 L900.0,425.4 L898.7,423.7 L897.4,426.0 L896.1,424.5 L894.8,425.3 L893.5,425.1 L892.2,424.1 L890.9,424.9 L889.6,424.9 L888.3,424.1 L887.0,423.4 L885.7,423.5 L884.4,425.5 L883.1,424.0 L881.8,422.9 L880.5,424.0 L879.2,424.3 L877.9,423.9 L876.6,424.3 L875.3,424.7 L874.0,421.4 L872.7,421.8 L871.4,423.3 L870.1,425.2 L868.8,420.6 L867.5,421.3 L866.2,423.7 L864.9,422.1 L863.6,424.3 L862.3,422.0 L861.0,424.1 L859.7,421.8 L858.4,423.7 L857.1,424.6 L855.8,420.0 L854.5,422.0 L853.2,424.3 L851.9,421.5 L850.6,423.7 L849.3,420.4 L848.0,422.0 L846.7,419.3 L845.4,424.5 L844.1,419.8 L842.8,419.9 L841.5,420.6 L840.2,423.9 L838.9,423.8 L837.6,420.6 L836.3,423.9 L835.0,423.4 L833.7,422.7 L832.4,422.8 L831.1,420.5 L829.8,423.6 L828.5,422.6 L827.2,423.6 L825.9,418.6 L824.6,421.5 L823.3,422.6 L822.0,422.8 L820.7,418.3 L819.4,418.4 L818.1,420.7 L816.8,420.7 L815.5,419.7 L814.2,421.7 L812.9,421.2 L811.6,418.2 L810.3,418.7 L809.0,419.4 L807.7,423.0 L806.4,422.9 L805.1,421.4 L803.8,422.9 L802.5,422.3 L801.2,418.7 L799.9,422.3 L798.6,418.2 L797.3,418.3 L796.0,418.4 L794.7,422.5 L793.4,418.7 L792.1,420.7 L790.8,419.1 L789.5,419.8 L788.2,424.1 L786.9,424.6 L785.6,428.5 L784.3,430.1 L783.0,430.4Z" fill="url(#massg)" mask="url(#massm)"/>
<path d="M784.0,398.7 L785.3,391.9 L786.6,385.9 L787.9,393.4 L789.2,383.1 L790.5,375.2 L791.8,369.7 L793.1,368.7 L794.4,368.2 L795.7,374.0 L797.0,374.0 L798.3,372.6 L799.6,370.2 L800.9,374.8 L802.2,374.5 L803.5,376.9 L804.8,382.6 L806.1,372.0 L807.4,383.4 L808.7,373.0 L810.0,378.4 L811.3,382.6 L812.6,375.2 L813.9,372.0 L815.2,371.3 L816.5,379.6 L817.8,381.4 L819.1,372.1 L820.4,376.5 L821.7,369.9 L823.0,375.8 L824.3,371.6 L825.6,368.5 L826.9,371.9 L828.2,373.4 L829.5,380.6 L830.8,373.6 L832.1,377.5 L833.4,371.1 L834.7,372.7 L836.0,379.5 L837.3,371.5 L838.6,372.7 L839.9,376.2 L841.2,378.7 L842.5,372.3 L843.8,373.0 L845.1,377.2 L846.4,379.8 L847.7,387.1 L849.0,374.3 L850.3,380.1 L851.6,385.7 L852.9,389.4 L854.2,388.1 L855.5,389.2 L856.8,390.9 L858.1,391.7 L859.4,380.7 L860.7,384.7 L862.0,387.3 L863.3,385.6 L864.6,380.8 L865.9,385.5 L867.2,385.3 L868.5,389.2 L869.8,384.6 L871.1,382.1 L872.4,385.0 L873.7,388.7 L875.0,386.9 L876.3,383.2 L877.6,379.2 L878.9,388.2 L880.2,387.3 L881.5,380.5 L882.8,387.6 L884.1,377.1 L885.4,389.7 L886.7,390.0 L888.0,380.1 L889.3,384.8 L890.6,382.5 L891.9,389.4 L893.2,386.6 L894.5,389.1 L895.8,390.4 L897.1,384.2 L898.4,391.4 L899.7,384.2 L901.0,392.5 L902.3,394.4 L903.6,393.4 L904.9,387.7 L906.2,390.1 L907.5,395.6 L908.8,385.4 L910.1,388.8 L911.4,387.2 L912.7,389.9 L914.0,397.8 L915.3,390.8 L916.6,393.0 L917.9,401.1 L919.2,398.3 L920.5,399.3 L921.8,399.7 L923.1,399.0 L924.4,393.5 L925.7,398.9 L927.0,400.8 L928.3,389.6 L929.6,397.1 L930.9,393.8 L932.2,399.8 L933.5,388.2 L934.8,398.8 L936.1,390.9 L937.4,399.1 L938.7,395.2 L940.0,397.6 L941.3,396.0 L942.6,390.3 L943.9,390.9 L945.2,393.2 L946.5,396.2 L947.8,388.5 L949.1,392.0 L950.4,397.8 L951.7,390.4 L953.0,390.2 L954.3,389.7 L955.6,396.5 L956.9,400.8 L958.2,394.5 L959.5,400.8 L960.8,399.0 L962.1,405.8 L963.4,394.3 L964.7,398.7 L966.0,404.3 L967.3,406.6 L968.6,403.3 L969.9,408.3 L971.2,408.2 L972.5,405.7 L973.8,403.2 L975.1,408.4 L976.4,401.1 L977.7,403.6 L979.0,408.7 L980.3,410.6 L981.6,410.0 L982.9,399.9 L984.2,407.4 L985.5,405.6 L986.8,401.8 L988.1,401.3 L989.4,400.7 L990.7,404.4 L992.0,405.1 L993.3,397.8 L994.6,396.8 L995.9,400.9 L997.2,408.3 L998.5,408.7 L999.8,403.2 L1001.1,408.6 L1002.4,408.2 L1003.7,401.7 L1005.0,398.6 L1006.3,400.4 L1007.6,407.3 L1008.9,405.2 L1010.2,398.8 L1011.5,409.8 L1012.8,398.3 L1014.1,403.5 L1015.4,407.0 L1016.7,408.7 L1018.0,411.0 L1019.3,408.6 L1020.6,412.7 L1021.9,413.3 L1023.2,410.5 L1024.5,411.2 L1025.8,410.4 L1027.1,407.6 L1028.4,409.2 L1029.7,408.3 L1031.0,412.9 L1032.3,405.0 L1033.6,404.2 L1034.9,413.5 L1036.2,411.6 L1037.5,414.8 L1038.8,403.8 L1040.1,411.9 L1041.4,405.9 L1042.7,411.4 L1044.0,408.8 L1045.3,400.4 L1046.6,404.5 L1047.9,405.2 L1049.2,399.0 L1050.5,399.9 L1051.8,405.0 L1051.8,429.9 L1050.5,427.8 L1049.2,429.9 L1047.9,429.6 L1046.6,429.3 L1045.3,429.2 L1044.0,428.4 L1042.7,428.8 L1041.4,429.9 L1040.1,426.4 L1038.8,425.6 L1037.5,426.3 L1036.2,426.5 L1034.9,426.3 L1033.6,428.8 L1032.3,428.9 L1031.0,425.9 L1029.7,427.6 L1028.4,427.2 L1027.1,427.7 L1025.8,428.3 L1024.5,426.5 L1023.2,427.2 L1021.9,426.9 L1020.6,426.1 L1019.3,426.0 L1018.0,428.1 L1016.7,428.2 L1015.4,426.0 L1014.1,426.3 L1012.8,425.6 L1011.5,425.9 L1010.2,427.7 L1008.9,424.6 L1007.6,426.1 L1006.3,426.0 L1005.0,425.9 L1003.7,425.0 L1002.4,427.1 L1001.1,425.8 L999.8,427.1 L998.5,424.3 L997.2,424.5 L995.9,426.8 L994.6,428.3 L993.3,426.5 L992.0,424.2 L990.7,424.5 L989.4,426.9 L988.1,428.0 L986.8,423.9 L985.5,424.2 L984.2,427.3 L982.9,425.9 L981.6,424.8 L980.3,425.9 L979.0,425.7 L977.7,424.0 L976.4,426.4 L975.1,425.7 L973.8,424.9 L972.5,427.6 L971.2,427.3 L969.9,425.7 L968.6,425.0 L967.3,425.7 L966.0,423.3 L964.7,423.7 L963.4,424.4 L962.1,427.1 L960.8,427.0 L959.5,424.9 L958.2,426.7 L956.9,425.2 L955.6,426.0 L954.3,422.8 L953.0,425.9 L951.7,423.8 L950.4,422.9 L949.1,424.4 L947.8,423.5 L946.5,423.9 L945.2,422.8 L943.9,423.7 L942.6,423.6 L941.3,424.9 L940.0,425.8 L938.7,423.7 L937.4,425.9 L936.1,422.2 L934.8,424.9 L933.5,424.6 L932.2,426.0 L930.9,425.7 L929.6,422.2 L928.3,424.5 L927.0,425.2 L925.7,426.1 L924.4,424.6 L923.1,425.1 L921.8,423.2 L920.5,424.2 L919.2,422.6 L917.9,425.0 L916.6,423.0 L915.3,425.3 L914.0,423.5 L912.7,422.5 L911.4,424.9 L910.1,423.0 L908.8,424.4 L907.5,422.3 L906.2,423.4 L904.9,422.9 L903.6,423.6 L902.3,424.2 L901.0,423.9 L899.7,423.5 L898.4,422.2 L897.1,425.0 L895.8,421.5 L894.5,421.9 L893.2,424.9 L891.9,422.9 L890.6,424.7 L889.3,424.8 L888.0,421.7 L886.7,424.8 L885.4,423.7 L884.1,423.0 L882.8,423.1 L881.5,422.5 L880.2,421.0 L878.9,422.4 L877.6,424.4 L876.3,422.0 L875.0,420.1 L873.7,423.1 L872.4,420.4 L871.1,420.7 L869.8,421.4 L868.5,421.9 L867.2,423.0 L865.9,420.2 L864.6,422.2 L863.3,420.3 L862.0,421.8 L860.7,419.9 L859.4,423.8 L858.1,422.0 L856.8,422.8 L855.5,419.5 L854.2,420.2 L852.9,419.2 L851.6,420.8 L850.3,421.7 L849.0,419.7 L847.7,419.3 L846.4,422.2 L845.1,422.6 L843.8,421.3 L842.5,419.3 L841.2,420.1 L839.9,420.7 L838.6,420.6 L837.3,420.7 L836.0,420.2 L834.7,418.7 L833.4,422.0 L832.1,422.9 L830.8,419.2 L829.5,419.2 L828.2,422.2 L826.9,420.3 L825.6,419.9 L824.3,419.4 L823.0,421.4 L821.7,422.3 L820.4,420.4 L819.1,418.8 L817.8,420.3 L816.5,422.3 L815.2,421.1 L813.9,421.4 L812.6,421.8 L811.3,419.1 L810.0,421.1 L808.7,422.0 L807.4,419.9 L806.1,418.0 L804.8,420.2 L803.5,420.5 L802.2,420.7 L800.9,420.5 L799.6,420.3 L798.3,422.0 L797.0,418.0 L795.7,421.6 L794.4,418.7 L793.1,418.6 L791.8,421.2 L790.5,420.3 L789.2,421.5 L787.9,421.9 L786.6,423.5 L785.3,426.9 L784.0,429.5Z" fill="#000" opacity="0.82"/>
<path d="M783.7,392.5V401.7 M786.9,376.0V388.9 M788.0,381.7V396.4 M789.4,376.7V386.1 M790.2,357.2V378.2 M791.8,368.8V372.7 M794.3,348.3V371.2 M795.5,373.2V377.0 M796.9,356.0V377.0 M798.1,369.0V375.6 M799.4,348.8V373.2 M803.5,370.5V379.9 M805.1,375.0V385.6 M805.8,358.9V375.0 M807.2,358.3V386.4 M808.7,372.4V376.0 M810.0,377.8V381.4 M812.7,368.3V378.2 M813.6,359.5V375.0 M814.8,343.3V374.3 M816.2,366.1V382.6 M818.2,351.6V384.4 M819.5,354.9V375.1 M820.0,362.9V379.5 M821.8,353.9V372.9 M824.6,366.0V374.6 M825.5,360.1V371.5 M828.4,373.3V376.4 M829.3,372.7V383.6 M830.5,368.7V376.6 M832.3,376.7V380.5 M833.6,351.0V374.1 M834.5,355.4V375.7 M835.8,371.9V382.5 M838.9,366.5V375.7 M839.6,360.5V379.2 M842.9,372.0V375.3 M844.2,345.5V376.0 M844.7,377.1V380.2 M846.5,373.2V382.8 M849.0,373.0V377.3 M850.3,379.5V383.1 M851.6,385.3V388.7 M852.8,369.9V392.4 M855.7,371.6V392.2 M857.7,391.0V394.7 M859.5,378.9V383.7 M860.5,364.6V387.7 M862.0,385.4V390.3 M863.0,379.0V388.6 M864.6,353.4V383.8 M867.5,355.7V388.3 M868.5,378.5V392.2 M871.1,367.3V385.1 M872.6,367.1V388.0 M873.7,371.8V391.7 M874.6,372.3V389.9 M876.6,377.0V386.2 M877.8,357.2V382.2 M878.5,364.0V391.2 M880.3,373.6V390.3 M881.3,380.1V383.5 M882.5,385.6V390.6 M884.1,368.2V380.1 M885.3,369.7V392.7 M888.1,352.3V383.1 M893.0,381.0V389.6 M895.5,387.7V393.4 M897.5,357.1V387.2 M898.4,372.9V394.4 M899.8,378.1V387.2 M901.0,389.1V395.5 M902.7,386.4V397.4 M903.8,392.6V396.4 M905.2,384.4V390.7 M905.8,387.4V393.1 M907.7,391.2V398.6 M917.7,396.3V404.1 M919.1,388.6V401.3 M921.6,397.2V402.7 M923.2,385.4V402.0 M924.3,391.5V396.5 M925.7,397.1V401.9 M927.1,383.4V403.8 M928.2,375.5V392.6 M929.8,383.7V400.1 M932.2,397.3V402.8 M933.5,388.1V391.2 M934.7,374.9V401.8 M937.6,398.4V402.1 M938.4,384.3V398.2 M939.6,371.3V400.6 M941.0,394.4V399.0 M945.5,386.4V396.2 M946.7,395.0V399.2 M947.7,384.8V391.5 M949.2,390.0V395.0 M951.8,390.4V393.4 M953.3,380.9V393.2 M954.5,364.0V392.7 M955.6,395.2V399.5 M956.8,397.9V403.8 M958.3,388.9V397.5 M959.1,374.2V403.8 M960.9,378.9V402.0 M961.9,404.5V408.8 M963.2,368.8V397.3 M964.6,382.3V401.7 M969.5,398.5V411.3 M972.6,396.9V408.7 M975.5,382.2V411.4 M976.7,395.4V404.1 M980.6,399.7V413.6 M982.0,394.2V413.0 M983.2,399.6V402.9 M984.5,405.1V410.4 M985.3,404.4V408.6 M987.0,394.8V404.8 M987.7,373.0V404.3 M989.5,399.4V403.7 M990.7,388.7V407.4 M992.2,382.2V408.1 M995.0,390.5V399.8 M995.9,396.8V403.9 M997.3,385.3V411.3 M998.5,380.4V411.7 M1000.2,389.5V406.2 M1000.9,408.6V411.6 M1002.2,397.3V411.2 M1005.0,398.6V401.6 M1006.1,395.8V403.4 M1007.9,392.7V410.3 M1008.8,390.5V408.2 M1011.7,409.7V412.8 M1012.4,398.1V401.3 M1015.4,401.2V410.0 M1016.9,408.2V411.7 M1017.6,383.7V414.0 M1019.6,398.5V411.6 M1020.9,397.2V415.7 M1022.2,402.9V416.3 M1023.1,381.7V413.5 M1024.7,407.1V414.2 M1025.5,391.6V413.4 M1029.5,405.6V411.3 M1031.4,412.5V415.9 M1032.0,377.3V408.0 M1033.7,383.3V407.2 M1034.8,413.4V416.5 M1036.6,384.2V414.6 M1039.9,411.8V414.9 M1041.5,404.9V408.9 M1042.6,397.8V414.4 M1043.7,380.2V411.8 M1046.3,388.9V407.5 M1047.7,380.3V408.2 M1049.2,383.8V402.0 M1051.9,400.3V408.0" fill="none" stroke="#000" stroke-width="0.8" opacity="0.8"/>
<path d="M752.0,127.4 L753.7,123.8 L755.4,118.0 L757.1,123.6 L758.8,122.5 L760.5,121.3 L762.2,126.7 L763.9,124.4 L765.6,120.2 L767.3,127.5 L769.0,127.4 L770.7,127.9 L772.4,118.8 L774.1,127.2 L775.8,118.6 L777.5,125.0 L779.2,128.7 L780.9,119.5 L782.6,121.3 L784.3,127.8 L786.0,124.5 L787.7,126.3 L789.4,116.8 L791.1,123.5 L792.8,123.2 L794.5,126.6 L796.2,117.3 L797.9,119.5 L799.6,121.4 L801.3,118.0 L803.0,123.7 L804.7,124.5 L806.4,119.0 L808.1,122.4 L809.8,119.3 L811.5,116.2 L813.2,115.2 L814.9,123.4 L816.6,126.1 L818.3,126.0 L820.0,122.3 L821.7,119.5 L823.4,123.7 L825.1,119.7 L826.8,118.9 L828.5,123.0 L830.2,119.9 L831.9,116.1 L833.6,115.6 L835.3,118.5 L837.0,119.6 L838.7,117.3 L840.4,124.9 L842.1,117.6 L843.8,120.3 L845.5,119.2 L847.2,124.4 L848.9,122.8 L850.6,126.1 L852.3,122.4 L854.0,120.1 L855.7,124.9 L857.4,119.1 L859.1,121.1 L860.8,116.3 L862.5,117.4 L864.2,120.6 L865.9,126.7 L867.6,118.9 L869.3,124.1 L871.0,126.3 L872.7,123.0 L874.4,118.5 L876.1,119.2 L877.8,124.9 L879.5,125.3 L881.2,119.1 L882.9,123.6 L884.6,125.7 L886.3,119.8 L888.0,119.4 L889.7,129.4 L891.4,129.3 L893.1,127.0 L894.8,120.4 L896.5,129.8 L898.2,128.3 L899.9,122.3 L901.6,119.8 L903.3,130.8 L905.0,130.3 L906.7,129.3 L908.4,130.6 L910.1,130.1 L911.8,120.0 L913.5,126.6 L915.2,119.3 L916.9,123.3 L918.6,130.7 L920.3,130.1 L922.0,122.8 L923.7,127.3 L925.4,125.0 L927.1,124.3 L928.8,119.1 L930.5,118.5 L932.2,119.8 L933.9,119.7 L935.6,122.5 L937.3,120.3 L939.0,128.5 L940.7,119.4 L942.4,120.2 L944.1,126.6 L945.8,119.3 L947.5,121.5 L949.2,121.6 L950.9,123.3 L952.6,125.2 L954.3,126.2 L956.0,124.4 L957.7,118.3 L959.4,120.9 L961.1,116.7 L962.8,117.5 L964.5,117.3 L966.2,116.4 L967.9,125.5 L969.6,122.8 L971.3,119.5 L973.0,124.7 L974.7,118.0 L976.4,117.5 L978.1,127.9 L979.8,127.1 L981.5,124.3 L983.2,124.0 L984.9,121.6 L986.6,126.7 L988.3,125.9 L990.0,123.7 L991.7,126.2 L993.4,128.8 L995.1,125.2 L996.8,118.2 L998.5,117.6 L1000.2,118.8 L1001.9,117.9 L1003.6,129.1 L1005.3,127.9 L1007.0,119.7 L1008.7,119.0 L1010.4,128.3 L1012.1,125.6 L1013.8,120.3 L1015.5,121.1 L1017.2,123.7 L1018.9,126.0 L1020.6,125.2 L1022.3,121.2 L1024.0,122.0 L1025.7,129.5 L1027.4,131.4 L1029.1,126.3 L1030.8,127.4 L1032.5,130.7 L1034.2,128.8 L1035.9,126.2 L1037.6,131.5 L1039.3,131.8 L1041.0,131.1 L1042.7,123.9 L1044.4,125.4 L1046.1,125.3 L1047.8,124.7 L1049.5,128.5 L1051.2,132.1 L1051.2,156.3 L1049.5,158.7 L1047.8,156.3 L1046.1,156.0 L1044.4,158.9 L1042.7,156.3 L1041.0,157.0 L1039.3,158.8 L1037.6,156.3 L1035.9,158.7 L1034.2,158.5 L1032.5,157.5 L1030.8,157.3 L1029.1,156.0 L1027.4,158.4 L1025.7,157.5 L1024.0,157.0 L1022.3,158.5 L1020.6,156.3 L1018.9,157.5 L1017.2,157.4 L1015.5,158.7 L1013.8,156.7 L1012.1,156.1 L1010.4,155.4 L1008.7,155.1 L1007.0,155.1 L1005.3,155.2 L1003.6,156.5 L1001.9,158.2 L1000.2,158.2 L998.5,156.2 L996.8,156.9 L995.1,157.5 L993.4,157.2 L991.7,157.3 L990.0,155.6 L988.3,155.4 L986.6,157.3 L984.9,155.3 L983.2,155.5 L981.5,157.0 L979.8,157.1 L978.1,154.6 L976.4,154.8 L974.7,156.6 L973.0,157.3 L971.3,155.9 L969.6,157.4 L967.9,155.0 L966.2,156.0 L964.5,155.4 L962.8,156.5 L961.1,156.7 L959.4,154.2 L957.7,156.1 L956.0,157.3 L954.3,155.2 L952.6,156.1 L950.9,156.1 L949.2,157.2 L947.5,155.2 L945.8,154.8 L944.1,155.6 L942.4,155.6 L940.7,154.6 L939.0,155.0 L937.3,155.4 L935.6,154.2 L933.9,155.4 L932.2,154.3 L930.5,155.1 L928.8,155.1 L927.1,153.5 L925.4,154.8 L923.7,153.6 L922.0,153.4 L920.3,155.5 L918.6,155.7 L916.9,153.2 L915.2,153.6 L913.5,154.8 L911.8,155.7 L910.1,153.0 L908.4,154.3 L906.7,153.7 L905.0,153.0 L903.3,153.7 L901.6,155.4 L899.9,155.1 L898.2,154.1 L896.5,154.1 L894.8,155.8 L893.1,155.2 L891.4,154.0 L889.7,155.5 L888.0,154.5 L886.3,155.2 L884.6,154.7 L882.9,155.4 L881.2,154.4 L879.5,152.5 L877.8,152.6 L876.1,154.3 L874.4,153.3 L872.7,153.6 L871.0,154.8 L869.3,153.4 L867.6,155.2 L865.9,152.0 L864.2,155.1 L862.5,154.3 L860.8,154.4 L859.1,151.9 L857.4,151.7 L855.7,154.9 L854.0,153.3 L852.3,152.6 L850.6,152.8 L848.9,154.8 L847.2,152.5 L845.5,152.4 L843.8,151.8 L842.1,152.9 L840.4,153.4 L838.7,152.6 L837.0,154.4 L835.3,152.0 L833.6,153.1 L831.9,151.1 L830.2,153.8 L828.5,151.9 L826.8,151.2 L825.1,153.4 L823.4,152.7 L821.7,153.7 L820.0,153.9 L818.3,153.9 L816.6,151.6 L814.9,152.1 L813.2,152.1 L811.5,154.1 L809.8,151.9 L808.1,151.6 L806.4,153.7 L804.7,150.6 L803.0,150.5 L801.3,153.5 L799.6,151.0 L797.9,151.2 L796.2,152.8 L794.5,152.3 L792.8,150.8 L791.1,151.6 L789.4,151.8 L787.7,153.9 L786.0,152.9 L784.3,152.3 L782.6,153.8 L780.9,152.8 L779.2,152.6 L777.5,151.5 L775.8,151.2 L774.1,152.1 L772.4,153.3 L770.7,151.7 L769.0,152.9 L767.3,151.4 L765.6,152.4 L763.9,152.9 L762.2,151.9 L760.5,154.1 L758.8,154.8 L757.1,155.6 L755.4,156.1 L753.7,155.6 L752.0,158.4Z" fill="url(#bandg)"/>
<path d="M751.00,158.37 L751.51,157.63 L751.81,152.98 L752.19,151.86 L752.50,146.63 L752.89,146.87 L753.28,143.73 L753.58,153.86 L753.96,150.71 L754.41,148.18 L754.71,154.39 L755.13,152.30 L755.56,156.78 L755.93,153.43 L756.29,150.43 L756.73,146.35 L757.03,148.59 L757.49,150.12 L757.87,150.70 L758.20,143.58 L758.55,152.96 L758.88,142.27 L759.18,140.99 L759.53,148.83 L760.01,144.96 L760.38,144.14 L760.73,151.30 L761.14,143.31 L761.45,151.03 L761.90,151.48 L762.23,147.18 L762.73,147.89 L763.24,141.51 L763.76,139.84 L764.14,139.35 L764.61,149.31 L765.12,151.07 L765.63,147.08 L766.15,150.24 L766.51,153.62 L766.88,141.90 L767.18,145.99 L767.51,153.00 L768.02,142.24 L768.32,146.93 L768.64,147.15 L769.12,142.80 L769.50,152.51 L769.88,144.14 L770.38,151.21 L770.87,149.32 L771.25,149.40 L771.73,148.59 L772.07,143.43 L772.45,150.57 L772.86,147.25 L773.34,140.63 L773.77,143.99 L774.18,151.53 L774.52,153.27 L774.82,147.43 L775.23,142.53 L775.65,146.06 L776.04,149.78 L776.32,144.66 L776.79,141.13 L777.27,142.05 L777.72,141.60 L778.10,145.34 L778.40,149.49 L778.80,149.34 L779.21,147.34 L779.62,143.47 L780.11,140.30 L780.60,151.95 L781.00,150.65 L781.44,148.08 L781.79,143.79 L782.16,143.53 L782.67,144.12 L783.04,145.29 L783.52,146.17 L783.93,142.83 L784.28,140.34 L784.61,142.96 L785.09,146.54 L785.40,145.94 L785.71,147.49 L786.09,151.87 L786.44,151.76 L786.78,153.74 L787.21,139.64 L787.68,143.13 L788.05,141.20 L788.53,140.36 L788.99,144.94 L789.43,143.40 L789.73,152.73 L790.17,141.55 L790.68,152.68 L791.00,139.29 L791.43,141.09 L791.89,146.03 L792.34,147.55 L792.80,151.32 L793.23,147.87 L793.58,141.01 L793.89,151.85 L794.22,145.40 L794.57,148.29 L794.98,151.89 L795.36,144.43 L795.80,150.17 L796.30,143.68 L796.80,153.72 L797.31,140.94 L797.68,150.61 L798.16,139.59 L798.54,149.86 L799.00,147.03 L799.33,145.10 L799.62,143.74 L800.01,151.34 L800.43,145.22 L800.77,143.73 L801.21,145.68 L801.53,151.33 L801.95,153.51 L802.36,148.35 L802.74,148.12 L803.24,153.72 L803.68,145.45 L803.97,151.60 L804.35,144.74 L804.64,139.51 L805.01,153.62 L805.47,149.63 L805.91,143.09 L806.23,148.04 L806.53,147.82 L806.93,147.14 L807.24,140.01 L807.63,141.18 L808.07,143.64 L808.50,150.26 L808.92,146.99 L809.25,144.24 L809.76,143.07 L810.11,146.45 L810.52,150.92 L810.87,153.51 L811.16,150.93 L811.58,152.60 L811.89,149.43 L812.40,149.11 L812.71,152.92 L813.22,140.78 L813.70,140.32 L814.00,151.07 L814.45,153.51 L814.88,146.83 L815.23,147.76 L815.75,148.88 L816.24,142.15 L816.69,150.18 L816.99,151.51 L817.31,142.47 L817.61,149.16 L817.92,153.86 L818.20,151.38 L818.66,147.78 L819.08,151.22 L819.51,141.35 L819.98,144.58 L820.40,146.97 L820.90,145.51 L821.39,140.53 L821.74,149.37 L822.17,151.81 L822.50,151.40 L822.97,141.49 L823.29,148.10 L823.80,148.57 L824.18,146.97 L824.66,147.22 L825.07,148.29 L825.57,151.41 L826.05,143.41 L826.47,151.77 L826.93,153.71 L827.43,141.36 L827.83,144.82 L828.16,146.97 L828.67,151.00 L828.98,143.20 L829.35,152.77 L829.74,141.89 L830.15,143.22 L830.44,148.40 L830.96,151.16 L831.41,141.83 L831.83,149.10 L832.29,146.26 L832.58,153.48 L832.93,150.65 L833.32,151.27 L833.68,140.98 L834.06,146.80 L834.53,145.66 L834.97,145.26 L835.43,142.24 L835.92,153.81 L836.20,152.52 L836.67,150.05 L836.98,150.66 L837.44,149.07 L837.95,153.89 L838.39,153.57 L838.70,144.18 L839.11,147.55 L839.62,149.26 L840.04,149.05 L840.55,145.75 L841.01,148.76 L841.39,144.85 L841.70,139.94 L842.06,144.28 L842.36,147.07 L842.73,153.69 L843.19,149.78 L843.68,143.94 L843.99,148.97 L844.32,154.61 L844.70,153.13 L845.04,141.25 L845.47,150.25 L845.81,153.77 L846.33,150.19 L846.84,154.64 L847.16,150.85 L847.62,150.89 L847.98,148.07 L848.40,152.68 L848.69,145.56 L849.05,151.81 L849.35,140.87 L849.66,141.70 L850.05,152.95 L850.41,141.49 L850.85,144.97 L851.27,151.21 L851.66,151.00 L852.09,152.79 L852.55,153.54 L853.01,144.26 L853.41,151.62 L853.88,151.01 L854.36,152.43 L854.77,149.68 L855.06,147.24 L855.52,153.79 L856.00,146.69 L856.34,153.39 L856.77,142.99 L857.06,153.30 L857.48,141.78 L858.00,148.95 L858.46,152.25 L858.80,148.00 L859.12,149.36 L859.51,152.03 L859.82,143.27 L860.19,140.22 L860.57,154.64 L861.05,142.92 L861.53,143.60 L861.87,149.80 L862.22,143.26 L862.52,142.90 L862.85,153.93 L863.14,148.37 L863.47,151.08 L863.75,145.85 L864.21,140.68 L864.59,145.19 L864.98,149.74 L865.28,153.30 L865.63,151.90 L865.94,141.74 L866.26,141.59 L866.60,142.44 L866.90,153.13 L867.31,147.81 L867.71,152.53 L868.00,141.06 L868.44,140.49 L868.85,149.77 L869.33,140.42 L869.71,145.11 L870.12,140.92 L870.59,154.79 L871.00,150.44 L871.48,153.11 L871.95,147.77 L872.26,152.39 L872.74,151.00 L873.09,155.12 L873.52,145.19 L873.99,143.87 L874.33,154.10 L874.62,153.57 L875.00,149.12 L875.44,154.08 L875.78,141.95 L876.18,143.92 L876.56,142.22 L876.86,149.09 L877.16,144.58 L877.53,142.02 L878.00,154.13 L878.29,152.71 L878.61,151.56 L878.91,151.81 L879.41,144.52 L879.73,145.75 L880.22,152.36 L880.53,154.19 L880.99,155.03 L881.50,143.06 L881.96,141.06 L882.29,148.75 L882.62,143.98 L882.99,147.61 L883.49,149.45 L883.90,151.53 L884.23,152.80 L884.69,152.97 L885.08,148.89 L885.38,147.65 L885.81,155.03 L886.30,145.88 L886.77,153.65 L887.28,151.02 L887.64,153.93 L887.92,149.34 L888.31,154.08 L888.74,143.86 L889.06,141.40 L889.52,152.62 L889.89,144.23 L890.30,143.82 L890.71,146.05 L891.07,151.27 L891.41,145.88 L891.82,155.05 L892.14,145.53 L892.48,145.66 L892.88,153.25 L893.20,151.73 L893.59,149.54 L893.99,150.01 L894.31,150.22 L894.69,152.75 L895.11,147.12 L895.63,143.69 L895.91,142.86 L896.36,142.40 L896.81,142.36 L897.16,150.38 L897.45,147.54 L897.97,151.98 L898.34,154.70 L898.76,153.24 L899.12,146.81 L899.57,152.51 L900.01,143.36 L900.40,145.89 L900.73,142.87 L901.19,143.26 L901.56,141.43 L902.01,150.53 L902.30,155.41 L902.82,152.42 L903.30,151.74 L903.58,145.29 L903.92,141.52 L904.35,150.08 L904.72,152.44 L905.05,145.44 L905.36,144.76 L905.85,148.59 L906.30,154.27 L906.74,146.68 L907.26,142.48 L907.63,154.56 L908.08,146.60 L908.56,152.67 L909.01,145.31 L909.45,151.16 L909.94,149.03 L910.44,152.15 L910.77,150.03 L911.10,150.62 L911.45,156.34 L911.82,153.23 L912.30,146.99 L912.72,144.89 L913.09,148.00 L913.54,149.04 L913.86,151.16 L914.26,149.31 L914.65,154.45 L915.09,151.38 L915.49,147.49 L915.87,151.65 L916.25,142.52 L916.59,142.29 L916.88,146.88 L917.25,148.35 L917.58,145.01 L917.96,145.88 L918.31,148.90 L918.77,142.45 L919.05,148.26 L919.55,151.04 L919.92,156.16 L920.36,153.96 L920.84,142.17 L921.17,153.46 L921.54,155.11 L921.84,155.68 L922.27,147.79 L922.75,149.66 L923.14,144.40 L923.60,143.84 L923.96,142.98 L924.24,146.12 L924.53,148.71 L924.89,141.95 L925.29,145.98 L925.62,149.81 L925.98,142.52 L926.48,156.29 L926.82,151.61 L927.24,145.46 L927.65,145.72 L928.00,148.55 L928.29,145.21 L928.80,153.32 L929.16,156.73 L929.52,154.55 L929.88,155.20 L930.27,154.88 L930.58,147.73 L930.94,153.54 L931.43,143.86 L931.81,144.43 L932.11,143.80 L932.40,146.38 L932.79,155.43 L933.22,153.28 L933.58,146.70 L933.96,145.38 L934.25,146.02 L934.75,142.67 L935.15,145.39 L935.61,142.50 L936.02,152.81 L936.41,144.10 L936.90,142.24 L937.40,154.24 L937.89,154.96 L938.26,151.38 L938.66,150.77 L939.03,154.82 L939.38,150.43 L939.68,142.90 L940.17,147.38 L940.54,156.82 L940.99,144.38 L941.40,149.30 L941.83,146.16 L942.17,156.25 L942.60,150.35 L943.04,153.38 L943.37,153.85 L943.76,144.37 L944.12,156.98 L944.60,155.68 L945.00,151.68 L945.38,153.17 L945.79,147.52 L946.30,149.68 L946.59,154.39 L946.89,146.38 L947.28,145.37 L947.67,148.80 L948.08,151.99 L948.52,142.98 L948.86,143.98 L949.22,149.09 L949.70,142.46 L950.18,144.59 L950.63,155.00 L951.15,150.91 L951.44,146.60 L951.83,152.41 L952.34,155.46 L952.64,144.24 L953.07,145.43 L953.49,149.97 L953.90,147.58 L954.40,146.76 L954.77,144.79 L955.12,144.36 L955.55,142.69 L955.89,154.51 L956.37,147.50 L956.83,154.56 L957.27,151.74 L957.73,147.22 L958.09,146.28 L958.42,150.15 L958.83,145.32 L959.13,142.83 L959.46,144.81 L959.89,154.66 L960.30,152.15 L960.68,143.62 L961.14,154.00 L961.46,147.17 L961.90,153.11 L962.22,148.34 L962.59,150.73 L963.07,144.75 L963.44,156.40 L963.76,145.22 L964.23,151.94 L964.62,149.47 L964.92,152.21 L965.26,149.22 L965.77,150.05 L966.14,147.91 L966.49,151.90 L966.94,144.37 L967.22,148.57 L967.54,151.64 L967.86,150.23 L968.25,157.27 L968.61,146.61 L968.97,152.58 L969.31,146.32 L969.76,150.65 L970.06,155.41 L970.37,147.17 L970.78,149.58 L971.24,144.96 L971.68,145.44 L971.99,153.24 L972.45,144.39 L972.74,145.79 L973.16,143.26 L973.67,143.07 L974.13,154.88 L974.50,155.04 L974.82,154.45 L975.24,155.60 L975.71,154.65 L976.20,146.67 L976.48,145.43 L976.94,150.64 L977.34,149.98 L977.63,156.78 L978.04,151.67 L978.44,156.18 L978.84,151.00 L979.31,145.15 L979.79,152.30 L980.15,145.17 L980.55,147.36 L980.83,155.33 L981.29,156.47 L981.75,149.07 L982.25,146.60 L982.59,150.03 L983.04,144.50 L983.33,156.99 L983.61,154.16 L984.01,157.43 L984.49,150.01 L984.90,153.51 L985.25,143.35 L985.76,151.23 L986.24,151.16 L986.53,144.63 L986.87,157.58 L987.35,147.50 L987.73,157.64 L988.14,147.88 L988.54,145.67 L988.96,144.22 L989.36,144.82 L989.65,154.49 L990.05,145.57 L990.43,156.50 L990.80,147.28 L991.19,156.63 L991.62,150.31 L992.05,148.51 L992.55,147.31 L992.89,150.55 L993.36,154.83 L993.80,143.29 L994.27,156.94 L994.58,146.22 L994.91,145.24 L995.23,150.82 L995.67,150.27 L996.08,153.62 L996.56,157.91 L997.01,150.79 L997.30,147.75 L997.63,157.74 L998.09,145.28 L998.45,149.69 L998.88,157.99 L999.24,153.86 L999.62,156.95 L1000.02,154.90 L1000.44,154.21 L1000.90,149.28 L1001.29,152.74 L1001.74,152.33 L1002.10,150.78 L1002.51,149.18 L1002.86,144.44 L1003.16,145.81 L1003.46,149.07 L1003.97,149.50 L1004.47,153.83 L1004.97,153.29 L1005.48,155.60 L1005.78,143.57 L1006.29,148.66 L1006.73,157.86 L1007.25,151.44 L1007.61,152.43 L1008.05,144.99 L1008.53,143.65 L1008.90,156.26 L1009.39,156.54 L1009.88,150.45 L1010.26,150.81 L1010.67,146.90 L1011.04,150.84 L1011.32,152.24 L1011.62,152.06 L1011.91,146.45 L1012.30,155.08 L1012.82,155.18 L1013.29,150.24 L1013.70,151.92 L1014.21,156.45 L1014.49,154.08 L1014.95,157.11 L1015.45,149.70 L1015.83,147.29 L1016.15,156.94 L1016.61,156.23 L1016.97,155.24 L1017.25,151.27 L1017.61,148.31 L1018.13,143.86 L1018.64,153.85 L1019.15,149.92 L1019.65,152.12 L1020.07,153.27 L1020.41,152.95 L1020.73,144.36 L1021.19,144.28 L1021.69,147.30 L1022.19,148.52 L1022.64,149.00 L1023.08,146.64 L1023.42,147.94 L1023.93,157.47 L1024.31,158.32 L1024.81,146.10 L1025.24,147.16 L1025.60,148.56 L1025.94,152.79 L1026.27,148.98 L1026.58,148.02 L1027.05,148.33 L1027.56,145.69 L1027.85,147.77 L1028.25,148.70 L1028.63,155.28 L1029.07,147.69 L1029.56,149.49 L1029.97,149.49 L1030.44,152.77 L1030.84,146.70 L1031.13,148.03 L1031.62,158.01 L1032.00,145.22 L1032.32,158.17 L1032.63,150.39 L1032.93,151.60 L1033.29,158.92 L1033.81,151.72 L1034.29,154.29 L1034.68,155.75 L1034.97,146.72 L1035.45,151.98 L1035.89,153.30 L1036.37,148.01 L1036.70,148.58 L1037.19,151.81 L1037.65,155.84 L1038.01,155.33 L1038.48,151.93 L1038.89,151.35 L1039.27,147.46 L1039.69,157.16 L1040.03,150.58 L1040.40,148.77 L1040.91,155.26 L1041.21,152.09 L1041.57,149.83 L1041.88,153.40 L1042.24,154.53 L1042.55,152.14 L1042.94,153.97 L1043.23,156.21 L1043.64,148.17 L1043.96,156.61 L1044.24,153.21 L1044.60,149.57 L1045.11,146.51 L1045.43,144.61 L1045.80,145.59 L1046.09,154.71 L1046.60,146.99 L1047.02,158.93 L1047.34,146.81 L1047.75,145.27 L1048.16,157.01 L1048.66,146.21 L1049.07,152.06 L1049.46,147.26 L1049.88,146.78 L1050.33,145.84 L1050.61,157.33 L1050.97,150.63" fill="none" stroke="#000" stroke-width="0.5" opacity="0.6"/>
<text x="48" y="501.4" font-size="21.8" textLength="270.6" lengthAdjust="spacingAndGlyphs"><tspan class="i">elav-GAL4&gt;UAS</tspan><tspan>-Dm</tspan><tspan class="i">cry;</tspan></text>
<text x="48.0" y="529.5" font-size="21.8" textLength="191.8" lengthAdjust="spacingAndGlyphs"><tspan>Dm</tspan><tspan class="i">cry</tspan><tspan class="i" font-size="15.2" dy="-7.9">02</tspan><tspan dy="7.9">/Dm</tspan><tspan class="i">cry</tspan><tspan class="i" font-size="15.2" dy="-7.9">03</tspan></text>
<use href="#neuron" transform="translate(57.8,570) scale(1.06)"/>
<line x1="69.40" y1="611.40" x2="69.40" y2="972.50" stroke="#000" stroke-width="2.2" />
<line x1="61.90" y1="612.50" x2="69.40" y2="612.50" stroke="#000" stroke-width="2" />
<text x="55.8" y="619.4" font-size="25" text-anchor="end" fill="#000" >5</text>
<line x1="65.20" y1="648.39" x2="69.40" y2="648.39" stroke="#000" stroke-width="1.8" />
<line x1="61.90" y1="684.28" x2="69.40" y2="684.28" stroke="#000" stroke-width="2" />
<text x="55.8" y="691.2" font-size="25" text-anchor="end" fill="#000" >4</text>
<line x1="65.20" y1="720.17" x2="69.40" y2="720.17" stroke="#000" stroke-width="1.8" />
<line x1="61.90" y1="756.06" x2="69.40" y2="756.06" stroke="#000" stroke-width="2" />
<text x="55.8" y="763.0" font-size="25" text-anchor="end" fill="#000" >3</text>
<line x1="65.20" y1="791.95" x2="69.40" y2="791.95" stroke="#000" stroke-width="1.8" />
<line x1="61.90" y1="827.84" x2="69.40" y2="827.84" stroke="#000" stroke-width="2" />
<text x="55.8" y="834.7" font-size="25" text-anchor="end" fill="#000" >2</text>
<line x1="65.20" y1="863.73" x2="69.40" y2="863.73" stroke="#000" stroke-width="1.8" />
<line x1="61.90" y1="899.62" x2="69.40" y2="899.62" stroke="#000" stroke-width="2" />
<text x="55.8" y="906.5" font-size="25" text-anchor="end" fill="#000" >1</text>
<line x1="65.20" y1="935.51" x2="69.40" y2="935.51" stroke="#000" stroke-width="1.8" />
<line x1="61.90" y1="971.40" x2="69.40" y2="971.40" stroke="#000" stroke-width="2" />
<text x="55.8" y="978.3" font-size="25" text-anchor="end" fill="#000" >0</text>
<line x1="61.90" y1="971.40" x2="303.60" y2="971.40" stroke="#000" stroke-width="2.2" />
<line x1="135.80" y1="971.40" x2="135.80" y2="979.40" stroke="#000" stroke-width="2" />
<text x="135.3" y="1005.6" font-size="25" text-anchor="middle" fill="#000" textLength="30.0" lengthAdjust="spacingAndGlyphs" >BL</text>
<line x1="235.40" y1="971.40" x2="235.40" y2="979.40" stroke="#000" stroke-width="2" />
<text x="238.1" y="1005.6" font-size="25" text-anchor="middle" fill="#000" textLength="95.3" lengthAdjust="spacingAndGlyphs" >BL + MF</text>
<line x1="70.40" y1="899.62" x2="300.00" y2="899.62" stroke="#555" stroke-width="1.3" stroke-dasharray="5 5.6"/>
<text transform="translate(24.5,788) rotate(-90)" font-size="25" text-anchor="middle" textLength="106.3" lengthAdjust="spacingAndGlyphs">FF<tspan font-size="17.5" dy="8.3">on</tspan><tspan dy="-8.3">/FF</tspan><tspan font-size="17.5" dy="8.3">off</tspan></text>
<path d="M130.6,678.9 L130.6,661.9 L236.9,661.9 L236.9,678.9" fill="none" stroke="#000" stroke-width="1.7"/>
<text x="184.4" y="664.8" font-size="29" text-anchor="middle" fill="#000" >**</text>
<text x="135.7" y="792.3" font-size="29" text-anchor="middle" fill="#3c3cf0" >***</text>
<line x1="112.00" y1="790.70" x2="159.30" y2="790.70" stroke="#3c3cf0" stroke-width="3.6" />
<line x1="135.50" y1="844.00" x2="135.50" y2="856.40" stroke="#1a1aee" stroke-width="1.6" />
<line x1="235.70" y1="783.40" x2="235.70" y2="813.80" stroke="#f00000" stroke-width="1.6" />
<g fill="#5ba3f0"><circle cx="135.8" cy="820.8" r="3.9"/><circle cx="135.8" cy="827.8" r="3.9"/><circle cx="135.8" cy="835.1" r="3.9"/><circle cx="135.8" cy="842.1" r="3.9"/><circle cx="135.8" cy="849.4" r="3.9"/><circle cx="128.2" cy="856.4" r="3.9"/><circle cx="135.8" cy="856.4" r="3.9"/><circle cx="143.1" cy="856.4" r="3.9"/><circle cx="135.8" cy="863.7" r="3.9"/><circle cx="135.8" cy="870.8" r="3.9"/><circle cx="135.8" cy="877.8" r="3.9"/></g>
<g fill="#fb8585"><rect x="224.8" y="717.0" width="7.2" height="7.2"/><rect x="239.1" y="717.0" width="7.2" height="7.2"/><rect x="232.4" y="780.7" width="7.2" height="7.2"/><rect x="232.4" y="788.0" width="7.2" height="7.2"/><rect x="232.4" y="802.6" width="7.2" height="7.2"/><rect x="232.4" y="810.2" width="7.2" height="7.2"/><rect x="224.8" y="817.2" width="7.2" height="7.2"/><rect x="239.1" y="817.2" width="7.2" height="7.2"/><rect x="232.4" y="831.5" width="7.2" height="7.2"/><rect x="232.4" y="867.4" width="7.2" height="7.2"/></g>
<line x1="102.50" y1="850.00" x2="168.50" y2="850.00" stroke="#1a1aee" stroke-width="3.6" />
<line x1="119.20" y1="844.00" x2="151.80" y2="844.00" stroke="#1a1aee" stroke-width="1.6" />
<line x1="119.20" y1="856.40" x2="151.80" y2="856.40" stroke="#1a1aee" stroke-width="1.6" />
<line x1="202.70" y1="798.60" x2="268.70" y2="798.60" stroke="#f00000" stroke-width="3.6" />
<line x1="219.40" y1="783.40" x2="252.00" y2="783.40" stroke="#f00000" stroke-width="1.6" />
<line x1="219.40" y1="813.80" x2="252.00" y2="813.80" stroke="#f00000" stroke-width="1.6" />
<text x="766.3" y="504" font-size="21.8" textLength="281.4" lengthAdjust="spacingAndGlyphs"><tspan class="i">elav-GAL4&gt;UAS-Luc-CT;</tspan></text>
<text x="766.3" y="534.5" font-size="21.8" textLength="192.0" lengthAdjust="spacingAndGlyphs"><tspan>Dm</tspan><tspan class="i">cry</tspan><tspan class="i" font-size="15.2" dy="-7.9">02</tspan><tspan dy="7.9">/Dm</tspan><tspan class="i">cry</tspan><tspan class="i" font-size="15.2" dy="-7.9">03</tspan></text>
<use href="#neuron" x="796.8" y="569.2"/>
<line x1="805.60" y1="615.80" x2="805.60" y2="976.40" stroke="#000" stroke-width="2.2" />
<line x1="798.10" y1="616.90" x2="805.60" y2="616.90" stroke="#000" stroke-width="2" />
<text x="791.0" y="626.3" font-size="25" text-anchor="end" fill="#000" >5</text>
<line x1="801.40" y1="652.74" x2="805.60" y2="652.74" stroke="#000" stroke-width="1.8" />
<line x1="798.10" y1="688.58" x2="805.60" y2="688.58" stroke="#000" stroke-width="2" />
<text x="791.0" y="698.0" font-size="25" text-anchor="end" fill="#000" >4</text>
<line x1="801.40" y1="724.42" x2="805.60" y2="724.42" stroke="#000" stroke-width="1.8" />
<line x1="798.10" y1="760.26" x2="805.60" y2="760.26" stroke="#000" stroke-width="2" />
<text x="791.0" y="769.7" font-size="25" text-anchor="end" fill="#000" >3</text>
<line x1="801.40" y1="796.10" x2="805.60" y2="796.10" stroke="#000" stroke-width="1.8" />
<line x1="798.10" y1="831.94" x2="805.60" y2="831.94" stroke="#000" stroke-width="2" />
<text x="791.0" y="841.3" font-size="25" text-anchor="end" fill="#000" >2</text>
<line x1="801.40" y1="867.78" x2="805.60" y2="867.78" stroke="#000" stroke-width="1.8" />
<line x1="798.10" y1="903.62" x2="805.60" y2="903.62" stroke="#000" stroke-width="2" />
<text x="791.0" y="913.0" font-size="25" text-anchor="end" fill="#000" >1</text>
<line x1="801.40" y1="939.46" x2="805.60" y2="939.46" stroke="#000" stroke-width="1.8" />
<line x1="798.10" y1="975.30" x2="805.60" y2="975.30" stroke="#000" stroke-width="2" />
<text x="791.0" y="984.7" font-size="25" text-anchor="end" fill="#000" >0</text>
<line x1="798.10" y1="975.30" x2="1039.40" y2="975.30" stroke="#000" stroke-width="2.2" />
<line x1="871.60" y1="975.30" x2="871.60" y2="983.30" stroke="#000" stroke-width="2" />
<text x="871.1" y="1010.5" font-size="25" text-anchor="middle" fill="#000" textLength="30.0" lengthAdjust="spacingAndGlyphs" >BL</text>
<line x1="971.60" y1="975.30" x2="971.60" y2="983.30" stroke="#000" stroke-width="2" />
<text x="974.3" y="1010.5" font-size="25" text-anchor="middle" fill="#000" textLength="95.3" lengthAdjust="spacingAndGlyphs" >BL + MF</text>
<line x1="806.60" y1="903.62" x2="1036.00" y2="903.62" stroke="#555" stroke-width="1.3" stroke-dasharray="5 5.6"/>
<text transform="translate(753,784) rotate(-90)" font-size="25" text-anchor="middle" textLength="106.3" lengthAdjust="spacingAndGlyphs">FF<tspan font-size="17.5" dy="8.3">on</tspan><tspan dy="-8.3">/FF</tspan><tspan font-size="17.5" dy="8.3">off</tspan></text>
<path d="M866.3,740.7 L866.3,723.2 L971.6,723.2 L971.6,740.7" fill="none" stroke="#000" stroke-width="1.7"/>
<text x="917.6" y="723.9" font-size="29" text-anchor="middle" fill="#000" >**</text>
<text x="871.6" y="795.6" font-size="29" text-anchor="middle" fill="#3c3cf0" >**</text>
<line x1="856.70" y1="794.30" x2="887.80" y2="794.30" stroke="#3c3cf0" stroke-width="3.6" />
<line x1="871.60" y1="867.10" x2="871.60" y2="882.70" stroke="#1a1aee" stroke-width="1.6" />
<line x1="971.60" y1="820.80" x2="971.60" y2="839.70" stroke="#f00000" stroke-width="1.6" />
<g fill="#5ba3f0"><circle cx="871.6" cy="813.9" r="3.9"/><circle cx="857.4" cy="863.2" r="3.9"/><circle cx="871.6" cy="871.1" r="3.9"/><circle cx="885.5" cy="869.8" r="3.9"/><circle cx="857.4" cy="880.4" r="3.9"/><circle cx="871.6" cy="882.0" r="3.9"/><circle cx="885.5" cy="878.7" r="3.9"/><circle cx="871.6" cy="892.6" r="3.9"/><circle cx="885.5" cy="896.3" r="3.9"/><circle cx="857.4" cy="902.9" r="3.9"/></g>
<g fill="#fb8585"><rect x="968.0" y="778.1" width="7.2" height="7.2"/><rect x="968.0" y="789.7" width="7.2" height="7.2"/><rect x="960.7" y="813.2" width="7.2" height="7.2"/><rect x="975.3" y="811.2" width="7.2" height="7.2"/><rect x="960.7" y="832.1" width="7.2" height="7.2"/><rect x="975.3" y="830.4" width="7.2" height="7.2"/><rect x="960.7" y="842.0" width="7.2" height="7.2"/><rect x="975.3" y="840.4" width="7.2" height="7.2"/><rect x="960.7" y="866.2" width="7.2" height="7.2"/><rect x="975.3" y="862.2" width="7.2" height="7.2"/></g>
<line x1="838.60" y1="874.80" x2="904.60" y2="874.80" stroke="#1a1aee" stroke-width="3.6" />
<line x1="855.30" y1="867.10" x2="887.90" y2="867.10" stroke="#1a1aee" stroke-width="1.6" />
<line x1="855.30" y1="882.70" x2="887.90" y2="882.70" stroke="#1a1aee" stroke-width="1.6" />
<line x1="938.60" y1="830.40" x2="1004.60" y2="830.40" stroke="#f00000" stroke-width="3.6" />
<line x1="955.30" y1="820.80" x2="987.90" y2="820.80" stroke="#f00000" stroke-width="1.6" />
<line x1="955.30" y1="839.70" x2="987.90" y2="839.70" stroke="#f00000" stroke-width="1.6" />
<text x="478.8" y="1155.2" font-size="21.8" textLength="340.5" lengthAdjust="spacingAndGlyphs"><tspan class="i">elav-GAL4&gt;UAS-Luc-CT</tspan><tspan class="i" font-size="15.2" dy="-7.9">W536F</tspan><tspan class="i" dy="7.9">;</tspan></text>
<text x="478.8" y="1185.9" font-size="21.8" textLength="193.4" lengthAdjust="spacingAndGlyphs"><tspan>Dm</tspan><tspan class="i">cry</tspan><tspan class="i" font-size="15.2" dy="-7.9">02</tspan><tspan dy="7.9">/Dm</tspan><tspan class="i">cry</tspan><tspan class="i" font-size="15.2" dy="-7.9">03</tspan></text>
<use href="#neuron" x="498.8" y="1219.8"/>
<line x1="500.70" y1="1265.90" x2="500.70" y2="1626.50" stroke="#000" stroke-width="2.2" />
<line x1="493.20" y1="1267.00" x2="500.70" y2="1267.00" stroke="#000" stroke-width="2" />
<text x="484.0" y="1273.5" font-size="25" text-anchor="end" fill="#000" >5</text>
<line x1="496.50" y1="1302.84" x2="500.70" y2="1302.84" stroke="#000" stroke-width="1.8" />
<line x1="493.20" y1="1338.68" x2="500.70" y2="1338.68" stroke="#000" stroke-width="2" />
<text x="484.0" y="1345.2" font-size="25" text-anchor="end" fill="#000" >4</text>
<line x1="496.50" y1="1374.52" x2="500.70" y2="1374.52" stroke="#000" stroke-width="1.8" />
<line x1="493.20" y1="1410.36" x2="500.70" y2="1410.36" stroke="#000" stroke-width="2" />
<text x="484.0" y="1416.9" font-size="25" text-anchor="end" fill="#000" >3</text>
<line x1="496.50" y1="1446.20" x2="500.70" y2="1446.20" stroke="#000" stroke-width="1.8" />
<line x1="493.20" y1="1482.04" x2="500.70" y2="1482.04" stroke="#000" stroke-width="2" />
<text x="484.0" y="1488.5" font-size="25" text-anchor="end" fill="#000" >2</text>
<line x1="496.50" y1="1517.88" x2="500.70" y2="1517.88" stroke="#000" stroke-width="1.8" />
<line x1="493.20" y1="1553.72" x2="500.70" y2="1553.72" stroke="#000" stroke-width="2" />
<text x="484.0" y="1560.2" font-size="25" text-anchor="end" fill="#000" >1</text>
<line x1="496.50" y1="1589.56" x2="500.70" y2="1589.56" stroke="#000" stroke-width="1.8" />
<line x1="493.20" y1="1625.40" x2="500.70" y2="1625.40" stroke="#000" stroke-width="2" />
<text x="484.0" y="1631.9" font-size="25" text-anchor="end" fill="#000" >0</text>
<line x1="493.20" y1="1625.40" x2="734.80" y2="1625.40" stroke="#000" stroke-width="2.2" />
<line x1="567.30" y1="1625.40" x2="567.30" y2="1633.40" stroke="#000" stroke-width="2" />
<text x="566.8" y="1658.0" font-size="25" text-anchor="middle" fill="#000" textLength="30.0" lengthAdjust="spacingAndGlyphs" >BL</text>
<line x1="666.90" y1="1625.40" x2="666.90" y2="1633.40" stroke="#000" stroke-width="2" />
<text x="669.6" y="1658.0" font-size="25" text-anchor="middle" fill="#000" textLength="95.3" lengthAdjust="spacingAndGlyphs" >BL + MF</text>
<line x1="501.70" y1="1553.72" x2="732.00" y2="1553.72" stroke="#555" stroke-width="1.3" stroke-dasharray="5 5.6"/>
<text transform="translate(448.2,1432) rotate(-90)" font-size="25" text-anchor="middle" textLength="106.3" lengthAdjust="spacingAndGlyphs">FF<tspan font-size="17.5" dy="8.3">on</tspan><tspan dy="-8.3">/FF</tspan><tspan font-size="17.5" dy="8.3">off</tspan></text>
<path d="M561.8,1244.2 L561.8,1226.5 L667.2,1226.5 L667.2,1244.2" fill="none" stroke="#000" stroke-width="1.7"/>
<text x="615.1" y="1229.2" font-size="29" text-anchor="middle" fill="#000" >*</text>
<text x="567.3" y="1279.9" font-size="29" text-anchor="middle" fill="#3c3cf0" >***</text>
<line x1="543.50" y1="1280.10" x2="590.70" y2="1280.10" stroke="#3c3cf0" stroke-width="3.6" />
<line x1="567.30" y1="1468.60" x2="567.30" y2="1494.20" stroke="#1a1aee" stroke-width="1.6" />
<line x1="667.20" y1="1414.70" x2="667.20" y2="1450.40" stroke="#f00000" stroke-width="1.6" />
<g fill="#5ba3f0"><circle cx="567.3" cy="1306.9" r="3.9"/><circle cx="567.3" cy="1392.8" r="3.9"/><circle cx="567.3" cy="1418.1" r="3.9"/><circle cx="567.3" cy="1433.3" r="3.9"/><circle cx="560.0" cy="1466.5" r="3.9"/><circle cx="574.3" cy="1465.6" r="3.9"/><circle cx="574.3" cy="1473.2" r="3.9"/><circle cx="560.0" cy="1492.4" r="3.9"/><circle cx="545.7" cy="1497.9" r="3.9"/><circle cx="560.0" cy="1502.4" r="3.9"/><circle cx="574.3" cy="1500.0" r="3.9"/><circle cx="588.6" cy="1498.5" r="3.9"/><circle cx="560.0" cy="1518.3" r="3.9"/><circle cx="588.6" cy="1522.8" r="3.9"/><circle cx="545.7" cy="1527.4" r="3.9"/><circle cx="560.0" cy="1530.4" r="3.9"/><circle cx="574.3" cy="1528.9" r="3.9"/><circle cx="588.6" cy="1533.5" r="3.9"/><circle cx="567.3" cy="1541.7" r="3.9"/></g>
<g fill="#fb8585"><rect x="656.3" y="1263.1" width="7.2" height="7.2"/><rect x="670.6" y="1264.0" width="7.2" height="7.2"/><rect x="663.6" y="1344.1" width="7.2" height="7.2"/><rect x="663.6" y="1360.9" width="7.2" height="7.2"/><rect x="663.6" y="1372.1" width="7.2" height="7.2"/><rect x="663.6" y="1389.8" width="7.2" height="7.2"/><rect x="663.6" y="1399.6" width="7.2" height="7.2"/><rect x="641.9" y="1434.6" width="7.2" height="7.2"/><rect x="656.3" y="1433.1" width="7.2" height="7.2"/><rect x="670.6" y="1437.6" width="7.2" height="7.2"/><rect x="684.9" y="1436.7" width="7.2" height="7.2"/><rect x="656.3" y="1453.8" width="7.2" height="7.2"/><rect x="670.6" y="1454.4" width="7.2" height="7.2"/><rect x="663.6" y="1469.0" width="7.2" height="7.2"/><rect x="663.6" y="1485.7" width="7.2" height="7.2"/><rect x="663.6" y="1493.3" width="7.2" height="7.2"/><rect x="656.3" y="1514.7" width="7.2" height="7.2"/><rect x="670.6" y="1513.1" width="7.2" height="7.2"/><rect x="663.6" y="1523.8" width="7.2" height="7.2"/><rect x="663.6" y="1539.6" width="7.2" height="7.2"/></g>
<line x1="534.30" y1="1481.70" x2="600.30" y2="1481.70" stroke="#1a1aee" stroke-width="3.6" />
<line x1="551.00" y1="1468.60" x2="583.60" y2="1468.60" stroke="#1a1aee" stroke-width="1.6" />
<line x1="551.00" y1="1494.20" x2="583.60" y2="1494.20" stroke="#1a1aee" stroke-width="1.6" />
<line x1="634.20" y1="1432.70" x2="700.20" y2="1432.70" stroke="#f00000" stroke-width="3.6" />
<line x1="650.90" y1="1414.70" x2="683.50" y2="1414.70" stroke="#f00000" stroke-width="1.6" />
<line x1="650.90" y1="1450.40" x2="683.50" y2="1450.40" stroke="#f00000" stroke-width="1.6" />
<use href="#neuron" x="773" y="1257.3"/>
<text x="830.0" y="1263.3" font-size="25" text-anchor="start" fill="#000" textLength="143.6" lengthAdjust="spacingAndGlyphs" >Firing in aCC</text>
<text x="830.0" y="1286.1" font-size="25" text-anchor="start" fill="#000" textLength="90.0" lengthAdjust="spacingAndGlyphs" >neurons</text>
<use href="#clock" x="783.5" y="1324.6"/>
<text x="830.0" y="1330.0" font-size="25" text-anchor="start" fill="#000" textLength="184.4" lengthAdjust="spacingAndGlyphs" >Circadian period</text>
<text x="417.4" y="504.3" font-size="21.8" textLength="271.6" lengthAdjust="spacingAndGlyphs"><tspan class="i">tim-GAL4&gt;UAS-Luc-CT;</tspan></text>
<text x="417.4" y="534.6" font-size="21.8" textLength="190.9" lengthAdjust="spacingAndGlyphs"><tspan>Dm</tspan><tspan class="i">cry</tspan><tspan class="i" font-size="15.2" dy="-7.9">02</tspan><tspan dy="7.9">/Dm</tspan><tspan class="i">cry</tspan><tspan class="i" font-size="15.2" dy="-7.9">02</tspan></text>
<use href="#clock" x="432.4" y="572.6"/>
<text x="464.7" y="581.1" font-size="24.5" textLength="76.1" lengthAdjust="spacingAndGlyphs">300 <tspan font-family="Liberation Serif, serif">μ</tspan>T</text>
<rect x="466.8" y="865.9" width="26.6" height="109.2" fill="#616161" stroke="#000" stroke-width="2.1"/>
<rect x="510.5" y="837.9" width="26.6" height="137.2" fill="#5ba5ff" stroke="#000" stroke-width="2.1"/>
<rect x="554.2" y="832.6" width="26.6" height="142.5" fill="#5ba5ff" stroke="#000" stroke-width="2.1"/>
<rect x="598.0" y="835.5" width="26.6" height="139.6" fill="#ff8282" stroke="#000" stroke-width="2.1"/>
<rect x="641.7" y="858.1" width="26.6" height="117.0" fill="#ff8282" stroke="#000" stroke-width="2.1"/>
<line x1="451.50" y1="613.30" x2="451.50" y2="976.20" stroke="#000" stroke-width="2.2" />
<line x1="444.00" y1="614.40" x2="451.50" y2="614.40" stroke="#000" stroke-width="2" />
<text x="437.7" y="621.1" font-size="25" text-anchor="end" fill="#000" >30</text>
<line x1="447.30" y1="634.44" x2="451.50" y2="634.44" stroke="#000" stroke-width="1.8" />
<line x1="444.00" y1="654.48" x2="451.50" y2="654.48" stroke="#000" stroke-width="2" />
<text x="437.7" y="661.2" font-size="25" text-anchor="end" fill="#000" >29</text>
<line x1="447.30" y1="674.52" x2="451.50" y2="674.52" stroke="#000" stroke-width="1.8" />
<line x1="444.00" y1="694.56" x2="451.50" y2="694.56" stroke="#000" stroke-width="2" />
<text x="437.7" y="701.3" font-size="25" text-anchor="end" fill="#000" >28</text>
<line x1="447.30" y1="714.59" x2="451.50" y2="714.59" stroke="#000" stroke-width="1.8" />
<line x1="444.00" y1="734.63" x2="451.50" y2="734.63" stroke="#000" stroke-width="2" />
<text x="437.7" y="741.3" font-size="25" text-anchor="end" fill="#000" >27</text>
<line x1="447.30" y1="754.67" x2="451.50" y2="754.67" stroke="#000" stroke-width="1.8" />
<line x1="444.00" y1="774.71" x2="451.50" y2="774.71" stroke="#000" stroke-width="2" />
<text x="437.7" y="781.4" font-size="25" text-anchor="end" fill="#000" >26</text>
<line x1="447.30" y1="794.75" x2="451.50" y2="794.75" stroke="#000" stroke-width="1.8" />
<line x1="444.00" y1="814.79" x2="451.50" y2="814.79" stroke="#000" stroke-width="2" />
<text x="437.7" y="821.5" font-size="25" text-anchor="end" fill="#000" >25</text>
<line x1="447.30" y1="834.83" x2="451.50" y2="834.83" stroke="#000" stroke-width="1.8" />
<line x1="444.00" y1="854.87" x2="451.50" y2="854.87" stroke="#000" stroke-width="2" />
<text x="437.7" y="861.6" font-size="25" text-anchor="end" fill="#000" >24</text>
<line x1="447.30" y1="874.91" x2="451.50" y2="874.91" stroke="#000" stroke-width="1.8" />
<line x1="444.00" y1="894.94" x2="451.50" y2="894.94" stroke="#000" stroke-width="2" />
<text x="437.7" y="901.6" font-size="25" text-anchor="end" fill="#000" >23</text>
<line x1="447.30" y1="914.98" x2="451.50" y2="914.98" stroke="#000" stroke-width="1.8" />
<line x1="444.00" y1="935.02" x2="451.50" y2="935.02" stroke="#000" stroke-width="2" />
<text x="437.7" y="941.7" font-size="25" text-anchor="end" fill="#000" >22</text>
<line x1="447.30" y1="955.06" x2="451.50" y2="955.06" stroke="#000" stroke-width="1.8" />
<line x1="444.00" y1="975.10" x2="451.50" y2="975.10" stroke="#000" stroke-width="2" />
<text x="437.7" y="981.8" font-size="25" text-anchor="end" fill="#000" >21</text>
<line x1="444.00" y1="975.10" x2="685.80" y2="975.10" stroke="#000" stroke-width="2.2" />
<line x1="480.30" y1="975.10" x2="480.30" y2="983.10" stroke="#000" stroke-width="2" />
<text transform="translate(487.2,997) rotate(-45)" font-size="25.5" text-anchor="end">DD</text>
<line x1="524.00" y1="975.10" x2="524.00" y2="983.10" stroke="#000" stroke-width="2" />
<text transform="translate(530.9,997) rotate(-45)" font-size="25.5" text-anchor="end">BL pre-sham</text>
<line x1="567.70" y1="975.10" x2="567.70" y2="983.10" stroke="#000" stroke-width="2" />
<text transform="translate(574.6,997) rotate(-45)" font-size="25.5" text-anchor="end">BL + sham</text>
<line x1="611.50" y1="975.10" x2="611.50" y2="983.10" stroke="#000" stroke-width="2" />
<text transform="translate(618.4,997) rotate(-45)" font-size="25.5" text-anchor="end">BL pre-MF</text>
<line x1="655.20" y1="975.10" x2="655.20" y2="983.10" stroke="#000" stroke-width="2" />
<text transform="translate(662.1,997) rotate(-45)" font-size="25.5" text-anchor="end">BL + MF</text>
<text transform="translate(388,789.5) rotate(-90)" font-size="25" text-anchor="middle" textLength="106.3" lengthAdjust="spacingAndGlyphs">Period (h)</text>
<path d="M573,598.6 L573,581.9 L663.3,581.9 L663.3,598.6" fill="none" stroke="#000" stroke-width="1.7"/>
<text x="618.0" y="583.9" font-size="29" text-anchor="middle" fill="#000" >*</text>
<path d="M612.5,652.5 L612.5,635.4 L663,635.4 L663,652.5" fill="none" stroke="#000" stroke-width="1.7"/>
<text x="639.3" y="637.3" font-size="29" text-anchor="middle" fill="#000" >**</text>
<line x1="480.40" y1="861.40" x2="480.40" y2="870.50" stroke="#000" stroke-width="1.3" />
<line x1="474.40" y1="861.40" x2="486.40" y2="861.40" stroke="#000" stroke-width="1.3" />
<line x1="474.40" y1="870.50" x2="486.40" y2="870.50" stroke="#000" stroke-width="1.3" />
<g fill="#000"><circle cx="480.4" cy="814.9" r="2.7"/><circle cx="480.4" cy="835.8" r="2.7"/><circle cx="468.2" cy="842.7" r="2.7"/><circle cx="480.4" cy="845.5" r="2.7"/><circle cx="486.3" cy="847.6" r="2.7"/><circle cx="492.5" cy="844.4" r="2.7"/><circle cx="468.2" cy="851.9" r="2.7"/><circle cx="474.2" cy="852.6" r="2.7"/><circle cx="480.4" cy="855.0" r="2.7"/><circle cx="486.3" cy="855.0" r="2.7"/><circle cx="492.5" cy="855.0" r="2.7"/><circle cx="474.2" cy="859.4" r="2.7"/><circle cx="480.4" cy="862.2" r="2.7"/><circle cx="468.2" cy="864.2" r="2.7"/><circle cx="474.2" cy="867.8" r="2.7"/><circle cx="480.4" cy="868.3" r="2.7"/><circle cx="486.3" cy="868.3" r="2.7"/><circle cx="486.3" cy="873.8" r="2.7"/><circle cx="480.4" cy="876.6" r="2.7"/><circle cx="474.2" cy="877.9" r="2.7"/><circle cx="468.2" cy="878.9" r="2.7"/><circle cx="492.5" cy="877.9" r="2.7"/><circle cx="486.3" cy="880.7" r="2.7"/><circle cx="480.4" cy="882.0" r="2.7"/><circle cx="474.2" cy="885.1" r="2.7"/><circle cx="486.3" cy="887.6" r="2.7"/><circle cx="480.4" cy="901.5" r="2.7"/><circle cx="480.4" cy="907.9" r="2.7"/></g>
<line x1="524.40" y1="833.00" x2="524.40" y2="843.00" stroke="#1414c8" stroke-width="1.3" />
<line x1="518.40" y1="833.00" x2="530.40" y2="833.00" stroke="#1414c8" stroke-width="1.3" />
<line x1="518.40" y1="843.00" x2="530.40" y2="843.00" stroke="#1414c8" stroke-width="1.3" />
<g fill="none" stroke="#1414c8" stroke-width="1.25"><circle cx="524.4" cy="663.0" r="2.6"/><circle cx="521.9" cy="716.6" r="2.6"/><circle cx="524.4" cy="716.6" r="2.6"/><circle cx="526.9" cy="716.6" r="2.6"/><circle cx="523.1" cy="733.9" r="2.6"/><circle cx="525.6" cy="733.9" r="2.6"/><circle cx="518.1" cy="751.3" r="2.6"/><circle cx="520.6" cy="751.3" r="2.6"/><circle cx="523.1" cy="751.3" r="2.6"/><circle cx="525.6" cy="751.3" r="2.6"/><circle cx="528.1" cy="751.3" r="2.6"/><circle cx="530.6" cy="751.3" r="2.6"/><circle cx="519.4" cy="768.2" r="2.6"/><circle cx="521.9" cy="768.2" r="2.6"/><circle cx="524.4" cy="768.2" r="2.6"/><circle cx="526.9" cy="768.2" r="2.6"/><circle cx="529.4" cy="768.2" r="2.6"/><circle cx="523.1" cy="771.5" r="2.6"/><circle cx="525.6" cy="771.5" r="2.6"/><circle cx="513.1" cy="783.9" r="2.6"/><circle cx="515.6" cy="783.9" r="2.6"/><circle cx="518.1" cy="783.9" r="2.6"/><circle cx="520.6" cy="783.9" r="2.6"/><circle cx="523.1" cy="783.9" r="2.6"/><circle cx="525.6" cy="783.9" r="2.6"/><circle cx="528.1" cy="783.9" r="2.6"/><circle cx="530.6" cy="783.9" r="2.6"/><circle cx="533.1" cy="783.9" r="2.6"/><circle cx="535.6" cy="783.9" r="2.6"/><circle cx="520.6" cy="799.8" r="2.6"/><circle cx="523.1" cy="799.8" r="2.6"/><circle cx="525.6" cy="799.8" r="2.6"/><circle cx="528.1" cy="799.8" r="2.6"/><circle cx="524.4" cy="803.0" r="2.6"/><circle cx="523.1" cy="817.6" r="2.6"/><circle cx="525.6" cy="817.6" r="2.6"/><circle cx="521.9" cy="830.3" r="2.6"/><circle cx="524.4" cy="830.3" r="2.6"/><circle cx="526.9" cy="830.3" r="2.6"/><circle cx="523.1" cy="832.5" r="2.6"/><circle cx="525.6" cy="832.5" r="2.6"/><circle cx="524.4" cy="840.1" r="2.6"/><circle cx="519.4" cy="846.8" r="2.6"/><circle cx="521.9" cy="846.8" r="2.6"/><circle cx="524.4" cy="846.8" r="2.6"/><circle cx="526.9" cy="846.8" r="2.6"/><circle cx="529.4" cy="846.8" r="2.6"/><circle cx="521.9" cy="858.0" r="2.6"/><circle cx="524.4" cy="858.0" r="2.6"/><circle cx="526.9" cy="858.0" r="2.6"/><circle cx="514.4" cy="860.6" r="2.6"/><circle cx="516.9" cy="860.6" r="2.6"/><circle cx="519.4" cy="860.6" r="2.6"/><circle cx="521.9" cy="860.6" r="2.6"/><circle cx="524.4" cy="860.6" r="2.6"/><circle cx="526.9" cy="860.6" r="2.6"/><circle cx="529.4" cy="860.6" r="2.6"/><circle cx="531.9" cy="860.6" r="2.6"/><circle cx="534.4" cy="860.6" r="2.6"/><circle cx="524.4" cy="871.0" r="2.6"/><circle cx="515.6" cy="874.2" r="2.6"/><circle cx="518.1" cy="874.2" r="2.6"/><circle cx="520.6" cy="874.2" r="2.6"/><circle cx="523.1" cy="874.2" r="2.6"/><circle cx="525.6" cy="874.2" r="2.6"/><circle cx="528.1" cy="874.2" r="2.6"/><circle cx="530.6" cy="874.2" r="2.6"/><circle cx="533.1" cy="874.2" r="2.6"/><circle cx="524.4" cy="884.0" r="2.6"/><circle cx="520.6" cy="887.4" r="2.6"/><circle cx="523.1" cy="887.4" r="2.6"/><circle cx="525.6" cy="887.4" r="2.6"/><circle cx="528.1" cy="887.4" r="2.6"/><circle cx="524.4" cy="896.5" r="2.6"/><circle cx="523.1" cy="899.8" r="2.6"/><circle cx="525.6" cy="899.8" r="2.6"/><circle cx="520.6" cy="909.5" r="2.6"/><circle cx="523.1" cy="909.5" r="2.6"/><circle cx="525.6" cy="909.5" r="2.6"/><circle cx="528.1" cy="909.5" r="2.6"/><circle cx="524.4" cy="912.5" r="2.6"/><circle cx="524.4" cy="921.5" r="2.6"/><circle cx="524.4" cy="923.5" r="2.6"/><circle cx="520.6" cy="933.8" r="2.6"/><circle cx="523.1" cy="933.8" r="2.6"/><circle cx="525.6" cy="933.8" r="2.6"/><circle cx="528.1" cy="933.8" r="2.6"/><circle cx="524.4" cy="945.2" r="2.6"/><circle cx="524.4" cy="956.2" r="2.6"/><circle cx="524.4" cy="958.8" r="2.6"/><circle cx="524.4" cy="967.3" r="2.6"/></g>
<line x1="567.90" y1="828.50" x2="567.90" y2="836.50" stroke="#0000c8" stroke-width="1.3" />
<line x1="561.90" y1="828.50" x2="573.90" y2="828.50" stroke="#0000c8" stroke-width="1.3" />
<line x1="561.90" y1="836.50" x2="573.90" y2="836.50" stroke="#0000c8" stroke-width="1.3" />
<g fill="#0000c8"><rect x="565.4" y="662.9" width="5" height="5"/><rect x="565.4" y="714.1" width="5" height="5"/><rect x="565.4" y="738.0" width="5" height="5"/><rect x="565.4" y="741.0" width="5" height="5"/><rect x="563.2" y="759.2" width="5" height="5"/><rect x="567.6" y="759.2" width="5" height="5"/><rect x="565.4" y="765.9" width="5" height="5"/><rect x="563.2" y="774.0" width="5" height="5"/><rect x="567.6" y="774.0" width="5" height="5"/><rect x="558.8" y="780.5" width="5" height="5"/><rect x="563.2" y="780.5" width="5" height="5"/><rect x="567.6" y="780.5" width="5" height="5"/><rect x="572.0" y="780.5" width="5" height="5"/><rect x="558.8" y="789.0" width="5" height="5"/><rect x="563.2" y="789.0" width="5" height="5"/><rect x="567.6" y="789.0" width="5" height="5"/><rect x="572.0" y="789.0" width="5" height="5"/><rect x="565.4" y="796.1" width="5" height="5"/><rect x="554.4" y="806.1" width="5" height="5"/><rect x="558.8" y="806.1" width="5" height="5"/><rect x="563.2" y="806.1" width="5" height="5"/><rect x="567.6" y="806.1" width="5" height="5"/><rect x="572.0" y="806.1" width="5" height="5"/><rect x="576.4" y="806.1" width="5" height="5"/><rect x="565.4" y="812.7" width="5" height="5"/><rect x="558.8" y="822.3" width="5" height="5"/><rect x="563.2" y="822.3" width="5" height="5"/><rect x="567.6" y="822.3" width="5" height="5"/><rect x="572.0" y="822.3" width="5" height="5"/><rect x="552.2" y="827.8" width="5" height="5"/><rect x="556.6" y="827.8" width="5" height="5"/><rect x="561.0" y="827.8" width="5" height="5"/><rect x="565.4" y="827.8" width="5" height="5"/><rect x="569.8" y="827.8" width="5" height="5"/><rect x="574.2" y="827.8" width="5" height="5"/><rect x="578.6" y="827.8" width="5" height="5"/><rect x="556.6" y="833.0" width="5" height="5"/><rect x="561.0" y="833.0" width="5" height="5"/><rect x="565.4" y="833.0" width="5" height="5"/><rect x="569.8" y="833.0" width="5" height="5"/><rect x="574.2" y="833.0" width="5" height="5"/><rect x="552.2" y="840.1" width="5" height="5"/><rect x="556.6" y="840.1" width="5" height="5"/><rect x="561.0" y="840.1" width="5" height="5"/><rect x="565.4" y="840.1" width="5" height="5"/><rect x="569.8" y="840.1" width="5" height="5"/><rect x="574.2" y="840.1" width="5" height="5"/><rect x="578.6" y="840.1" width="5" height="5"/><rect x="558.8" y="851.0" width="5" height="5"/><rect x="563.2" y="851.0" width="5" height="5"/><rect x="567.6" y="851.0" width="5" height="5"/><rect x="572.0" y="851.0" width="5" height="5"/><rect x="561.0" y="855.0" width="5" height="5"/><rect x="565.4" y="855.0" width="5" height="5"/><rect x="569.8" y="855.0" width="5" height="5"/><rect x="561.0" y="867.5" width="5" height="5"/><rect x="565.4" y="867.5" width="5" height="5"/><rect x="569.8" y="867.5" width="5" height="5"/><rect x="563.2" y="873.5" width="5" height="5"/><rect x="567.6" y="873.5" width="5" height="5"/><rect x="565.4" y="878.5" width="5" height="5"/><rect x="565.4" y="881.5" width="5" height="5"/><rect x="563.2" y="893.5" width="5" height="5"/><rect x="567.6" y="893.5" width="5" height="5"/><rect x="563.2" y="906.5" width="5" height="5"/><rect x="567.6" y="906.5" width="5" height="5"/><rect x="565.4" y="917.5" width="5" height="5"/><rect x="565.4" y="930.5" width="5" height="5"/></g>
<line x1="611.70" y1="829.50" x2="611.70" y2="841.50" stroke="#f02020" stroke-width="1.3" />
<line x1="604.70" y1="829.50" x2="618.70" y2="829.50" stroke="#f02020" stroke-width="1.3" />
<line x1="604.70" y1="841.50" x2="618.70" y2="841.50" stroke="#f02020" stroke-width="1.3" />
<g fill="none" stroke="#f02020" stroke-width="1.25"><rect x="609.2" y="679.8" width="5" height="5"/><rect x="609.2" y="699.3" width="5" height="5"/><rect x="609.2" y="714.1" width="5" height="5"/><rect x="604.1" y="731.4" width="5" height="5"/><rect x="606.7" y="731.4" width="5" height="5"/><rect x="609.2" y="731.4" width="5" height="5"/><rect x="611.8" y="731.4" width="5" height="5"/><rect x="614.3" y="731.4" width="5" height="5"/><rect x="601.6" y="748.8" width="5" height="5"/><rect x="604.1" y="748.8" width="5" height="5"/><rect x="606.7" y="748.8" width="5" height="5"/><rect x="609.2" y="748.8" width="5" height="5"/><rect x="611.8" y="748.8" width="5" height="5"/><rect x="614.3" y="748.8" width="5" height="5"/><rect x="616.9" y="748.8" width="5" height="5"/><rect x="596.5" y="765.7" width="5" height="5"/><rect x="599.0" y="765.7" width="5" height="5"/><rect x="601.6" y="765.7" width="5" height="5"/><rect x="604.1" y="765.7" width="5" height="5"/><rect x="606.7" y="765.7" width="5" height="5"/><rect x="609.2" y="765.7" width="5" height="5"/><rect x="611.8" y="765.7" width="5" height="5"/><rect x="614.3" y="765.7" width="5" height="5"/><rect x="616.9" y="765.7" width="5" height="5"/><rect x="619.4" y="765.7" width="5" height="5"/><rect x="622.0" y="765.7" width="5" height="5"/><rect x="604.1" y="781.4" width="5" height="5"/><rect x="606.7" y="781.4" width="5" height="5"/><rect x="609.2" y="781.4" width="5" height="5"/><rect x="611.8" y="781.4" width="5" height="5"/><rect x="614.3" y="781.4" width="5" height="5"/><rect x="596.5" y="797.3" width="5" height="5"/><rect x="599.0" y="797.3" width="5" height="5"/><rect x="601.6" y="797.3" width="5" height="5"/><rect x="604.1" y="797.3" width="5" height="5"/><rect x="606.7" y="797.3" width="5" height="5"/><rect x="609.2" y="797.3" width="5" height="5"/><rect x="611.8" y="797.3" width="5" height="5"/><rect x="614.3" y="797.3" width="5" height="5"/><rect x="616.9" y="797.3" width="5" height="5"/><rect x="619.4" y="797.3" width="5" height="5"/><rect x="622.0" y="797.3" width="5" height="5"/><rect x="609.2" y="815.1" width="5" height="5"/><rect x="607.9" y="827.8" width="5" height="5"/><rect x="610.5" y="827.8" width="5" height="5"/><rect x="605.4" y="830.1" width="5" height="5"/><rect x="607.9" y="830.1" width="5" height="5"/><rect x="610.5" y="830.1" width="5" height="5"/><rect x="613.0" y="830.1" width="5" height="5"/><rect x="599.0" y="844.9" width="5" height="5"/><rect x="601.6" y="844.9" width="5" height="5"/><rect x="604.1" y="844.9" width="5" height="5"/><rect x="606.7" y="844.9" width="5" height="5"/><rect x="609.2" y="844.9" width="5" height="5"/><rect x="611.8" y="844.9" width="5" height="5"/><rect x="614.3" y="844.9" width="5" height="5"/><rect x="616.9" y="844.9" width="5" height="5"/><rect x="619.4" y="844.9" width="5" height="5"/><rect x="602.8" y="858.0" width="5" height="5"/><rect x="605.4" y="858.0" width="5" height="5"/><rect x="607.9" y="858.0" width="5" height="5"/><rect x="610.5" y="858.0" width="5" height="5"/><rect x="613.0" y="858.0" width="5" height="5"/><rect x="615.6" y="858.0" width="5" height="5"/><rect x="604.1" y="871.8" width="5" height="5"/><rect x="606.7" y="871.8" width="5" height="5"/><rect x="609.2" y="871.8" width="5" height="5"/><rect x="611.8" y="871.8" width="5" height="5"/><rect x="614.3" y="871.8" width="5" height="5"/><rect x="605.4" y="884.8" width="5" height="5"/><rect x="607.9" y="884.8" width="5" height="5"/><rect x="610.5" y="884.8" width="5" height="5"/><rect x="613.0" y="884.8" width="5" height="5"/><rect x="602.8" y="893.6" width="5" height="5"/><rect x="605.4" y="893.6" width="5" height="5"/><rect x="607.9" y="893.6" width="5" height="5"/><rect x="610.5" y="893.6" width="5" height="5"/><rect x="613.0" y="893.6" width="5" height="5"/><rect x="615.6" y="893.6" width="5" height="5"/><rect x="604.1" y="909.5" width="5" height="5"/><rect x="606.7" y="909.5" width="5" height="5"/><rect x="609.2" y="909.5" width="5" height="5"/><rect x="611.8" y="909.5" width="5" height="5"/><rect x="614.3" y="909.5" width="5" height="5"/><rect x="607.9" y="919.8" width="5" height="5"/><rect x="610.5" y="919.8" width="5" height="5"/><rect x="605.4" y="931.0" width="5" height="5"/><rect x="607.9" y="931.0" width="5" height="5"/><rect x="610.5" y="931.0" width="5" height="5"/><rect x="613.0" y="931.0" width="5" height="5"/><rect x="605.4" y="942.4" width="5" height="5"/><rect x="607.9" y="942.4" width="5" height="5"/><rect x="610.5" y="942.4" width="5" height="5"/><rect x="613.0" y="942.4" width="5" height="5"/><rect x="607.9" y="954.3" width="5" height="5"/><rect x="610.5" y="954.3" width="5" height="5"/><rect x="610.5" y="769.0" width="5" height="5"/><rect x="610.5" y="786.0" width="5" height="5"/><rect x="610.5" y="800.5" width="5" height="5"/><rect x="603.5" y="827.5" width="5" height="5"/><rect x="615.5" y="868.5" width="5" height="5"/><rect x="604.5" y="868.5" width="5" height="5"/><rect x="616.5" y="897.0" width="5" height="5"/><rect x="601.5" y="895.0" width="5" height="5"/><rect x="616.5" y="907.0" width="5" height="5"/><rect x="601.5" y="907.0" width="5" height="5"/><rect x="611.0" y="921.5" width="5" height="5"/><rect x="608.5" y="956.0" width="5" height="5"/></g>
<line x1="655.40" y1="854.50" x2="655.40" y2="861.50" stroke="#ff0000" stroke-width="1.3" />
<line x1="649.40" y1="854.50" x2="661.40" y2="854.50" stroke="#ff0000" stroke-width="1.3" />
<line x1="649.40" y1="861.50" x2="661.40" y2="861.50" stroke="#ff0000" stroke-width="1.3" />
<g fill="#ff0000"><circle cx="655.4" cy="741.5" r="2.7"/><circle cx="655.4" cy="768.4" r="2.7"/><circle cx="653.9" cy="776.0" r="2.7"/><circle cx="656.9" cy="776.0" r="2.7"/><circle cx="655.4" cy="792.2" r="2.7"/><circle cx="655.4" cy="799.8" r="2.7"/><circle cx="648.0" cy="815.3" r="2.7"/><circle cx="651.0" cy="815.3" r="2.7"/><circle cx="653.9" cy="815.3" r="2.7"/><circle cx="656.9" cy="815.3" r="2.7"/><circle cx="659.8" cy="815.3" r="2.7"/><circle cx="662.8" cy="815.3" r="2.7"/><circle cx="653.9" cy="824.8" r="2.7"/><circle cx="656.9" cy="824.8" r="2.7"/><circle cx="653.9" cy="829.5" r="2.7"/><circle cx="656.9" cy="829.5" r="2.7"/><circle cx="653.9" cy="835.5" r="2.7"/><circle cx="656.9" cy="835.5" r="2.7"/><circle cx="645.1" cy="843.1" r="2.7"/><circle cx="648.0" cy="843.1" r="2.7"/><circle cx="651.0" cy="843.1" r="2.7"/><circle cx="653.9" cy="843.1" r="2.7"/><circle cx="656.9" cy="843.1" r="2.7"/><circle cx="659.8" cy="843.1" r="2.7"/><circle cx="662.8" cy="843.1" r="2.7"/><circle cx="665.7" cy="843.1" r="2.7"/><circle cx="652.4" cy="847.4" r="2.7"/><circle cx="655.4" cy="847.4" r="2.7"/><circle cx="658.4" cy="847.4" r="2.7"/><circle cx="649.5" cy="853.3" r="2.7"/><circle cx="652.4" cy="853.3" r="2.7"/><circle cx="655.4" cy="853.3" r="2.7"/><circle cx="658.4" cy="853.3" r="2.7"/><circle cx="661.3" cy="853.3" r="2.7"/><circle cx="649.5" cy="858.1" r="2.7"/><circle cx="652.4" cy="858.1" r="2.7"/><circle cx="655.4" cy="858.1" r="2.7"/><circle cx="658.4" cy="858.1" r="2.7"/><circle cx="661.3" cy="858.1" r="2.7"/><circle cx="648.0" cy="862.8" r="2.7"/><circle cx="651.0" cy="862.8" r="2.7"/><circle cx="653.9" cy="862.8" r="2.7"/><circle cx="656.9" cy="862.8" r="2.7"/><circle cx="659.8" cy="862.8" r="2.7"/><circle cx="662.8" cy="862.8" r="2.7"/><circle cx="645.1" cy="867.6" r="2.7"/><circle cx="648.0" cy="867.6" r="2.7"/><circle cx="651.0" cy="867.6" r="2.7"/><circle cx="653.9" cy="867.6" r="2.7"/><circle cx="656.9" cy="867.6" r="2.7"/><circle cx="659.8" cy="867.6" r="2.7"/><circle cx="662.8" cy="867.6" r="2.7"/><circle cx="665.7" cy="867.6" r="2.7"/><circle cx="651.0" cy="875.9" r="2.7"/><circle cx="653.9" cy="875.9" r="2.7"/><circle cx="656.9" cy="875.9" r="2.7"/><circle cx="659.8" cy="875.9" r="2.7"/><circle cx="649.5" cy="881.9" r="2.7"/><circle cx="652.4" cy="881.9" r="2.7"/><circle cx="655.4" cy="881.9" r="2.7"/><circle cx="658.4" cy="881.9" r="2.7"/><circle cx="661.3" cy="881.9" r="2.7"/><circle cx="653.9" cy="887.8" r="2.7"/><circle cx="656.9" cy="887.8" r="2.7"/><circle cx="651.0" cy="896.1" r="2.7"/><circle cx="653.9" cy="896.1" r="2.7"/><circle cx="656.9" cy="896.1" r="2.7"/><circle cx="659.8" cy="896.1" r="2.7"/><circle cx="655.4" cy="900.9" r="2.7"/><circle cx="653.9" cy="908.0" r="2.7"/><circle cx="656.9" cy="908.0" r="2.7"/><circle cx="652.4" cy="921.1" r="2.7"/><circle cx="655.4" cy="921.1" r="2.7"/><circle cx="658.4" cy="921.1" r="2.7"/><circle cx="652.4" cy="933.0" r="2.7"/><circle cx="655.4" cy="933.0" r="2.7"/><circle cx="658.4" cy="933.0" r="2.7"/><circle cx="655.4" cy="937.8" r="2.7"/></g>
<text x="84.7" y="1156" font-size="21.8" textLength="329" lengthAdjust="spacingAndGlyphs"><tspan class="i">tim-GAL4&gt;UAS-Luc-CT</tspan><tspan class="i" font-size="15.2" dy="-7.9">W536F</tspan><tspan class="i" dy="7.9">;</tspan></text>
<text x="84.7" y="1185.9" font-size="21.8" textLength="192.3" lengthAdjust="spacingAndGlyphs"><tspan>Dm</tspan><tspan class="i">cry</tspan><tspan class="i" font-size="15.2" dy="-7.9">02</tspan><tspan dy="7.9">/Dm</tspan><tspan class="i">cry</tspan><tspan class="i" font-size="15.2" dy="-7.9">02</tspan></text>
<use href="#clock" x="103.9" y="1224.7"/>
<text x="138" y="1233.5" font-size="24.5" textLength="76.1" lengthAdjust="spacingAndGlyphs">300 <tspan font-family="Liberation Serif, serif">μ</tspan>T</text>
<rect x="138.0" y="1508.5" width="26.6" height="117.3" fill="#616161" stroke="#000" stroke-width="2.1"/>
<rect x="181.5" y="1490.5" width="26.6" height="135.3" fill="#5ba5ff" stroke="#000" stroke-width="2.1"/>
<rect x="225.3" y="1486.6" width="26.6" height="139.2" fill="#5ba5ff" stroke="#000" stroke-width="2.1"/>
<rect x="268.9" y="1486.6" width="26.6" height="139.2" fill="#ff8282" stroke="#000" stroke-width="2.1"/>
<rect x="312.9" y="1500.8" width="26.6" height="125.0" fill="#ff8282" stroke="#000" stroke-width="2.1"/>
<line x1="122.60" y1="1264.00" x2="122.60" y2="1626.90" stroke="#000" stroke-width="2.2" />
<line x1="115.10" y1="1265.10" x2="122.60" y2="1265.10" stroke="#000" stroke-width="2" />
<text x="108.0" y="1273.0" font-size="25" text-anchor="end" fill="#000" >30</text>
<line x1="118.40" y1="1285.14" x2="122.60" y2="1285.14" stroke="#000" stroke-width="1.8" />
<line x1="115.10" y1="1305.18" x2="122.60" y2="1305.18" stroke="#000" stroke-width="2" />
<text x="108.0" y="1313.1" font-size="25" text-anchor="end" fill="#000" >29</text>
<line x1="118.40" y1="1325.22" x2="122.60" y2="1325.22" stroke="#000" stroke-width="1.8" />
<line x1="115.10" y1="1345.26" x2="122.60" y2="1345.26" stroke="#000" stroke-width="2" />
<text x="108.0" y="1353.2" font-size="25" text-anchor="end" fill="#000" >28</text>
<line x1="118.40" y1="1365.29" x2="122.60" y2="1365.29" stroke="#000" stroke-width="1.8" />
<line x1="115.10" y1="1385.33" x2="122.60" y2="1385.33" stroke="#000" stroke-width="2" />
<text x="108.0" y="1393.2" font-size="25" text-anchor="end" fill="#000" >27</text>
<line x1="118.40" y1="1405.37" x2="122.60" y2="1405.37" stroke="#000" stroke-width="1.8" />
<line x1="115.10" y1="1425.41" x2="122.60" y2="1425.41" stroke="#000" stroke-width="2" />
<text x="108.0" y="1433.3" font-size="25" text-anchor="end" fill="#000" >26</text>
<line x1="118.40" y1="1445.45" x2="122.60" y2="1445.45" stroke="#000" stroke-width="1.8" />
<line x1="115.10" y1="1465.49" x2="122.60" y2="1465.49" stroke="#000" stroke-width="2" />
<text x="108.0" y="1473.4" font-size="25" text-anchor="end" fill="#000" >25</text>
<line x1="118.40" y1="1485.53" x2="122.60" y2="1485.53" stroke="#000" stroke-width="1.8" />
<line x1="115.10" y1="1505.57" x2="122.60" y2="1505.57" stroke="#000" stroke-width="2" />
<text x="108.0" y="1513.5" font-size="25" text-anchor="end" fill="#000" >24</text>
<line x1="118.40" y1="1525.61" x2="122.60" y2="1525.61" stroke="#000" stroke-width="1.8" />
<line x1="115.10" y1="1545.64" x2="122.60" y2="1545.64" stroke="#000" stroke-width="2" />
<text x="108.0" y="1553.5" font-size="25" text-anchor="end" fill="#000" >23</text>
<line x1="118.40" y1="1565.68" x2="122.60" y2="1565.68" stroke="#000" stroke-width="1.8" />
<line x1="115.10" y1="1585.72" x2="122.60" y2="1585.72" stroke="#000" stroke-width="2" />
<text x="108.0" y="1593.6" font-size="25" text-anchor="end" fill="#000" >22</text>
<line x1="118.40" y1="1605.76" x2="122.60" y2="1605.76" stroke="#000" stroke-width="1.8" />
<line x1="115.10" y1="1625.80" x2="122.60" y2="1625.80" stroke="#000" stroke-width="2" />
<text x="108.0" y="1633.7" font-size="25" text-anchor="end" fill="#000" >21</text>
<line x1="115.10" y1="1625.80" x2="356.90" y2="1625.80" stroke="#000" stroke-width="2.2" />
<line x1="151.50" y1="1625.80" x2="151.50" y2="1633.80" stroke="#000" stroke-width="2" />
<text transform="translate(156.4,1650) rotate(-45)" font-size="25.5" text-anchor="end">DD</text>
<line x1="195.00" y1="1625.80" x2="195.00" y2="1633.80" stroke="#000" stroke-width="2" />
<text transform="translate(199.9,1650) rotate(-45)" font-size="25.5" text-anchor="end">BL pre-sham</text>
<line x1="238.80" y1="1625.80" x2="238.80" y2="1633.80" stroke="#000" stroke-width="2" />
<text transform="translate(243.7,1650) rotate(-45)" font-size="25.5" text-anchor="end">BL + sham</text>
<line x1="282.40" y1="1625.80" x2="282.40" y2="1633.80" stroke="#000" stroke-width="2" />
<text transform="translate(287.3,1650) rotate(-45)" font-size="25.5" text-anchor="end">BL pre-MF</text>
<line x1="326.40" y1="1625.80" x2="326.40" y2="1633.80" stroke="#000" stroke-width="2" />
<text transform="translate(331.3,1650) rotate(-45)" font-size="25.5" text-anchor="end">BL + MF</text>
<text transform="translate(58,1441) rotate(-90)" font-size="25" text-anchor="middle" textLength="106.3" lengthAdjust="spacingAndGlyphs">Period (h)</text>
<path d="M286.2,1319 L286.2,1302.6 L334.9,1302.6 L334.9,1319" fill="none" stroke="#000" stroke-width="1.7"/>
<text x="311.0" y="1304.9" font-size="29" text-anchor="middle" fill="#000" >*</text>
<path d="M237,1365 L237,1348.6 L336.1,1348.6 L336.1,1365" fill="none" stroke="#000" stroke-width="1.7"/>
<text x="287.0" y="1351.7" font-size="29" text-anchor="middle" fill="#000" >*</text>
<line x1="151.50" y1="1497.50" x2="151.50" y2="1517.20" stroke="#000" stroke-width="1.3" />
<line x1="144.50" y1="1497.50" x2="158.50" y2="1497.50" stroke="#000" stroke-width="1.3" />
<line x1="144.50" y1="1517.20" x2="158.50" y2="1517.20" stroke="#000" stroke-width="1.3" />
<g fill="#000"><circle cx="149.1" cy="1433.4" r="2.4"/><circle cx="151.5" cy="1433.4" r="2.4"/><circle cx="153.9" cy="1433.4" r="2.4"/><circle cx="141.9" cy="1473.7" r="2.4"/><circle cx="144.3" cy="1473.7" r="2.4"/><circle cx="146.7" cy="1473.7" r="2.4"/><circle cx="149.1" cy="1473.7" r="2.4"/><circle cx="151.5" cy="1473.7" r="2.4"/><circle cx="153.9" cy="1473.7" r="2.4"/><circle cx="156.3" cy="1473.7" r="2.4"/><circle cx="158.7" cy="1473.7" r="2.4"/><circle cx="161.1" cy="1473.7" r="2.4"/><circle cx="151.5" cy="1497.5" r="2.4"/><circle cx="139.5" cy="1509.6" r="2.4"/><circle cx="141.9" cy="1509.6" r="2.4"/><circle cx="144.3" cy="1509.6" r="2.4"/><circle cx="146.7" cy="1509.6" r="2.4"/><circle cx="149.1" cy="1509.6" r="2.4"/><circle cx="151.5" cy="1509.6" r="2.4"/><circle cx="153.9" cy="1509.6" r="2.4"/><circle cx="156.3" cy="1509.6" r="2.4"/><circle cx="158.7" cy="1509.6" r="2.4"/><circle cx="161.1" cy="1509.6" r="2.4"/><circle cx="163.5" cy="1509.6" r="2.4"/><circle cx="147.9" cy="1542.0" r="2.4"/><circle cx="150.3" cy="1542.0" r="2.4"/><circle cx="152.7" cy="1542.0" r="2.4"/><circle cx="155.1" cy="1542.0" r="2.4"/><circle cx="151.5" cy="1573.7" r="2.4"/><circle cx="151.5" cy="1601.7" r="2.4"/></g>
<line x1="195.00" y1="1486.00" x2="195.00" y2="1495.00" stroke="#1414c8" stroke-width="1.3" />
<line x1="188.00" y1="1486.00" x2="202.00" y2="1486.00" stroke="#1414c8" stroke-width="1.3" />
<line x1="188.00" y1="1495.00" x2="202.00" y2="1495.00" stroke="#1414c8" stroke-width="1.3" />
<g fill="none" stroke="#1414c8" stroke-width="1.25"><circle cx="192.3" cy="1434.7" r="2.5"/><circle cx="195.0" cy="1434.7" r="2.5"/><circle cx="197.7" cy="1434.7" r="2.5"/><circle cx="195.0" cy="1450.5" r="2.5"/><circle cx="195.0" cy="1465.8" r="2.5"/><circle cx="189.6" cy="1473.2" r="2.5"/><circle cx="192.3" cy="1473.2" r="2.5"/><circle cx="195.0" cy="1473.2" r="2.5"/><circle cx="197.7" cy="1473.2" r="2.5"/><circle cx="200.4" cy="1473.2" r="2.5"/><circle cx="181.5" cy="1480.7" r="2.5"/><circle cx="184.2" cy="1480.7" r="2.5"/><circle cx="186.9" cy="1480.7" r="2.5"/><circle cx="189.6" cy="1480.7" r="2.5"/><circle cx="192.3" cy="1480.7" r="2.5"/><circle cx="195.0" cy="1480.7" r="2.5"/><circle cx="197.7" cy="1480.7" r="2.5"/><circle cx="200.4" cy="1480.7" r="2.5"/><circle cx="203.1" cy="1480.7" r="2.5"/><circle cx="205.8" cy="1480.7" r="2.5"/><circle cx="208.5" cy="1480.7" r="2.5"/><circle cx="184.2" cy="1494.2" r="2.5"/><circle cx="186.9" cy="1494.2" r="2.5"/><circle cx="189.6" cy="1494.2" r="2.5"/><circle cx="192.3" cy="1494.2" r="2.5"/><circle cx="195.0" cy="1494.2" r="2.5"/><circle cx="197.7" cy="1494.2" r="2.5"/><circle cx="200.4" cy="1494.2" r="2.5"/><circle cx="203.1" cy="1494.2" r="2.5"/><circle cx="205.8" cy="1494.2" r="2.5"/><circle cx="192.3" cy="1508.7" r="2.5"/><circle cx="195.0" cy="1508.7" r="2.5"/><circle cx="197.7" cy="1508.7" r="2.5"/><circle cx="193.7" cy="1522.3" r="2.5"/><circle cx="196.3" cy="1522.3" r="2.5"/><circle cx="189.6" cy="1535.4" r="2.5"/><circle cx="192.3" cy="1535.4" r="2.5"/><circle cx="195.0" cy="1535.4" r="2.5"/><circle cx="197.7" cy="1535.4" r="2.5"/><circle cx="200.4" cy="1535.4" r="2.5"/></g>
<line x1="238.80" y1="1483.00" x2="238.80" y2="1490.00" stroke="#0000c8" stroke-width="1.3" />
<line x1="231.80" y1="1483.00" x2="245.80" y2="1483.00" stroke="#0000c8" stroke-width="1.3" />
<line x1="231.80" y1="1490.00" x2="245.80" y2="1490.00" stroke="#0000c8" stroke-width="1.3" />
<g fill="#0000c8"><rect x="236.3" y="1448.0" width="5" height="5"/><rect x="236.3" y="1452.5" width="5" height="5"/><rect x="234.0" y="1463.3" width="5" height="5"/><rect x="238.6" y="1463.3" width="5" height="5"/><rect x="234.0" y="1470.7" width="5" height="5"/><rect x="238.6" y="1470.7" width="5" height="5"/><rect x="224.8" y="1478.2" width="5" height="5"/><rect x="229.4" y="1478.2" width="5" height="5"/><rect x="234.0" y="1478.2" width="5" height="5"/><rect x="238.6" y="1478.2" width="5" height="5"/><rect x="243.2" y="1478.2" width="5" height="5"/><rect x="247.8" y="1478.2" width="5" height="5"/><rect x="227.1" y="1491.7" width="5" height="5"/><rect x="231.7" y="1491.7" width="5" height="5"/><rect x="236.3" y="1491.7" width="5" height="5"/><rect x="240.9" y="1491.7" width="5" height="5"/><rect x="245.5" y="1491.7" width="5" height="5"/><rect x="229.4" y="1506.2" width="5" height="5"/><rect x="234.0" y="1506.2" width="5" height="5"/><rect x="238.6" y="1506.2" width="5" height="5"/><rect x="243.2" y="1506.2" width="5" height="5"/><rect x="236.3" y="1519.8" width="5" height="5"/></g>
<line x1="282.40" y1="1480.00" x2="282.40" y2="1493.00" stroke="#f02020" stroke-width="1.3" />
<line x1="275.40" y1="1480.00" x2="289.40" y2="1480.00" stroke="#f02020" stroke-width="1.3" />
<line x1="275.40" y1="1493.00" x2="289.40" y2="1493.00" stroke="#f02020" stroke-width="1.3" />
<g fill="none" stroke="#f02020" stroke-width="1.25"><rect x="275.5" y="1463.4" width="4.8" height="4.8"/><rect x="280.0" y="1463.4" width="4.8" height="4.8"/><rect x="284.5" y="1463.4" width="4.8" height="4.8"/><rect x="266.5" y="1470.8" width="4.8" height="4.8"/><rect x="271.0" y="1470.8" width="4.8" height="4.8"/><rect x="275.5" y="1470.8" width="4.8" height="4.8"/><rect x="280.0" y="1470.8" width="4.8" height="4.8"/><rect x="284.5" y="1470.8" width="4.8" height="4.8"/><rect x="289.0" y="1470.8" width="4.8" height="4.8"/><rect x="293.5" y="1470.8" width="4.8" height="4.8"/><rect x="268.8" y="1478.3" width="4.8" height="4.8"/><rect x="273.2" y="1478.3" width="4.8" height="4.8"/><rect x="277.8" y="1478.3" width="4.8" height="4.8"/><rect x="282.2" y="1478.3" width="4.8" height="4.8"/><rect x="286.8" y="1478.3" width="4.8" height="4.8"/><rect x="291.2" y="1478.3" width="4.8" height="4.8"/><rect x="266.5" y="1491.8" width="4.8" height="4.8"/><rect x="271.0" y="1491.8" width="4.8" height="4.8"/><rect x="275.5" y="1491.8" width="4.8" height="4.8"/><rect x="280.0" y="1491.8" width="4.8" height="4.8"/><rect x="284.5" y="1491.8" width="4.8" height="4.8"/><rect x="289.0" y="1491.8" width="4.8" height="4.8"/><rect x="293.5" y="1491.8" width="4.8" height="4.8"/><rect x="273.2" y="1506.3" width="4.8" height="4.8"/><rect x="277.8" y="1506.3" width="4.8" height="4.8"/><rect x="282.2" y="1506.3" width="4.8" height="4.8"/><rect x="286.8" y="1506.3" width="4.8" height="4.8"/><rect x="280.0" y="1519.9" width="4.8" height="4.8"/></g>
<line x1="326.40" y1="1497.50" x2="326.40" y2="1504.00" stroke="#ff0000" stroke-width="1.3" />
<line x1="319.40" y1="1497.50" x2="333.40" y2="1497.50" stroke="#ff0000" stroke-width="1.3" />
<line x1="319.40" y1="1504.00" x2="333.40" y2="1504.00" stroke="#ff0000" stroke-width="1.3" />
<g fill="#ff0000"><circle cx="325.1" cy="1465.8" r="2.6"/><circle cx="327.7" cy="1465.8" r="2.6"/><circle cx="326.4" cy="1480.5" r="2.6"/><circle cx="319.9" cy="1494.2" r="2.6"/><circle cx="322.5" cy="1494.2" r="2.6"/><circle cx="325.1" cy="1494.2" r="2.6"/><circle cx="327.7" cy="1494.2" r="2.6"/><circle cx="330.3" cy="1494.2" r="2.6"/><circle cx="332.9" cy="1494.2" r="2.6"/><circle cx="313.4" cy="1508.7" r="2.6"/><circle cx="316.0" cy="1508.7" r="2.6"/><circle cx="318.6" cy="1508.7" r="2.6"/><circle cx="321.2" cy="1508.7" r="2.6"/><circle cx="323.8" cy="1508.7" r="2.6"/><circle cx="326.4" cy="1508.7" r="2.6"/><circle cx="329.0" cy="1508.7" r="2.6"/><circle cx="331.6" cy="1508.7" r="2.6"/><circle cx="334.2" cy="1508.7" r="2.6"/><circle cx="336.8" cy="1508.7" r="2.6"/><circle cx="339.4" cy="1508.7" r="2.6"/><circle cx="325.1" cy="1522.3" r="2.6"/><circle cx="327.7" cy="1522.3" r="2.6"/><circle cx="326.4" cy="1535.4" r="2.6"/><circle cx="331.0" cy="1487.0" r="2.6"/><circle cx="317.0" cy="1491.5" r="2.6"/><circle cx="335.5" cy="1491.5" r="2.6"/></g>
</svg>
</body></html>
